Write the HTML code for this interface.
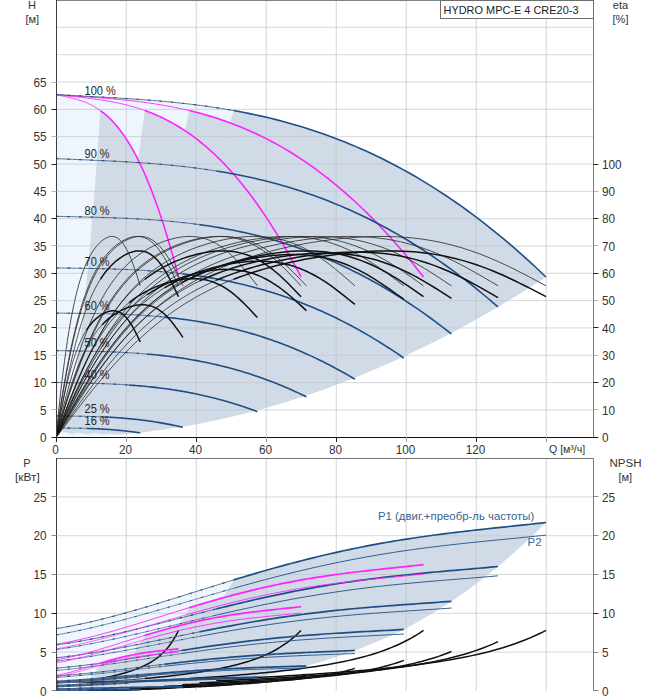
<!DOCTYPE html><html><head><meta charset="utf-8"><style>html,body{margin:0;padding:0;background:#fff;}svg{display:block;}text{font-family:"Liberation Sans",Arial,sans-serif;}</style></head><body>
<svg width="658" height="700" viewBox="0 0 658 700">
<defs><clipPath id="ct"><rect x="57" y="0" width="536" height="437"/></clipPath><clipPath id="cb"><rect x="57" y="458" width="536" height="233"/></clipPath></defs>
<g clip-path="url(#ct)">
<path d="M56,437.3 L56,94.59 L64.31,95.06 L72.61,95.51 L80.92,95.96 L89.22,96.4 L97.53,96.85 L105.83,97.31 L114.14,97.79 L122.44,98.29 L130.75,98.82 L139.05,99.4 L147.36,100.02 L155.66,100.69 L163.97,101.41 L172.27,102.2 L180.58,103.06 L188.88,104 L197.19,105.01 L205.49,106.11 L213.8,107.31 L222.1,108.59 L230.41,109.98 L238.71,111.48 L247.02,113.09 L255.32,114.82 L263.63,116.66 L271.93,118.63 L280.24,120.74 L288.54,122.97 L296.85,125.35 L305.15,127.87 L313.46,130.53 L321.76,133.35 L330.07,136.32 L338.37,139.45 L346.68,142.74 L354.98,146.19 L363.29,149.82 L371.59,153.61 L379.9,157.58 L388.2,161.72 L396.51,166.04 L404.81,170.55 L413.12,175.24 L421.42,180.12 L429.73,185.19 L438.03,190.45 L446.34,195.9 L454.64,201.55 L462.95,207.4 L471.25,213.44 L479.56,219.69 L487.86,226.14 L496.17,232.79 L504.47,239.64 L512.78,246.7 L521.08,253.97 L529.39,261.45 L537.69,269.13 L546,277.03 L546,277.03 L533.44,285.14 L520.87,293.04 L508.31,300.73 L495.74,308.22 L483.18,315.49 L470.62,322.55 L458.05,329.4 L445.49,336.04 L432.92,342.46 L420.36,348.68 L407.79,354.69 L395.23,360.48 L382.67,366.07 L370.1,371.44 L357.54,376.6 L344.97,381.56 L332.41,386.3 L319.85,390.83 L307.28,395.15 L294.72,399.26 L282.15,403.16 L269.59,406.85 L257.03,410.32 L244.46,413.59 L231.9,416.65 L219.33,419.49 L206.77,422.13 L194.21,424.55 L181.64,426.76 L169.08,428.76 L156.51,430.56 L143.95,432.14 L131.38,433.51 L118.82,434.67 L106.26,435.61 L93.69,436.35 L81.13,436.88 L68.56,437.19 L56,437.3 Z" fill="#eef5fd"/>
<path d="M100.42,110.56 L101.74,111.53 L103.06,112.54 L104.39,113.6 L105.71,114.71 L107.03,115.87 L108.36,117.08 L109.68,118.34 L111,119.65 L112.33,121.02 L113.65,122.44 L114.97,123.92 L116.3,125.45 L117.62,127.05 L118.95,128.7 L120.27,130.41 L121.59,132.18 L122.92,134.02 L124.24,135.91 L125.56,137.88 L126.89,139.9 L128.21,142 L129.53,144.15 L130.86,146.38 L132.18,148.68 L133.5,151.04 L134.83,153.47 L136.15,155.98 L137.47,158.56 L138.8,161.2 L140.12,163.92 L141.44,166.72 L142.77,169.59 L144.09,172.53 L145.41,175.55 L146.74,178.65 L148.06,181.82 L149.38,185.07 L150.71,188.4 L152.03,191.8 L153.35,195.29 L154.68,198.85 L156,202.49 L157.32,206.22 L158.65,210.02 L159.97,213.91 L161.3,217.88 L162.62,221.93 L163.94,226.06 L165.27,230.27 L166.59,234.57 L167.91,238.95 L169.24,243.42 L170.56,247.97 L171.88,252.6 L173.21,257.31 L174.53,262.11 L175.85,267 L177.18,271.97 L178.5,277.03 L178.5,277.03 L175.77,284.1 L173.03,291.01 L170.3,297.76 L167.57,304.35 L164.84,310.78 L162.1,317.06 L159.37,323.17 L156.64,329.13 L153.91,334.92 L151.17,340.56 L148.44,346.03 L145.71,351.35 L142.97,356.51 L140.24,361.5 L137.51,366.34 L134.78,371.02 L132.04,375.54 L129.31,379.9 L126.58,384.1 L123.85,388.14 L121.11,392.02 L118.38,395.74 L115.65,399.3 L112.92,402.7 L110.18,405.94 L107.45,409.03 L104.72,411.95 L101.98,414.72 L99.25,417.32 L96.52,419.76 L93.79,422.05 L91.05,424.18 L88.32,426.14 L85.59,427.95 L82.86,429.6 L80.12,431.08 L77.39,432.41 L74.66,433.58 L71.92,434.59 L71.92,434.59 L71.75,434.51 L71.58,434.42 L71.41,434.34 L71.24,434.26 L71.06,434.18 L70.89,434.1 L70.72,434.02 L70.55,433.95 L70.38,433.87 L70.2,433.8 L70.03,433.73 L69.86,433.66 L69.69,433.59 L69.52,433.52 L69.34,433.46 L69.17,433.39 L69,433.33 L68.83,433.27 L68.66,433.21 L68.48,433.15 L68.31,433.09 L68.14,433.04 L67.97,432.98 L67.8,432.93 L67.62,432.88 L67.45,432.83 L67.28,432.78 L67.11,432.73 L66.94,432.68 L66.76,432.63 L66.59,432.59 L66.42,432.55 L66.25,432.5 L66.08,432.46 L65.9,432.42 L65.73,432.38 L65.56,432.35 L65.39,432.31 L65.22,432.27 L65.04,432.24 L64.87,432.21 L64.7,432.17 L64.53,432.14 L64.35,432.11 L64.18,432.08 L64.01,432.06 L63.84,432.03 L63.67,432 L63.49,431.98 L63.32,431.95 L63.15,431.93 L62.98,431.91 L62.81,431.89 L62.63,431.87 L62.46,431.85 L62.29,431.83 L62.12,431.81 L61.95,431.79 L61.77,431.78 L61.77,431.78 L62.77,429.72 L63.76,427.34 L64.75,424.63 L65.74,421.6 L66.73,418.24 L67.72,414.55 L68.71,410.55 L69.7,406.21 L70.69,401.55 L71.68,396.57 L72.67,391.26 L73.66,385.62 L74.66,379.66 L75.65,373.38 L76.64,366.77 L77.63,359.83 L78.62,352.57 L79.61,344.98 L80.6,337.07 L81.59,328.84 L82.58,320.28 L83.57,311.39 L84.56,302.18 L85.55,292.64 L86.55,282.78 L87.54,272.59 L88.53,262.08 L89.52,251.24 L90.51,240.08 L91.5,228.59 L92.49,216.77 L93.48,204.64 L94.47,192.17 L95.46,179.38 L96.45,166.27 L97.44,152.83 L98.44,139.06 L99.43,124.97 L100.42,110.56 Z" fill="#d0dbe7"/>
<path d="M144.83,110.56 L147.48,111.53 L150.13,112.54 L152.77,113.6 L155.42,114.71 L158.07,115.87 L160.72,117.08 L163.36,118.34 L166.01,119.65 L168.66,121.02 L171.3,122.44 L173.95,123.92 L176.6,125.45 L179.24,127.05 L181.89,128.7 L184.54,130.41 L187.18,132.18 L189.83,134.02 L192.48,135.91 L195.12,137.88 L197.77,139.9 L200.42,142 L203.07,144.15 L205.71,146.38 L208.36,148.68 L211.01,151.04 L213.65,153.47 L216.3,155.98 L218.95,158.56 L221.59,161.2 L224.24,163.92 L226.89,166.72 L229.53,169.59 L232.18,172.53 L234.83,175.55 L237.47,178.65 L240.12,181.82 L242.77,185.07 L245.42,188.4 L248.06,191.8 L250.71,195.29 L253.36,198.85 L256,202.49 L258.65,206.22 L261.3,210.02 L263.94,213.91 L266.59,217.88 L269.24,221.93 L271.88,226.06 L274.53,230.27 L277.18,234.57 L279.82,238.95 L282.47,243.42 L285.12,247.97 L287.77,252.6 L290.41,257.31 L293.06,262.11 L295.71,267 L298.35,271.97 L301,277.03 L301,277.03 L295.53,284.1 L290.07,291.01 L284.6,297.76 L279.14,304.35 L273.67,310.78 L268.21,317.06 L262.74,323.17 L257.28,329.13 L251.81,334.92 L246.35,340.56 L240.88,346.03 L235.42,351.35 L229.95,356.51 L224.48,361.5 L219.02,366.34 L213.55,371.02 L208.09,375.54 L202.62,379.9 L197.16,384.1 L191.69,388.14 L186.23,392.02 L180.76,395.74 L175.3,399.3 L169.83,402.7 L164.37,405.94 L158.9,409.03 L153.43,411.95 L147.97,414.72 L142.5,417.32 L137.04,419.76 L131.57,422.05 L126.11,424.18 L120.64,426.14 L115.18,427.95 L109.71,429.6 L104.25,431.08 L98.78,432.41 L93.32,433.58 L87.85,434.59 L87.85,434.59 L87.51,434.51 L87.16,434.42 L86.82,434.34 L86.47,434.26 L86.13,434.18 L85.79,434.1 L85.44,434.02 L85.1,433.95 L84.75,433.87 L84.41,433.8 L84.06,433.73 L83.72,433.66 L83.38,433.59 L83.03,433.52 L82.69,433.46 L82.34,433.39 L82,433.33 L81.66,433.27 L81.31,433.21 L80.97,433.15 L80.62,433.09 L80.28,433.04 L79.94,432.98 L79.59,432.93 L79.25,432.88 L78.9,432.83 L78.56,432.78 L78.22,432.73 L77.87,432.68 L77.53,432.63 L77.18,432.59 L76.84,432.55 L76.49,432.5 L76.15,432.46 L75.81,432.42 L75.46,432.38 L75.12,432.35 L74.77,432.31 L74.43,432.27 L74.09,432.24 L73.74,432.21 L73.4,432.17 L73.05,432.14 L72.71,432.11 L72.37,432.08 L72.02,432.06 L71.68,432.03 L71.33,432 L70.99,431.98 L70.65,431.95 L70.3,431.93 L69.96,431.91 L69.61,431.89 L69.27,431.87 L68.92,431.85 L68.58,431.83 L68.24,431.81 L67.89,431.79 L67.55,431.78 L67.55,431.78 L69.53,429.72 L71.51,427.34 L73.49,424.63 L75.48,421.6 L77.46,418.24 L79.44,414.55 L81.42,410.55 L83.4,406.21 L85.38,401.55 L87.37,396.57 L89.35,391.26 L91.33,385.62 L93.31,379.66 L95.29,373.38 L97.27,366.77 L99.26,359.83 L101.24,352.57 L103.22,344.98 L105.2,337.07 L107.18,328.84 L109.16,320.28 L111.15,311.39 L113.13,302.18 L115.11,292.64 L117.09,282.78 L119.07,272.59 L121.05,262.08 L123.04,251.24 L125.02,240.08 L127,228.59 L128.98,216.77 L130.96,204.64 L132.94,192.17 L134.93,179.38 L136.91,166.27 L138.89,152.83 L140.87,139.06 L142.85,124.97 L144.83,110.56 Z" fill="#d0dbe7"/>
<path d="M189.25,110.56 L193.22,111.53 L197.19,112.54 L201.16,113.6 L205.13,114.71 L209.1,115.87 L213.07,117.08 L217.04,118.34 L221.01,119.65 L224.98,121.02 L228.95,122.44 L232.92,123.92 L236.89,125.45 L240.87,127.05 L244.84,128.7 L248.81,130.41 L252.78,132.18 L256.75,134.02 L260.72,135.91 L264.69,137.88 L268.66,139.9 L272.63,142 L276.6,144.15 L280.57,146.38 L284.54,148.68 L288.51,151.04 L292.48,153.47 L296.45,155.98 L300.42,158.56 L304.39,161.2 L308.36,163.92 L312.33,166.72 L316.3,169.59 L320.27,172.53 L324.24,175.55 L328.21,178.65 L332.18,181.82 L336.15,185.07 L340.12,188.4 L344.09,191.8 L348.06,195.29 L352.03,198.85 L356,202.49 L359.97,206.22 L363.95,210.02 L367.92,213.91 L371.89,217.88 L375.86,221.93 L379.83,226.06 L383.8,230.27 L387.77,234.57 L391.74,238.95 L395.71,243.42 L399.68,247.97 L403.65,252.6 L407.62,257.31 L411.59,262.11 L415.56,267 L419.53,271.97 L423.5,277.03 L423.5,277.03 L415.3,284.1 L407.1,291.01 L398.91,297.76 L390.71,304.35 L382.51,310.78 L374.31,317.06 L366.11,323.17 L357.92,329.13 L349.72,334.92 L341.52,340.56 L333.32,346.03 L325.12,351.35 L316.93,356.51 L308.73,361.5 L300.53,366.34 L292.33,371.02 L284.13,375.54 L275.93,379.9 L267.74,384.1 L259.54,388.14 L251.34,392.02 L243.14,395.74 L234.94,399.3 L226.75,402.7 L218.55,405.94 L210.35,409.03 L202.15,411.95 L193.95,414.72 L185.76,417.32 L177.56,419.76 L169.36,422.05 L161.16,424.18 L152.96,426.14 L144.77,427.95 L136.57,429.6 L128.37,431.08 L120.17,432.41 L111.97,433.58 L103.78,434.59 L103.77,434.59 L103.26,434.51 L102.74,434.42 L102.23,434.34 L101.71,434.26 L101.19,434.18 L100.68,434.1 L100.16,434.02 L99.65,433.95 L99.13,433.87 L98.61,433.8 L98.1,433.73 L97.58,433.66 L97.07,433.59 L96.55,433.52 L96.03,433.46 L95.52,433.39 L95,433.33 L94.48,433.27 L93.97,433.21 L93.45,433.15 L92.94,433.09 L92.42,433.04 L91.9,432.98 L91.39,432.93 L90.87,432.88 L90.36,432.83 L89.84,432.78 L89.32,432.73 L88.81,432.68 L88.29,432.63 L87.77,432.59 L87.26,432.55 L86.74,432.5 L86.23,432.46 L85.71,432.42 L85.19,432.38 L84.68,432.35 L84.16,432.31 L83.65,432.27 L83.13,432.24 L82.61,432.21 L82.1,432.17 L81.58,432.14 L81.06,432.11 L80.55,432.08 L80.03,432.06 L79.52,432.03 L79,432 L78.48,431.98 L77.97,431.95 L77.45,431.93 L76.94,431.91 L76.42,431.89 L75.9,431.87 L75.39,431.85 L74.87,431.83 L74.35,431.81 L73.84,431.79 L73.32,431.78 L73.32,431.78 L76.3,429.72 L79.27,427.34 L82.24,424.63 L85.21,421.6 L88.19,418.24 L91.16,414.55 L94.13,410.55 L97.1,406.21 L100.08,401.55 L103.05,396.57 L106.02,391.26 L108.99,385.62 L111.97,379.66 L114.94,373.38 L117.91,366.77 L120.88,359.83 L123.86,352.57 L126.83,344.98 L129.8,337.07 L132.77,328.84 L135.75,320.28 L138.72,311.39 L141.69,302.18 L144.66,292.64 L147.64,282.78 L150.61,272.59 L153.58,262.08 L156.55,251.24 L159.53,240.08 L162.5,228.59 L165.47,216.77 L168.44,204.64 L171.42,192.17 L174.39,179.38 L177.36,166.27 L180.33,152.83 L183.31,139.06 L186.28,124.97 L189.25,110.56 Z" fill="#d0dbe7"/>
<path d="M233.67,110.56 L238.96,111.53 L244.26,112.54 L249.55,113.6 L254.84,114.71 L260.14,115.87 L265.43,117.08 L270.72,118.34 L276.02,119.65 L281.31,121.02 L286.61,122.44 L291.9,123.92 L297.19,125.45 L302.49,127.05 L307.78,128.7 L313.07,130.41 L318.37,132.18 L323.66,134.02 L328.96,135.91 L334.25,137.88 L339.54,139.9 L344.84,142 L350.13,144.15 L355.42,146.38 L360.72,148.68 L366.01,151.04 L371.31,153.47 L376.6,155.98 L381.89,158.56 L387.19,161.2 L392.48,163.92 L397.77,166.72 L403.07,169.59 L408.36,172.53 L413.66,175.55 L418.95,178.65 L424.24,181.82 L429.54,185.07 L434.83,188.4 L440.12,191.8 L445.42,195.29 L450.71,198.85 L456.01,202.49 L461.3,206.22 L466.59,210.02 L471.89,213.91 L477.18,217.88 L482.47,221.93 L487.77,226.06 L493.06,230.27 L498.36,234.57 L503.65,238.95 L508.94,243.42 L514.24,247.97 L519.53,252.6 L524.82,257.31 L530.12,262.11 L535.41,267 L540.71,271.97 L546,277.03 L546,277.03 L535.07,284.1 L524.14,291.01 L513.21,297.76 L502.28,304.35 L491.35,310.78 L480.42,317.06 L469.48,323.17 L458.55,329.13 L447.62,334.92 L436.69,340.56 L425.76,346.03 L414.83,351.35 L403.9,356.51 L392.97,361.5 L382.04,366.34 L371.11,371.02 L360.18,375.54 L349.25,379.9 L338.32,384.1 L327.38,388.14 L316.45,392.02 L305.52,395.74 L294.59,399.3 L283.66,402.7 L272.73,405.94 L261.8,409.03 L250.87,411.95 L239.94,414.72 L229.01,417.32 L218.08,419.76 L207.15,422.05 L196.22,424.18 L185.28,426.14 L174.35,427.95 L163.42,429.6 L152.49,431.08 L141.56,432.41 L130.63,433.58 L119.7,434.59 L119.7,434.59 L119.01,434.51 L118.32,434.42 L117.64,434.34 L116.95,434.26 L116.26,434.18 L115.57,434.1 L114.88,434.02 L114.19,433.95 L113.51,433.87 L112.82,433.8 L112.13,433.73 L111.44,433.66 L110.75,433.59 L110.07,433.52 L109.38,433.46 L108.69,433.39 L108,433.33 L107.31,433.27 L106.62,433.21 L105.94,433.15 L105.25,433.09 L104.56,433.04 L103.87,432.98 L103.18,432.93 L102.5,432.88 L101.81,432.83 L101.12,432.78 L100.43,432.73 L99.74,432.68 L99.05,432.63 L98.37,432.59 L97.68,432.55 L96.99,432.5 L96.3,432.46 L95.61,432.42 L94.93,432.38 L94.24,432.35 L93.55,432.31 L92.86,432.27 L92.17,432.24 L91.48,432.21 L90.8,432.17 L90.11,432.14 L89.42,432.11 L88.73,432.08 L88.04,432.06 L87.36,432.03 L86.67,432 L85.98,431.98 L85.29,431.95 L84.6,431.93 L83.91,431.91 L83.23,431.89 L82.54,431.87 L81.85,431.85 L81.16,431.83 L80.47,431.81 L79.79,431.79 L79.1,431.78 L79.1,431.78 L83.06,429.72 L87.02,427.34 L90.99,424.63 L94.95,421.6 L98.91,418.24 L102.88,414.55 L106.84,410.55 L110.8,406.21 L114.77,401.55 L118.73,396.57 L122.69,391.26 L126.66,385.62 L130.62,379.66 L134.58,373.38 L138.55,366.77 L142.51,359.83 L146.47,352.57 L150.44,344.98 L154.4,337.07 L158.36,328.84 L162.33,320.28 L166.29,311.39 L170.25,302.18 L174.22,292.64 L178.18,282.78 L182.14,272.59 L186.11,262.08 L190.07,251.24 L194.03,240.08 L198,228.59 L201.96,216.77 L205.92,204.64 L209.89,192.17 L213.85,179.38 L217.81,166.27 L221.78,152.83 L225.74,139.06 L229.7,124.97 L233.67,110.56 Z" fill="#d0dbe7"/>
<line x1="57" y1="409.97" x2="593" y2="409.97" stroke="#bec3c8" stroke-opacity="0.65" stroke-width="1"/>
<line x1="57" y1="382.64" x2="593" y2="382.64" stroke="#bec3c8" stroke-opacity="0.65" stroke-width="1"/>
<line x1="57" y1="355.31" x2="593" y2="355.31" stroke="#bec3c8" stroke-opacity="0.65" stroke-width="1"/>
<line x1="57" y1="327.98" x2="593" y2="327.98" stroke="#bec3c8" stroke-opacity="0.65" stroke-width="1"/>
<line x1="57" y1="300.65" x2="593" y2="300.65" stroke="#bec3c8" stroke-opacity="0.65" stroke-width="1"/>
<line x1="57" y1="273.32" x2="593" y2="273.32" stroke="#bec3c8" stroke-opacity="0.65" stroke-width="1"/>
<line x1="57" y1="245.99" x2="593" y2="245.99" stroke="#bec3c8" stroke-opacity="0.65" stroke-width="1"/>
<line x1="57" y1="218.66" x2="593" y2="218.66" stroke="#bec3c8" stroke-opacity="0.65" stroke-width="1"/>
<line x1="57" y1="191.33" x2="593" y2="191.33" stroke="#bec3c8" stroke-opacity="0.65" stroke-width="1"/>
<line x1="57" y1="164" x2="593" y2="164" stroke="#bec3c8" stroke-opacity="0.65" stroke-width="1"/>
<line x1="57" y1="136.67" x2="593" y2="136.67" stroke="#bec3c8" stroke-opacity="0.65" stroke-width="1"/>
<line x1="57" y1="109.34" x2="593" y2="109.34" stroke="#bec3c8" stroke-opacity="0.65" stroke-width="1"/>
<line x1="57" y1="82.01" x2="593" y2="82.01" stroke="#bec3c8" stroke-opacity="0.65" stroke-width="1"/>
<line x1="57" y1="54.68" x2="593" y2="54.68" stroke="#bec3c8" stroke-opacity="0.65" stroke-width="1"/>
<line x1="57" y1="27.35" x2="593" y2="27.35" stroke="#bec3c8" stroke-opacity="0.65" stroke-width="1"/>
<line x1="126.25" y1="1" x2="126.25" y2="437" stroke="#bec3c8" stroke-opacity="0.65" stroke-width="1.1"/>
<line x1="196.25" y1="1" x2="196.25" y2="437" stroke="#bec3c8" stroke-opacity="0.65" stroke-width="1.1"/>
<line x1="266.25" y1="1" x2="266.25" y2="437" stroke="#bec3c8" stroke-opacity="0.65" stroke-width="1.1"/>
<line x1="336.25" y1="1" x2="336.25" y2="437" stroke="#bec3c8" stroke-opacity="0.65" stroke-width="1.1"/>
<line x1="406.25" y1="1" x2="406.25" y2="437" stroke="#bec3c8" stroke-opacity="0.65" stroke-width="1.1"/>
<line x1="476.25" y1="1" x2="476.25" y2="437" stroke="#bec3c8" stroke-opacity="0.65" stroke-width="1.1"/>
<line x1="546.25" y1="1" x2="546.25" y2="437" stroke="#bec3c8" stroke-opacity="0.65" stroke-width="1.1"/>
<path d="M56,94.59 L56.75,94.76 L57.51,94.93 L58.26,95.1 L59.01,95.27 L59.76,95.43 L60.52,95.59 L61.27,95.75 L62.02,95.91 L62.78,96.08 L63.53,96.24 L64.28,96.4 L65.03,96.56 L65.79,96.72 L66.54,96.88 L67.29,97.05 L68.05,97.22 L68.8,97.38 L69.55,97.56 L70.3,97.73 L71.06,97.91 L71.81,98.09 L72.56,98.28 L73.32,98.47 L74.07,98.66 L74.82,98.86 L75.57,99.06 L76.33,99.27 L77.08,99.49 L77.83,99.71 L78.58,99.94 L79.34,100.17 L80.09,100.41 L80.84,100.66 L81.6,100.92 L82.35,101.18 L83.1,101.45 L83.85,101.73 L84.61,102.02 L85.36,102.32 L86.11,102.63 L86.87,102.94 L87.62,103.27 L88.37,103.61 L89.12,103.95 L89.88,104.31 L90.63,104.68 L91.38,105.06 L92.14,105.45 L92.89,105.85 L93.64,106.26 L94.39,106.69 L95.15,107.13 L95.9,107.58 L96.65,108.04 L97.41,108.52 L98.16,109.01 L98.91,109.51 L99.66,110.03 L100.42,110.56" fill="none" stroke="#ff22ff" stroke-width="0.9"/>
<path d="M100.42,110.56 L101.74,111.53 L103.06,112.54 L104.39,113.6 L105.71,114.71 L107.03,115.87 L108.36,117.08 L109.68,118.34 L111,119.65 L112.33,121.02 L113.65,122.44 L114.97,123.92 L116.3,125.45 L117.62,127.05 L118.95,128.7 L120.27,130.41 L121.59,132.18 L122.92,134.02 L124.24,135.91 L125.56,137.88 L126.89,139.9 L128.21,142 L129.53,144.15 L130.86,146.38 L132.18,148.68 L133.5,151.04 L134.83,153.47 L136.15,155.98 L137.47,158.56 L138.8,161.2 L140.12,163.92 L141.44,166.72 L142.77,169.59 L144.09,172.53 L145.41,175.55 L146.74,178.65 L148.06,181.82 L149.38,185.07 L150.71,188.4 L152.03,191.8 L153.35,195.29 L154.68,198.85 L156,202.49 L157.32,206.22 L158.65,210.02 L159.97,213.91 L161.3,217.88 L162.62,221.93 L163.94,226.06 L165.27,230.27 L166.59,234.57 L167.91,238.95 L169.24,243.42 L170.56,247.97 L171.88,252.6 L173.21,257.31 L174.53,262.11 L175.85,267 L177.18,271.97 L178.5,277.03" fill="none" stroke="#ff22ff" stroke-width="1.6"/>
<path d="M56,94.59 L57.51,94.76 L59.01,94.93 L60.52,95.1 L62.02,95.27 L63.53,95.43 L65.03,95.59 L66.54,95.75 L68.05,95.91 L69.55,96.08 L71.06,96.24 L72.56,96.4 L74.07,96.56 L75.57,96.72 L77.08,96.88 L78.58,97.05 L80.09,97.22 L81.6,97.38 L83.1,97.56 L84.61,97.73 L86.11,97.91 L87.62,98.09 L89.12,98.28 L90.63,98.47 L92.14,98.66 L93.64,98.86 L95.15,99.06 L96.65,99.27 L98.16,99.49 L99.66,99.71 L101.17,99.94 L102.68,100.17 L104.18,100.41 L105.69,100.66 L107.19,100.92 L108.7,101.18 L110.2,101.45 L111.71,101.73 L113.22,102.02 L114.72,102.32 L116.23,102.63 L117.73,102.94 L119.24,103.27 L120.74,103.61 L122.25,103.95 L123.75,104.31 L125.26,104.68 L126.77,105.06 L128.27,105.45 L129.78,105.85 L131.28,106.26 L132.79,106.69 L134.29,107.13 L135.8,107.58 L137.31,108.04 L138.81,108.52 L140.32,109.01 L141.82,109.51 L143.33,110.03 L144.83,110.56" fill="none" stroke="#ff22ff" stroke-width="0.9"/>
<path d="M144.83,110.56 L147.48,111.53 L150.13,112.54 L152.77,113.6 L155.42,114.71 L158.07,115.87 L160.72,117.08 L163.36,118.34 L166.01,119.65 L168.66,121.02 L171.3,122.44 L173.95,123.92 L176.6,125.45 L179.24,127.05 L181.89,128.7 L184.54,130.41 L187.18,132.18 L189.83,134.02 L192.48,135.91 L195.12,137.88 L197.77,139.9 L200.42,142 L203.07,144.15 L205.71,146.38 L208.36,148.68 L211.01,151.04 L213.65,153.47 L216.3,155.98 L218.95,158.56 L221.59,161.2 L224.24,163.92 L226.89,166.72 L229.53,169.59 L232.18,172.53 L234.83,175.55 L237.47,178.65 L240.12,181.82 L242.77,185.07 L245.42,188.4 L248.06,191.8 L250.71,195.29 L253.36,198.85 L256,202.49 L258.65,206.22 L261.3,210.02 L263.94,213.91 L266.59,217.88 L269.24,221.93 L271.88,226.06 L274.53,230.27 L277.18,234.57 L279.82,238.95 L282.47,243.42 L285.12,247.97 L287.77,252.6 L290.41,257.31 L293.06,262.11 L295.71,267 L298.35,271.97 L301,277.03" fill="none" stroke="#ff22ff" stroke-width="1.6"/>
<path d="M56,94.59 L58.26,94.76 L60.52,94.93 L62.78,95.1 L65.03,95.27 L67.29,95.43 L69.55,95.59 L71.81,95.75 L74.07,95.91 L76.33,96.08 L78.58,96.24 L80.84,96.4 L83.1,96.56 L85.36,96.72 L87.62,96.88 L89.88,97.05 L92.14,97.22 L94.39,97.38 L96.65,97.56 L98.91,97.73 L101.17,97.91 L103.43,98.09 L105.69,98.28 L107.95,98.47 L110.2,98.66 L112.46,98.86 L114.72,99.06 L116.98,99.27 L119.24,99.49 L121.5,99.71 L123.75,99.94 L126.01,100.17 L128.27,100.41 L130.53,100.66 L132.79,100.92 L135.05,101.18 L137.31,101.45 L139.56,101.73 L141.82,102.02 L144.08,102.32 L146.34,102.63 L148.6,102.94 L150.86,103.27 L153.12,103.61 L155.37,103.95 L157.63,104.31 L159.89,104.68 L162.15,105.06 L164.41,105.45 L166.67,105.85 L168.92,106.26 L171.18,106.69 L173.44,107.13 L175.7,107.58 L177.96,108.04 L180.22,108.52 L182.48,109.01 L184.73,109.51 L186.99,110.03 L189.25,110.56" fill="none" stroke="#ff22ff" stroke-width="0.9"/>
<path d="M189.25,110.56 L193.22,111.53 L197.19,112.54 L201.16,113.6 L205.13,114.71 L209.1,115.87 L213.07,117.08 L217.04,118.34 L221.01,119.65 L224.98,121.02 L228.95,122.44 L232.92,123.92 L236.89,125.45 L240.87,127.05 L244.84,128.7 L248.81,130.41 L252.78,132.18 L256.75,134.02 L260.72,135.91 L264.69,137.88 L268.66,139.9 L272.63,142 L276.6,144.15 L280.57,146.38 L284.54,148.68 L288.51,151.04 L292.48,153.47 L296.45,155.98 L300.42,158.56 L304.39,161.2 L308.36,163.92 L312.33,166.72 L316.3,169.59 L320.27,172.53 L324.24,175.55 L328.21,178.65 L332.18,181.82 L336.15,185.07 L340.12,188.4 L344.09,191.8 L348.06,195.29 L352.03,198.85 L356,202.49 L359.97,206.22 L363.95,210.02 L367.92,213.91 L371.89,217.88 L375.86,221.93 L379.83,226.06 L383.8,230.27 L387.77,234.57 L391.74,238.95 L395.71,243.42 L399.68,247.97 L403.65,252.6 L407.62,257.31 L411.59,262.11 L415.56,267 L419.53,271.97 L423.5,277.03" fill="none" stroke="#ff22ff" stroke-width="1.6"/>
<path d="M56,94.59 L59.01,94.76 L62.02,94.93 L65.03,95.1 L68.05,95.27 L71.06,95.43 L74.07,95.59 L77.08,95.75 L80.09,95.91 L83.1,96.08 L86.11,96.24 L89.12,96.4 L92.14,96.56 L95.15,96.72 L98.16,96.88 L101.17,97.05 L104.18,97.22 L107.19,97.38 L110.2,97.56 L113.22,97.73 L116.23,97.91 L119.24,98.09 L122.25,98.28 L125.26,98.47 L128.27,98.66 L131.28,98.86 L134.29,99.06 L137.31,99.27 L140.32,99.49 L143.33,99.71 L146.34,99.94 L149.35,100.17 L152.36,100.41 L155.37,100.66 L158.39,100.92 L161.4,101.18 L164.41,101.45 L167.42,101.73 L170.43,102.02 L173.44,102.32 L176.45,102.63 L179.46,102.94 L182.48,103.27 L185.49,103.61 L188.5,103.95 L191.51,104.31 L194.52,104.68 L197.53,105.06 L200.54,105.45 L203.55,105.85 L206.57,106.26 L209.58,106.69 L212.59,107.13 L215.6,107.58 L218.61,108.04 L221.62,108.52 L224.63,109.01 L227.65,109.51 L230.66,110.03 L233.67,110.56" fill="none" stroke="#4a6488" stroke-width="0.9"/><path d="M56,94.59 L59.01,94.76 L62.02,94.93 L65.03,95.1 L68.05,95.27 L71.06,95.43 L74.07,95.59 L77.08,95.75 L80.09,95.91 L83.1,96.08 L86.11,96.24 L89.12,96.4 L92.14,96.56 L95.15,96.72 L98.16,96.88 L101.17,97.05 L104.18,97.22 L107.19,97.38 L110.2,97.56 L113.22,97.73 L116.23,97.91 L119.24,98.09 L122.25,98.28 L125.26,98.47 L128.27,98.66 L131.28,98.86 L134.29,99.06 L137.31,99.27 L140.32,99.49 L143.33,99.71 L146.34,99.94 L149.35,100.17 L152.36,100.41 L155.37,100.66 L158.39,100.92 L161.4,101.18 L164.41,101.45 L167.42,101.73 L170.43,102.02 L173.44,102.32 L176.45,102.63 L179.46,102.94 L182.48,103.27 L185.49,103.61 L188.5,103.95 L191.51,104.31 L194.52,104.68 L197.53,105.06 L200.54,105.45 L203.55,105.85 L206.57,106.26 L209.58,106.69 L212.59,107.13 L215.6,107.58 L218.61,108.04 L221.62,108.52 L224.63,109.01 L227.65,109.51 L230.66,110.03 L233.67,110.56" fill="none" stroke="#1f4e85" stroke-width="1.1" stroke-dasharray="2.5 9"/>
<path d="M233.67,110.56 L238.96,111.53 L244.26,112.54 L249.55,113.6 L254.84,114.71 L260.14,115.87 L265.43,117.08 L270.72,118.34 L276.02,119.65 L281.31,121.02 L286.61,122.44 L291.9,123.92 L297.19,125.45 L302.49,127.05 L307.78,128.7 L313.07,130.41 L318.37,132.18 L323.66,134.02 L328.96,135.91 L334.25,137.88 L339.54,139.9 L344.84,142 L350.13,144.15 L355.42,146.38 L360.72,148.68 L366.01,151.04 L371.31,153.47 L376.6,155.98 L381.89,158.56 L387.19,161.2 L392.48,163.92 L397.77,166.72 L403.07,169.59 L408.36,172.53 L413.66,175.55 L418.95,178.65 L424.24,181.82 L429.54,185.07 L434.83,188.4 L440.12,191.8 L445.42,195.29 L450.71,198.85 L456.01,202.49 L461.3,206.22 L466.59,210.02 L471.89,213.91 L477.18,217.88 L482.47,221.93 L487.77,226.06 L493.06,230.27 L498.36,234.57 L503.65,238.95 L508.94,243.42 L514.24,247.97 L519.53,252.6 L524.82,257.31 L530.12,262.11 L535.41,267 L540.71,271.97 L546,277.03" fill="none" stroke="#1f4e85" stroke-width="1.6"/>
<path d="M56,158.59 L58.72,158.72 L61.43,158.84 L64.15,158.96 L66.86,159.08 L69.58,159.2 L72.3,159.32 L75.01,159.43 L77.73,159.55 L80.45,159.66 L83.16,159.78 L85.88,159.9 L88.59,160.01 L91.31,160.13 L94.03,160.25 L96.74,160.37 L99.46,160.5 L102.18,160.62 L104.89,160.75 L107.61,160.88 L110.32,161.01 L113.04,161.15 L115.76,161.29 L118.47,161.43 L121.19,161.57 L123.91,161.73 L126.62,161.88 L129.34,162.04 L132.05,162.2 L134.77,162.37 L137.49,162.55 L140.2,162.73 L142.92,162.92 L145.64,163.11 L148.35,163.31 L151.07,163.51 L153.78,163.72 L156.5,163.94 L159.22,164.17 L161.93,164.4 L164.65,164.64 L167.36,164.89 L170.08,165.15 L172.8,165.42 L175.51,165.69 L178.23,165.97 L180.95,166.27 L183.66,166.57 L186.38,166.88 L189.09,167.2 L191.81,167.53 L194.53,167.87 L197.24,168.22 L199.96,168.58 L202.68,168.95 L205.39,169.33 L208.11,169.73 L210.82,170.13 L213.54,170.55 L216.26,170.97" fill="none" stroke="#4a6488" stroke-width="0.9"/><path d="M56,158.59 L58.72,158.72 L61.43,158.84 L64.15,158.96 L66.86,159.08 L69.58,159.2 L72.3,159.32 L75.01,159.43 L77.73,159.55 L80.45,159.66 L83.16,159.78 L85.88,159.9 L88.59,160.01 L91.31,160.13 L94.03,160.25 L96.74,160.37 L99.46,160.5 L102.18,160.62 L104.89,160.75 L107.61,160.88 L110.32,161.01 L113.04,161.15 L115.76,161.29 L118.47,161.43 L121.19,161.57 L123.91,161.73 L126.62,161.88 L129.34,162.04 L132.05,162.2 L134.77,162.37 L137.49,162.55 L140.2,162.73 L142.92,162.92 L145.64,163.11 L148.35,163.31 L151.07,163.51 L153.78,163.72 L156.5,163.94 L159.22,164.17 L161.93,164.4 L164.65,164.64 L167.36,164.89 L170.08,165.15 L172.8,165.42 L175.51,165.69 L178.23,165.97 L180.95,166.27 L183.66,166.57 L186.38,166.88 L189.09,167.2 L191.81,167.53 L194.53,167.87 L197.24,168.22 L199.96,168.58 L202.68,168.95 L205.39,169.33 L208.11,169.73 L210.82,170.13 L213.54,170.55 L216.26,170.97" fill="none" stroke="#1f4e85" stroke-width="1.1" stroke-dasharray="2.5 9"/>
<path d="M216.26,170.97 L221.03,171.75 L225.81,172.57 L230.58,173.43 L235.36,174.33 L240.13,175.26 L244.91,176.24 L249.68,177.26 L254.46,178.33 L259.23,179.44 L264.01,180.59 L268.78,181.79 L273.56,183.04 L278.33,184.33 L283.11,185.68 L287.88,187.07 L292.66,188.51 L297.43,190.01 L302.21,191.55 L306.98,193.15 L311.76,194.8 L316.53,196.51 L321.31,198.27 L326.08,200.09 L330.86,201.96 L335.63,203.89 L340.41,205.88 L345.18,207.92 L349.96,210.03 L354.73,212.19 L359.51,214.41 L364.28,216.7 L369.06,219.04 L373.83,221.45 L378.61,223.92 L383.38,226.45 L388.16,229.04 L392.93,231.7 L397.71,234.42 L402.48,237.21 L407.26,240.06 L412.03,242.97 L416.81,245.95 L421.58,249 L426.36,252.11 L431.13,255.29 L435.91,258.54 L440.68,261.85 L445.46,265.24 L450.23,268.68 L455.01,272.2 L459.78,275.79 L464.56,279.44 L469.33,283.17 L474.11,286.96 L478.88,290.82 L483.66,294.75 L488.43,298.75 L493.21,302.82 L497.98,306.96" fill="none" stroke="#1f4e85" stroke-width="1.6"/>
<path d="M56,216.32 L58.43,216.38 L60.86,216.43 L63.29,216.49 L65.72,216.54 L68.15,216.6 L70.58,216.65 L73.01,216.71 L75.44,216.76 L77.87,216.82 L80.3,216.87 L82.73,216.93 L85.16,216.99 L87.59,217.05 L90.02,217.11 L92.45,217.17 L94.88,217.23 L97.31,217.3 L99.74,217.37 L102.17,217.44 L104.6,217.52 L107.03,217.59 L109.46,217.67 L111.89,217.76 L114.32,217.84 L116.75,217.93 L119.18,218.03 L121.61,218.13 L124.04,218.23 L126.47,218.34 L128.9,218.45 L131.33,218.57 L133.76,218.69 L136.19,218.82 L138.62,218.95 L141.05,219.09 L143.48,219.24 L145.92,219.39 L148.35,219.55 L150.78,219.71 L153.21,219.88 L155.64,220.06 L158.07,220.24 L160.5,220.43 L162.93,220.63 L165.36,220.84 L167.79,221.05 L170.22,221.27 L172.65,221.5 L175.08,221.74 L177.51,221.98 L179.94,222.24 L182.37,222.5 L184.8,222.77 L187.23,223.05 L189.66,223.34 L192.09,223.64 L194.52,223.95 L196.95,224.27 L199.38,224.59" fill="none" stroke="#4a6488" stroke-width="0.9"/><path d="M56,216.32 L58.43,216.38 L60.86,216.43 L63.29,216.49 L65.72,216.54 L68.15,216.6 L70.58,216.65 L73.01,216.71 L75.44,216.76 L77.87,216.82 L80.3,216.87 L82.73,216.93 L85.16,216.99 L87.59,217.05 L90.02,217.11 L92.45,217.17 L94.88,217.23 L97.31,217.3 L99.74,217.37 L102.17,217.44 L104.6,217.52 L107.03,217.59 L109.46,217.67 L111.89,217.76 L114.32,217.84 L116.75,217.93 L119.18,218.03 L121.61,218.13 L124.04,218.23 L126.47,218.34 L128.9,218.45 L131.33,218.57 L133.76,218.69 L136.19,218.82 L138.62,218.95 L141.05,219.09 L143.48,219.24 L145.92,219.39 L148.35,219.55 L150.78,219.71 L153.21,219.88 L155.64,220.06 L158.07,220.24 L160.5,220.43 L162.93,220.63 L165.36,220.84 L167.79,221.05 L170.22,221.27 L172.65,221.5 L175.08,221.74 L177.51,221.98 L179.94,222.24 L182.37,222.5 L184.8,222.77 L187.23,223.05 L189.66,223.34 L192.09,223.64 L194.52,223.95 L196.95,224.27 L199.38,224.59" fill="none" stroke="#1f4e85" stroke-width="1.1" stroke-dasharray="2.5 9"/>
<path d="M199.38,224.59 L203.65,225.19 L207.92,225.82 L212.19,226.49 L216.47,227.18 L220.74,227.91 L225.01,228.68 L229.28,229.48 L233.55,230.31 L237.83,231.19 L242.1,232.1 L246.37,233.05 L250.64,234.03 L254.92,235.06 L259.19,236.13 L263.46,237.23 L267.73,238.38 L272,239.57 L276.28,240.81 L280.55,242.08 L284.82,243.4 L289.09,244.77 L293.36,246.18 L297.64,247.63 L301.91,249.14 L306.18,250.68 L310.45,252.28 L314.72,253.92 L319,255.61 L323.27,257.35 L327.54,259.14 L331.81,260.98 L336.08,262.87 L340.36,264.81 L344.63,266.8 L348.9,268.84 L353.17,270.93 L357.44,273.07 L361.72,275.27 L365.99,277.52 L370.26,279.82 L374.53,282.18 L378.8,284.58 L383.08,287.05 L387.35,289.56 L391.62,292.13 L395.89,294.76 L400.17,297.44 L404.44,300.17 L408.71,302.97 L412.98,305.81 L417.25,308.71 L421.53,311.67 L425.8,314.69 L430.07,317.76 L434.34,320.88 L438.61,324.06 L442.89,327.3 L447.16,330.6 L451.43,333.95" fill="none" stroke="#1f4e85" stroke-width="1.6"/>
<path d="M56,267.93 L58.14,267.96 L60.28,267.99 L62.41,268.02 L64.55,268.05 L66.69,268.08 L68.83,268.11 L70.97,268.14 L73.1,268.18 L75.24,268.21 L77.38,268.24 L79.52,268.27 L81.66,268.3 L83.79,268.34 L85.93,268.38 L88.07,268.41 L90.21,268.45 L92.35,268.49 L94.48,268.54 L96.62,268.58 L98.76,268.63 L100.9,268.68 L103.04,268.73 L105.17,268.78 L107.31,268.84 L109.45,268.9 L111.59,268.97 L113.73,269.03 L115.87,269.11 L118,269.18 L120.14,269.26 L122.28,269.34 L124.42,269.43 L126.56,269.52 L128.69,269.61 L130.83,269.71 L132.97,269.82 L135.11,269.92 L137.25,270.04 L139.38,270.16 L141.52,270.28 L143.66,270.41 L145.8,270.54 L147.94,270.69 L150.07,270.83 L152.21,270.98 L154.35,271.14 L156.49,271.31 L158.63,271.48 L160.76,271.65 L162.9,271.84 L165.04,272.03 L167.18,272.22 L169.32,272.43 L171.45,272.64 L173.59,272.86 L175.73,273.08 L177.87,273.31 L180.01,273.55 L182.14,273.8" fill="none" stroke="#4a6488" stroke-width="0.9"/><path d="M56,267.93 L58.14,267.96 L60.28,267.99 L62.41,268.02 L64.55,268.05 L66.69,268.08 L68.83,268.11 L70.97,268.14 L73.1,268.18 L75.24,268.21 L77.38,268.24 L79.52,268.27 L81.66,268.3 L83.79,268.34 L85.93,268.38 L88.07,268.41 L90.21,268.45 L92.35,268.49 L94.48,268.54 L96.62,268.58 L98.76,268.63 L100.9,268.68 L103.04,268.73 L105.17,268.78 L107.31,268.84 L109.45,268.9 L111.59,268.97 L113.73,269.03 L115.87,269.11 L118,269.18 L120.14,269.26 L122.28,269.34 L124.42,269.43 L126.56,269.52 L128.69,269.61 L130.83,269.71 L132.97,269.82 L135.11,269.92 L137.25,270.04 L139.38,270.16 L141.52,270.28 L143.66,270.41 L145.8,270.54 L147.94,270.69 L150.07,270.83 L152.21,270.98 L154.35,271.14 L156.49,271.31 L158.63,271.48 L160.76,271.65 L162.9,271.84 L165.04,272.03 L167.18,272.22 L169.32,272.43 L171.45,272.64 L173.59,272.86 L175.73,273.08 L177.87,273.31 L180.01,273.55 L182.14,273.8" fill="none" stroke="#1f4e85" stroke-width="1.1" stroke-dasharray="2.5 9"/>
<path d="M182.14,273.8 L185.9,274.25 L189.66,274.73 L193.42,275.24 L197.18,275.77 L200.94,276.32 L204.7,276.9 L208.45,277.51 L212.21,278.15 L215.97,278.82 L219.73,279.51 L223.49,280.24 L227.25,281 L231.01,281.78 L234.76,282.6 L238.52,283.45 L242.28,284.33 L246.04,285.25 L249.8,286.19 L253.56,287.18 L257.32,288.19 L261.07,289.24 L264.83,290.33 L268.59,291.45 L272.35,292.6 L276.11,293.8 L279.87,295.02 L283.63,296.29 L287.38,297.59 L291.14,298.93 L294.9,300.31 L298.66,301.73 L302.42,303.19 L306.18,304.68 L309.94,306.22 L313.69,307.79 L317.45,309.41 L321.21,311.06 L324.97,312.76 L328.73,314.49 L332.49,316.27 L336.25,318.09 L340,319.95 L343.76,321.85 L347.52,323.79 L351.28,325.78 L355.04,327.8 L358.8,329.87 L362.56,331.99 L366.31,334.14 L370.07,336.34 L373.83,338.58 L377.59,340.87 L381.35,343.2 L385.11,345.57 L388.87,347.99 L392.62,350.45 L396.38,352.95 L400.14,355.5 L403.9,358.09" fill="none" stroke="#1f4e85" stroke-width="1.6"/>
<path d="M56,313.1 L57.84,313.12 L59.67,313.13 L61.51,313.15 L63.35,313.16 L65.18,313.18 L67.02,313.19 L68.86,313.21 L70.7,313.22 L72.53,313.24 L74.37,313.26 L76.21,313.27 L78.04,313.29 L79.88,313.31 L81.72,313.33 L83.55,313.35 L85.39,313.37 L87.23,313.4 L89.06,313.42 L90.9,313.45 L92.74,313.48 L94.58,313.51 L96.41,313.54 L98.25,313.58 L100.09,313.61 L101.92,313.65 L103.76,313.69 L105.6,313.74 L107.43,313.79 L109.27,313.84 L111.11,313.89 L112.94,313.94 L114.78,314 L116.62,314.06 L118.45,314.13 L120.29,314.2 L122.13,314.27 L123.97,314.35 L125.8,314.42 L127.64,314.51 L129.48,314.59 L131.31,314.69 L133.15,314.78 L134.99,314.88 L136.82,314.98 L138.66,315.09 L140.5,315.2 L142.33,315.32 L144.17,315.44 L146.01,315.57 L147.85,315.7 L149.68,315.84 L151.52,315.98 L153.36,316.13 L155.19,316.28 L157.03,316.44 L158.87,316.6 L160.7,316.77 L162.54,316.94 L164.38,317.12" fill="none" stroke="#4a6488" stroke-width="0.9"/><path d="M56,313.1 L57.84,313.12 L59.67,313.13 L61.51,313.15 L63.35,313.16 L65.18,313.18 L67.02,313.19 L68.86,313.21 L70.7,313.22 L72.53,313.24 L74.37,313.26 L76.21,313.27 L78.04,313.29 L79.88,313.31 L81.72,313.33 L83.55,313.35 L85.39,313.37 L87.23,313.4 L89.06,313.42 L90.9,313.45 L92.74,313.48 L94.58,313.51 L96.41,313.54 L98.25,313.58 L100.09,313.61 L101.92,313.65 L103.76,313.69 L105.6,313.74 L107.43,313.79 L109.27,313.84 L111.11,313.89 L112.94,313.94 L114.78,314 L116.62,314.06 L118.45,314.13 L120.29,314.2 L122.13,314.27 L123.97,314.35 L125.8,314.42 L127.64,314.51 L129.48,314.59 L131.31,314.69 L133.15,314.78 L134.99,314.88 L136.82,314.98 L138.66,315.09 L140.5,315.2 L142.33,315.32 L144.17,315.44 L146.01,315.57 L147.85,315.7 L149.68,315.84 L151.52,315.98 L153.36,316.13 L155.19,316.28 L157.03,316.44 L158.87,316.6 L160.7,316.77 L162.54,316.94 L164.38,317.12" fill="none" stroke="#1f4e85" stroke-width="1.1" stroke-dasharray="2.5 9"/>
<path d="M164.38,317.12 L167.61,317.45 L170.84,317.8 L174.07,318.16 L177.29,318.55 L180.52,318.95 L183.75,319.38 L186.98,319.82 L190.21,320.29 L193.44,320.78 L196.67,321.29 L199.9,321.82 L203.13,322.37 L206.36,322.95 L209.59,323.55 L212.82,324.17 L216.04,324.82 L219.27,325.49 L222.5,326.19 L225.73,326.91 L228.96,327.66 L232.19,328.43 L235.42,329.23 L238.65,330.05 L241.88,330.9 L245.11,331.78 L248.34,332.68 L251.57,333.62 L254.79,334.58 L258.02,335.57 L261.25,336.58 L264.48,337.63 L267.71,338.7 L270.94,339.8 L274.17,340.93 L277.4,342.09 L280.63,343.28 L283.86,344.5 L287.09,345.75 L290.32,347.03 L293.55,348.34 L296.77,349.69 L300,351.06 L303.23,352.46 L306.46,353.9 L309.69,355.36 L312.92,356.86 L316.15,358.38 L319.38,359.94 L322.61,361.54 L325.84,363.16 L329.07,364.81 L332.3,366.5 L335.52,368.22 L338.75,369.97 L341.98,371.76 L345.21,373.57 L348.44,375.42 L351.67,377.3 L354.9,379.22" fill="none" stroke="#1f4e85" stroke-width="1.6"/>
<path d="M56,350.59 L57.54,350.62 L59.08,350.65 L60.62,350.67 L62.16,350.7 L63.69,350.73 L65.23,350.75 L66.77,350.78 L68.31,350.8 L69.85,350.83 L71.39,350.86 L72.93,350.88 L74.47,350.91 L76,350.94 L77.54,350.97 L79.08,350.99 L80.62,351.02 L82.16,351.05 L83.7,351.08 L85.24,351.12 L86.78,351.15 L88.31,351.18 L89.85,351.22 L91.39,351.25 L92.93,351.29 L94.47,351.33 L96.01,351.37 L97.55,351.41 L99.09,351.46 L100.62,351.5 L102.16,351.55 L103.7,351.6 L105.24,351.65 L106.78,351.7 L108.32,351.76 L109.86,351.82 L111.4,351.88 L112.94,351.94 L114.47,352 L116.01,352.07 L117.55,352.14 L119.09,352.21 L120.63,352.29 L122.17,352.36 L123.71,352.44 L125.25,352.53 L126.78,352.61 L128.32,352.7 L129.86,352.79 L131.4,352.89 L132.94,352.99 L134.48,353.09 L136.02,353.19 L137.56,353.3 L139.09,353.41 L140.63,353.53 L142.17,353.65 L143.71,353.77 L145.25,353.9 L146.79,354.03" fill="none" stroke="#4a6488" stroke-width="0.9"/><path d="M56,350.59 L57.54,350.62 L59.08,350.65 L60.62,350.67 L62.16,350.7 L63.69,350.73 L65.23,350.75 L66.77,350.78 L68.31,350.8 L69.85,350.83 L71.39,350.86 L72.93,350.88 L74.47,350.91 L76,350.94 L77.54,350.97 L79.08,350.99 L80.62,351.02 L82.16,351.05 L83.7,351.08 L85.24,351.12 L86.78,351.15 L88.31,351.18 L89.85,351.22 L91.39,351.25 L92.93,351.29 L94.47,351.33 L96.01,351.37 L97.55,351.41 L99.09,351.46 L100.62,351.5 L102.16,351.55 L103.7,351.6 L105.24,351.65 L106.78,351.7 L108.32,351.76 L109.86,351.82 L111.4,351.88 L112.94,351.94 L114.47,352 L116.01,352.07 L117.55,352.14 L119.09,352.21 L120.63,352.29 L122.17,352.36 L123.71,352.44 L125.25,352.53 L126.78,352.61 L128.32,352.7 L129.86,352.79 L131.4,352.89 L132.94,352.99 L134.48,353.09 L136.02,353.19 L137.56,353.3 L139.09,353.41 L140.63,353.53 L142.17,353.65 L143.71,353.77 L145.25,353.9 L146.79,354.03" fill="none" stroke="#1f4e85" stroke-width="1.1" stroke-dasharray="2.5 9"/>
<path d="M146.79,354.03 L149.49,354.26 L152.2,354.51 L154.9,354.77 L157.61,355.05 L160.31,355.34 L163.02,355.64 L165.72,355.95 L168.43,356.28 L171.13,356.63 L173.84,356.98 L176.54,357.36 L179.25,357.74 L181.95,358.15 L184.66,358.57 L187.37,359 L190.07,359.45 L192.78,359.92 L195.48,360.4 L198.19,360.9 L200.89,361.42 L203.6,361.95 L206.3,362.5 L209.01,363.07 L211.71,363.66 L214.42,364.26 L217.12,364.89 L219.83,365.53 L222.53,366.19 L225.24,366.87 L227.94,367.57 L230.65,368.29 L233.35,369.02 L236.06,369.78 L238.76,370.56 L241.47,371.35 L244.17,372.17 L246.88,373.01 L249.58,373.86 L252.29,374.74 L254.99,375.64 L257.7,376.56 L260.4,377.5 L263.11,378.46 L265.81,379.44 L268.52,380.44 L271.22,381.47 L273.93,382.51 L276.63,383.58 L279.34,384.67 L282.04,385.78 L284.75,386.91 L287.45,388.06 L290.16,389.24 L292.86,390.43 L295.57,391.65 L298.27,392.89 L300.98,394.16 L303.68,395.44 L306.39,396.75" fill="none" stroke="#1f4e85" stroke-width="1.6"/>
<path d="M56,382.47 L57.24,382.49 L58.48,382.52 L59.71,382.55 L60.95,382.57 L62.19,382.6 L63.43,382.63 L64.66,382.65 L65.9,382.68 L67.14,382.7 L68.38,382.73 L69.61,382.76 L70.85,382.78 L72.09,382.81 L73.33,382.83 L74.56,382.86 L75.8,382.89 L77.04,382.91 L78.28,382.94 L79.52,382.97 L80.75,383 L81.99,383.03 L83.23,383.06 L84.47,383.09 L85.7,383.12 L86.94,383.15 L88.18,383.18 L89.42,383.22 L90.65,383.25 L91.89,383.29 L93.13,383.32 L94.37,383.36 L95.6,383.4 L96.84,383.44 L98.08,383.48 L99.32,383.52 L100.56,383.56 L101.79,383.61 L103.03,383.66 L104.27,383.7 L105.51,383.75 L106.74,383.8 L107.98,383.86 L109.22,383.91 L110.46,383.96 L111.69,384.02 L112.93,384.08 L114.17,384.14 L115.41,384.2 L116.65,384.27 L117.88,384.33 L119.12,384.4 L120.36,384.47 L121.6,384.54 L122.83,384.62 L124.07,384.69 L125.31,384.77 L126.55,384.85 L127.78,384.94 L129.02,385.02" fill="none" stroke="#4a6488" stroke-width="0.9"/><path d="M56,382.47 L57.24,382.49 L58.48,382.52 L59.71,382.55 L60.95,382.57 L62.19,382.6 L63.43,382.63 L64.66,382.65 L65.9,382.68 L67.14,382.7 L68.38,382.73 L69.61,382.76 L70.85,382.78 L72.09,382.81 L73.33,382.83 L74.56,382.86 L75.8,382.89 L77.04,382.91 L78.28,382.94 L79.52,382.97 L80.75,383 L81.99,383.03 L83.23,383.06 L84.47,383.09 L85.7,383.12 L86.94,383.15 L88.18,383.18 L89.42,383.22 L90.65,383.25 L91.89,383.29 L93.13,383.32 L94.37,383.36 L95.6,383.4 L96.84,383.44 L98.08,383.48 L99.32,383.52 L100.56,383.56 L101.79,383.61 L103.03,383.66 L104.27,383.7 L105.51,383.75 L106.74,383.8 L107.98,383.86 L109.22,383.91 L110.46,383.96 L111.69,384.02 L112.93,384.08 L114.17,384.14 L115.41,384.2 L116.65,384.27 L117.88,384.33 L119.12,384.4 L120.36,384.47 L121.6,384.54 L122.83,384.62 L124.07,384.69 L125.31,384.77 L126.55,384.85 L127.78,384.94 L129.02,385.02" fill="none" stroke="#1f4e85" stroke-width="1.1" stroke-dasharray="2.5 9"/>
<path d="M129.02,385.02 L131.2,385.18 L133.37,385.34 L135.55,385.51 L137.72,385.69 L139.9,385.87 L142.08,386.06 L144.25,386.27 L146.43,386.48 L148.6,386.7 L150.78,386.92 L152.95,387.16 L155.13,387.4 L157.31,387.66 L159.48,387.92 L161.66,388.2 L163.83,388.48 L166.01,388.77 L168.18,389.08 L170.36,389.39 L172.54,389.72 L174.71,390.05 L176.89,390.4 L179.06,390.75 L181.24,391.12 L183.41,391.5 L185.59,391.89 L187.77,392.29 L189.94,392.7 L192.12,393.12 L194.29,393.56 L196.47,394.01 L198.65,394.47 L200.82,394.94 L203,395.42 L205.17,395.92 L207.35,396.42 L209.52,396.94 L211.7,397.48 L213.88,398.02 L216.05,398.58 L218.23,399.15 L220.4,399.73 L222.58,400.33 L224.75,400.94 L226.93,401.56 L229.11,402.19 L231.28,402.84 L233.46,403.5 L235.63,404.18 L237.81,404.86 L239.98,405.56 L242.16,406.28 L244.34,407.01 L246.51,407.75 L248.69,408.5 L250.86,409.27 L253.04,410.05 L255.21,410.85 L257.39,411.66" fill="none" stroke="#1f4e85" stroke-width="1.6"/>
<path d="M56,415.88 L56.78,415.89 L57.56,415.9 L58.34,415.91 L59.12,415.92 L59.9,415.93 L60.68,415.94 L61.46,415.95 L62.24,415.96 L63.02,415.97 L63.8,415.98 L64.58,415.99 L65.36,416 L66.14,416.01 L66.92,416.02 L67.7,416.03 L68.48,416.04 L69.26,416.06 L70.04,416.07 L70.82,416.08 L71.6,416.09 L72.38,416.1 L73.16,416.11 L73.94,416.12 L74.72,416.14 L75.5,416.15 L76.28,416.16 L77.06,416.17 L77.84,416.19 L78.62,416.2 L79.4,416.21 L80.18,416.23 L80.96,416.24 L81.74,416.26 L82.52,416.28 L83.3,416.29 L84.08,416.31 L84.86,416.33 L85.64,416.35 L86.42,416.36 L87.2,416.38 L87.98,416.4 L88.76,416.42 L89.54,416.44 L90.32,416.47 L91.1,416.49 L91.88,416.51 L92.66,416.53 L93.44,416.56 L94.22,416.58 L95,416.61 L95.78,416.64 L96.56,416.66 L97.34,416.69 L98.12,416.72 L98.9,416.75 L99.68,416.78 L100.46,416.81 L101.24,416.85 L102.02,416.88" fill="none" stroke="#4a6488" stroke-width="0.9"/><path d="M56,415.88 L56.78,415.89 L57.56,415.9 L58.34,415.91 L59.12,415.92 L59.9,415.93 L60.68,415.94 L61.46,415.95 L62.24,415.96 L63.02,415.97 L63.8,415.98 L64.58,415.99 L65.36,416 L66.14,416.01 L66.92,416.02 L67.7,416.03 L68.48,416.04 L69.26,416.06 L70.04,416.07 L70.82,416.08 L71.6,416.09 L72.38,416.1 L73.16,416.11 L73.94,416.12 L74.72,416.14 L75.5,416.15 L76.28,416.16 L77.06,416.17 L77.84,416.19 L78.62,416.2 L79.4,416.21 L80.18,416.23 L80.96,416.24 L81.74,416.26 L82.52,416.28 L83.3,416.29 L84.08,416.31 L84.86,416.33 L85.64,416.35 L86.42,416.36 L87.2,416.38 L87.98,416.4 L88.76,416.42 L89.54,416.44 L90.32,416.47 L91.1,416.49 L91.88,416.51 L92.66,416.53 L93.44,416.56 L94.22,416.58 L95,416.61 L95.78,416.64 L96.56,416.66 L97.34,416.69 L98.12,416.72 L98.9,416.75 L99.68,416.78 L100.46,416.81 L101.24,416.85 L102.02,416.88" fill="none" stroke="#1f4e85" stroke-width="1.1" stroke-dasharray="2.5 9"/>
<path d="M102.02,416.88 L103.39,416.94 L104.76,417 L106.13,417.07 L107.5,417.14 L108.87,417.21 L110.24,417.29 L111.61,417.36 L112.98,417.45 L114.36,417.53 L115.73,417.62 L117.1,417.71 L118.47,417.81 L119.84,417.91 L121.21,418.01 L122.58,418.12 L123.95,418.23 L125.32,418.34 L126.7,418.46 L128.07,418.59 L129.44,418.71 L130.81,418.84 L132.18,418.98 L133.55,419.12 L134.92,419.26 L136.29,419.41 L137.66,419.56 L139.04,419.72 L140.41,419.88 L141.78,420.04 L143.15,420.21 L144.52,420.39 L145.89,420.57 L147.26,420.75 L148.63,420.94 L150,421.13 L151.38,421.33 L152.75,421.54 L154.12,421.74 L155.49,421.96 L156.86,422.17 L158.23,422.4 L159.6,422.62 L160.97,422.86 L162.34,423.1 L163.71,423.34 L165.09,423.59 L166.46,423.84 L167.83,424.1 L169.2,424.36 L170.57,424.63 L171.94,424.9 L173.31,425.18 L174.68,425.47 L176.05,425.76 L177.43,426.05 L178.8,426.35 L180.17,426.66 L181.54,426.97 L182.91,427.28" fill="none" stroke="#1f4e85" stroke-width="1.6"/>
<path d="M56,427.97 L56.52,427.97 L57.04,427.98 L57.55,427.98 L58.07,427.99 L58.59,427.99 L59.11,428 L59.63,428 L60.14,428.01 L60.66,428.01 L61.18,428.01 L61.7,428.02 L62.22,428.02 L62.73,428.03 L63.25,428.03 L63.77,428.04 L64.29,428.04 L64.81,428.05 L65.32,428.05 L65.84,428.06 L66.36,428.06 L66.88,428.07 L67.39,428.07 L67.91,428.08 L68.43,428.08 L68.95,428.09 L69.47,428.09 L69.98,428.1 L70.5,428.1 L71.02,428.11 L71.54,428.12 L72.06,428.12 L72.57,428.13 L73.09,428.14 L73.61,428.14 L74.13,428.15 L74.65,428.16 L75.16,428.16 L75.68,428.17 L76.2,428.18 L76.72,428.19 L77.24,428.2 L77.75,428.21 L78.27,428.22 L78.79,428.22 L79.31,428.23 L79.83,428.24 L80.34,428.25 L80.86,428.27 L81.38,428.28 L81.9,428.29 L82.42,428.3 L82.93,428.31 L83.45,428.32 L83.97,428.34 L84.49,428.35 L85.01,428.36 L85.52,428.38 L86.04,428.39 L86.56,428.4" fill="none" stroke="#4a6488" stroke-width="0.9"/><path d="M56,427.97 L56.52,427.97 L57.04,427.98 L57.55,427.98 L58.07,427.99 L58.59,427.99 L59.11,428 L59.63,428 L60.14,428.01 L60.66,428.01 L61.18,428.01 L61.7,428.02 L62.22,428.02 L62.73,428.03 L63.25,428.03 L63.77,428.04 L64.29,428.04 L64.81,428.05 L65.32,428.05 L65.84,428.06 L66.36,428.06 L66.88,428.07 L67.39,428.07 L67.91,428.08 L68.43,428.08 L68.95,428.09 L69.47,428.09 L69.98,428.1 L70.5,428.1 L71.02,428.11 L71.54,428.12 L72.06,428.12 L72.57,428.13 L73.09,428.14 L73.61,428.14 L74.13,428.15 L74.65,428.16 L75.16,428.16 L75.68,428.17 L76.2,428.18 L76.72,428.19 L77.24,428.2 L77.75,428.21 L78.27,428.22 L78.79,428.22 L79.31,428.23 L79.83,428.24 L80.34,428.25 L80.86,428.27 L81.38,428.28 L81.9,428.29 L82.42,428.3 L82.93,428.31 L83.45,428.32 L83.97,428.34 L84.49,428.35 L85.01,428.36 L85.52,428.38 L86.04,428.39 L86.56,428.4" fill="none" stroke="#1f4e85" stroke-width="1.1" stroke-dasharray="2.5 9"/>
<path d="M86.56,428.4 L87.47,428.43 L88.38,428.46 L89.29,428.49 L90.2,428.52 L91.11,428.55 L92.02,428.58 L92.93,428.62 L93.84,428.65 L94.75,428.69 L95.66,428.73 L96.57,428.77 L97.49,428.81 L98.4,428.85 L99.31,428.9 L100.22,428.94 L101.13,428.99 L102.04,429.04 L102.95,429.09 L103.86,429.15 L104.77,429.2 L105.68,429.26 L106.59,429.32 L107.5,429.38 L108.41,429.44 L109.32,429.51 L110.23,429.57 L111.14,429.64 L112.05,429.71 L112.96,429.78 L113.87,429.86 L114.79,429.93 L115.7,430.01 L116.61,430.09 L117.52,430.17 L118.43,430.26 L119.34,430.34 L120.25,430.43 L121.16,430.52 L122.07,430.62 L122.98,430.71 L123.89,430.81 L124.8,430.91 L125.71,431.01 L126.62,431.11 L127.53,431.22 L128.44,431.33 L129.35,431.44 L130.26,431.55 L131.17,431.66 L132.09,431.78 L133,431.9 L133.91,432.02 L134.82,432.15 L135.73,432.27 L136.64,432.4 L137.55,432.53 L138.46,432.66 L139.37,432.8 L140.28,432.94" fill="none" stroke="#1f4e85" stroke-width="1.6"/>
<path d="M56,437.3 L64.31,422.82 L72.61,409 L80.92,395.88 L89.22,383.45 L97.53,371.72 L105.83,360.68 L114.14,350.33 L122.44,340.64 L130.75,331.61 L139.05,323.2 L147.36,315.4 L155.66,308.17 L163.97,301.5 L172.27,295.33 L180.58,289.66 L188.88,284.44 L197.19,279.64 L205.49,275.24 L213.8,271.19 L222.1,267.49 L230.41,264.09 L238.71,260.96 L247.02,258.1 L255.32,255.47 L263.63,253.05 L271.93,250.83 L280.24,248.79 L288.54,246.92 L296.85,245.21 L305.15,243.65 L313.46,242.24 L321.76,240.97 L330.07,239.85 L338.37,238.87 L346.68,238.05 L354.98,237.38 L363.29,236.89 L371.59,236.56 L379.9,236.43 L388.2,236.5 L396.51,236.78 L404.81,237.29 L413.12,238.03 L421.42,239.03 L429.73,240.3 L438.03,241.84 L446.34,243.67 L454.64,245.78 L462.95,248.19 L471.25,250.9 L479.56,253.89 L487.86,257.17 L496.17,260.71 L504.47,264.49 L512.78,268.49 L521.08,272.67 L529.39,276.99 L537.69,281.38 L546,285.8" fill="none" stroke="#2e2e2e" stroke-width="0.85"/>
<path d="M56,437.3 L63.49,422.82 L70.98,409 L78.47,395.88 L85.96,383.45 L93.46,371.72 L100.95,360.68 L108.44,350.33 L115.93,340.64 L123.42,331.61 L130.91,323.2 L138.4,315.4 L145.89,308.17 L153.39,301.5 L160.88,295.33 L168.37,289.66 L175.86,284.44 L183.35,279.64 L190.84,275.24 L198.33,271.19 L205.82,267.49 L213.31,264.09 L220.81,260.96 L228.3,258.1 L235.79,255.47 L243.28,253.05 L250.77,250.83 L258.26,248.79 L265.75,246.92 L273.24,245.21 L280.74,243.65 L288.23,242.24 L295.72,240.97 L303.21,239.85 L310.7,238.87 L318.19,238.05 L325.68,237.38 L333.17,236.89 L340.67,236.56 L348.16,236.43 L355.65,236.5 L363.14,236.78 L370.63,237.29 L378.12,238.03 L385.61,239.03 L393.1,240.3 L400.59,241.84 L408.09,243.67 L415.58,245.78 L423.07,248.19 L430.56,250.9 L438.05,253.89 L445.54,257.17 L453.03,260.71 L460.52,264.49 L468.02,268.49 L475.51,272.67 L483,276.99 L490.49,281.38 L497.98,285.8" fill="none" stroke="#2e2e2e" stroke-width="0.85"/>
<path d="M56,437.3 L62.7,422.82 L69.4,409 L76.11,395.88 L82.81,383.45 L89.51,371.72 L96.21,360.68 L102.92,350.33 L109.62,340.64 L116.32,331.61 L123.02,323.2 L129.72,315.4 L136.43,308.17 L143.13,301.5 L149.83,295.33 L156.53,289.66 L163.24,284.44 L169.94,279.64 L176.64,275.24 L183.34,271.19 L190.04,267.49 L196.75,264.09 L203.45,260.96 L210.15,258.1 L216.85,255.47 L223.56,253.05 L230.26,250.83 L236.96,248.79 L243.66,246.92 L250.36,245.21 L257.07,243.65 L263.77,242.24 L270.47,240.97 L277.17,239.85 L283.87,238.87 L290.58,238.05 L297.28,237.38 L303.98,236.89 L310.68,236.56 L317.39,236.43 L324.09,236.5 L330.79,236.78 L337.49,237.29 L344.19,238.03 L350.9,239.03 L357.6,240.3 L364.3,241.84 L371,243.67 L377.71,245.78 L384.41,248.19 L391.11,250.9 L397.81,253.89 L404.51,257.17 L411.22,260.71 L417.92,264.49 L424.62,268.49 L431.32,272.67 L438.03,276.99 L444.73,281.38 L451.43,285.8" fill="none" stroke="#2e2e2e" stroke-width="0.85"/>
<path d="M56,437.3 L61.9,422.82 L67.79,409 L73.69,395.88 L79.59,383.45 L85.48,371.72 L91.38,360.68 L97.28,350.33 L103.17,340.64 L109.07,331.61 L114.97,323.2 L120.86,315.4 L126.76,308.17 L132.66,301.5 L138.55,295.33 L144.45,289.66 L150.35,284.44 L156.24,279.64 L162.14,275.24 L168.04,271.19 L173.93,267.49 L179.83,264.09 L185.73,260.96 L191.62,258.1 L197.52,255.47 L203.42,253.05 L209.31,250.83 L215.21,248.79 L221.11,246.92 L227,245.21 L232.9,243.65 L238.79,242.24 L244.69,240.97 L250.59,239.85 L256.48,238.87 L262.38,238.05 L268.28,237.38 L274.17,236.89 L280.07,236.56 L285.97,236.43 L291.86,236.5 L297.76,236.78 L303.66,237.29 L309.55,238.03 L315.45,239.03 L321.35,240.3 L327.24,241.84 L333.14,243.67 L339.04,245.78 L344.93,248.19 L350.83,250.9 L356.73,253.89 L362.62,257.17 L368.52,260.71 L374.42,264.49 L380.31,268.49 L386.21,272.67 L392.11,276.99 L398,281.38 L403.9,285.8" fill="none" stroke="#2e2e2e" stroke-width="0.85"/>
<path d="M56,437.3 L61.07,422.82 L66.13,409 L71.2,395.88 L76.26,383.45 L81.33,371.72 L86.4,360.68 L91.46,350.33 L96.53,340.64 L101.59,331.61 L106.66,323.2 L111.73,315.4 L116.79,308.17 L121.86,301.5 L126.93,295.33 L131.99,289.66 L137.06,284.44 L142.12,279.64 L147.19,275.24 L152.26,271.19 L157.32,267.49 L162.39,264.09 L167.45,260.96 L172.52,258.1 L177.59,255.47 L182.65,253.05 L187.72,250.83 L192.78,248.79 L197.85,246.92 L202.92,245.21 L207.98,243.65 L213.05,242.24 L218.12,240.97 L223.18,239.85 L228.25,238.87 L233.31,238.05 L238.38,237.38 L243.45,236.89 L248.51,236.56 L253.58,236.43 L258.64,236.5 L263.71,236.78 L268.78,237.29 L273.84,238.03 L278.91,239.03 L283.97,240.3 L289.04,241.84 L294.11,243.67 L299.17,245.78 L304.24,248.19 L309.31,250.9 L314.37,253.89 L319.44,257.17 L324.5,260.71 L329.57,264.49 L334.64,268.49 L339.7,272.67 L344.77,276.99 L349.83,281.38 L354.9,285.8" fill="none" stroke="#2e2e2e" stroke-width="0.85"/>
<path d="M56,437.3 L60.24,422.82 L64.49,409 L68.73,395.88 L72.98,383.45 L77.22,371.72 L81.46,360.68 L85.71,350.33 L89.95,340.64 L94.2,331.61 L98.44,323.2 L102.68,315.4 L106.93,308.17 L111.17,301.5 L115.41,295.33 L119.66,289.66 L123.9,284.44 L128.15,279.64 L132.39,275.24 L136.63,271.19 L140.88,267.49 L145.12,264.09 L149.37,260.96 L153.61,258.1 L157.85,255.47 L162.1,253.05 L166.34,250.83 L170.59,248.79 L174.83,246.92 L179.07,245.21 L183.32,243.65 L187.56,242.24 L191.8,240.97 L196.05,239.85 L200.29,238.87 L204.54,238.05 L208.78,237.38 L213.02,236.89 L217.27,236.56 L221.51,236.43 L225.76,236.5 L230,236.78 L234.24,237.29 L238.49,238.03 L242.73,239.03 L246.98,240.3 L251.22,241.84 L255.46,243.67 L259.71,245.78 L263.95,248.19 L268.19,250.9 L272.44,253.89 L276.68,257.17 L280.93,260.71 L285.17,264.49 L289.41,268.49 L293.66,272.67 L297.9,276.99 L302.15,281.38 L306.39,285.8" fill="none" stroke="#2e2e2e" stroke-width="0.85"/>
<path d="M56,437.3 L59.41,422.82 L62.83,409 L66.24,395.88 L69.65,383.45 L73.07,371.72 L76.48,360.68 L79.89,350.33 L83.31,340.64 L86.72,331.61 L90.13,323.2 L93.55,315.4 L96.96,308.17 L100.37,301.5 L103.79,295.33 L107.2,289.66 L110.61,284.44 L114.03,279.64 L117.44,275.24 L120.85,271.19 L124.27,267.49 L127.68,264.09 L131.09,260.96 L134.51,258.1 L137.92,255.47 L141.33,253.05 L144.75,250.83 L148.16,248.79 L151.57,246.92 L154.99,245.21 L158.4,243.65 L161.82,242.24 L165.23,240.97 L168.64,239.85 L172.06,238.87 L175.47,238.05 L178.88,237.38 L182.3,236.89 L185.71,236.56 L189.12,236.43 L192.54,236.5 L195.95,236.78 L199.36,237.29 L202.78,238.03 L206.19,239.03 L209.6,240.3 L213.02,241.84 L216.43,243.67 L219.84,245.78 L223.26,248.19 L226.67,250.9 L230.08,253.89 L233.5,257.17 L236.91,260.71 L240.32,264.49 L243.74,268.49 L247.15,272.67 L250.56,276.99 L253.98,281.38 L257.39,285.8" fill="none" stroke="#2e2e2e" stroke-width="0.85"/>
<path d="M56,437.3 L58.15,422.82 L60.3,409 L62.45,395.88 L64.6,383.45 L66.76,371.72 L68.91,360.68 L71.06,350.33 L73.21,340.64 L75.36,331.61 L77.51,323.2 L79.66,315.4 L81.81,308.17 L83.96,301.5 L86.11,295.33 L88.27,289.66 L90.42,284.44 L92.57,279.64 L94.72,275.24 L96.87,271.19 L99.02,267.49 L101.17,264.09 L103.32,260.96 L105.47,258.1 L107.62,255.47 L109.78,253.05 L111.93,250.83 L114.08,248.79 L116.23,246.92 L118.38,245.21 L120.53,243.65 L122.68,242.24 L124.83,240.97 L126.98,239.85 L129.13,238.87 L131.29,238.05 L133.44,237.38 L135.59,236.89 L137.74,236.56 L139.89,236.43 L142.04,236.5 L144.19,236.78 L146.34,237.29 L148.49,238.03 L150.64,239.03 L152.8,240.3 L154.95,241.84 L157.1,243.67 L159.25,245.78 L161.4,248.19 L163.55,250.9 L165.7,253.89 L167.85,257.17 L170,260.71 L172.15,264.49 L174.31,268.49 L176.46,272.67 L178.61,276.99 L180.76,281.38 L182.91,285.8" fill="none" stroke="#2e2e2e" stroke-width="0.85"/>
<path d="M56,437.3 L57.43,422.82 L58.86,409 L60.29,395.88 L61.71,383.45 L63.14,371.72 L64.57,360.68 L66,350.33 L67.43,340.64 L68.86,331.61 L70.28,323.2 L71.71,315.4 L73.14,308.17 L74.57,301.5 L76,295.33 L77.43,289.66 L78.86,284.44 L80.28,279.64 L81.71,275.24 L83.14,271.19 L84.57,267.49 L86,264.09 L87.43,260.96 L88.85,258.1 L90.28,255.47 L91.71,253.05 L93.14,250.83 L94.57,248.79 L96,246.92 L97.43,245.21 L98.85,243.65 L100.28,242.24 L101.71,240.97 L103.14,239.85 L104.57,238.87 L106,238.05 L107.43,237.38 L108.85,236.89 L110.28,236.56 L111.71,236.43 L113.14,236.5 L114.57,236.78 L116,237.29 L117.42,238.03 L118.85,239.03 L120.28,240.3 L121.71,241.84 L123.14,243.67 L124.57,245.78 L126,248.19 L127.42,250.9 L128.85,253.89 L130.28,257.17 L131.71,260.71 L133.14,264.49 L134.57,268.49 L135.99,272.67 L137.42,276.99 L138.85,281.38 L140.28,285.8" fill="none" stroke="#2e2e2e" stroke-width="0.85"/>
<path d="M56,437.3 L58.08,422.82 L60.15,409 L62.23,395.88 L64.31,383.45 L66.38,371.72 L68.46,360.68 L70.53,350.33 L72.61,340.64 L74.69,331.61 L76.76,323.2 L78.84,315.4 L80.92,308.17 L82.99,301.5 L85.07,295.33 L87.14,289.66 L89.22,284.44 L91.3,279.64 L93.37,275.24 L95.45,271.19 L97.53,267.49 L99.6,264.09 L101.68,260.96 L103.75,258.1 L105.83,255.47 L107.91,253.05 L109.98,250.83 L112.06,248.79 L114.14,246.92 L116.21,245.21 L118.29,243.65 L120.36,242.24 L122.44,240.97 L124.52,239.85 L126.59,238.87 L128.67,238.05 L130.75,237.38 L132.82,236.89 L134.9,236.56 L136.97,236.43 L139.05,236.5 L141.13,236.78 L143.2,237.29 L145.28,238.03 L147.36,239.03 L149.43,240.3 L151.51,241.84 L153.58,243.67 L155.66,245.78 L157.74,248.19 L159.81,250.9 L161.89,253.89 L163.97,257.17 L166.04,260.71 L168.12,264.49 L170.19,268.49 L172.27,272.67 L174.35,276.99 L176.42,281.38 L178.5,285.8" fill="none" stroke="#2e2e2e" stroke-width="0.85"/>
<path d="M56,437.3 L60.15,422.82 L64.31,409 L68.46,395.88 L72.61,383.45 L76.76,371.72 L80.92,360.68 L85.07,350.33 L89.22,340.64 L93.37,331.61 L97.53,323.2 L101.68,315.4 L105.83,308.17 L109.98,301.5 L114.14,295.33 L118.29,289.66 L122.44,284.44 L126.59,279.64 L130.75,275.24 L134.9,271.19 L139.05,267.49 L143.2,264.09 L147.36,260.96 L151.51,258.1 L155.66,255.47 L159.81,253.05 L163.97,250.83 L168.12,248.79 L172.27,246.92 L176.42,245.21 L180.58,243.65 L184.73,242.24 L188.88,240.97 L193.03,239.85 L197.19,238.87 L201.34,238.05 L205.49,237.38 L209.64,236.89 L213.8,236.56 L217.95,236.43 L222.1,236.5 L226.25,236.78 L230.41,237.29 L234.56,238.03 L238.71,239.03 L242.86,240.3 L247.02,241.84 L251.17,243.67 L255.32,245.78 L259.47,248.19 L263.63,250.9 L267.78,253.89 L271.93,257.17 L276.08,260.71 L280.24,264.49 L284.39,268.49 L288.54,272.67 L292.69,276.99 L296.85,281.38 L301,285.8" fill="none" stroke="#2e2e2e" stroke-width="0.85"/>
<path d="M56,437.3 L62.23,422.82 L68.46,409 L74.69,395.88 L80.92,383.45 L87.14,371.72 L93.37,360.68 L99.6,350.33 L105.83,340.64 L112.06,331.61 L118.29,323.2 L124.52,315.4 L130.75,308.17 L136.97,301.5 L143.2,295.33 L149.43,289.66 L155.66,284.44 L161.89,279.64 L168.12,275.24 L174.35,271.19 L180.58,267.49 L186.81,264.09 L193.03,260.96 L199.26,258.1 L205.49,255.47 L211.72,253.05 L217.95,250.83 L224.18,248.79 L230.41,246.92 L236.64,245.21 L242.86,243.65 L249.09,242.24 L255.32,240.97 L261.55,239.85 L267.78,238.87 L274.01,238.05 L280.24,237.38 L286.47,236.89 L292.69,236.56 L298.92,236.43 L305.15,236.5 L311.38,236.78 L317.61,237.29 L323.84,238.03 L330.07,239.03 L336.3,240.3 L342.53,241.84 L348.75,243.67 L354.98,245.78 L361.21,248.19 L367.44,250.9 L373.67,253.89 L379.9,257.17 L386.13,260.71 L392.36,264.49 L398.58,268.49 L404.81,272.67 L411.04,276.99 L417.27,281.38 L423.5,285.8" fill="none" stroke="#2e2e2e" stroke-width="0.85"/>
<path d="M56,437.3 L59.01,433.65 L62.02,429.74 L65.03,425.76 L68.05,421.75 L71.06,417.74 L74.07,413.75 L77.08,409.78 L80.09,405.83 L83.1,401.93 L86.11,398.07 L89.12,394.25 L92.14,390.48 L95.15,386.76 L98.16,383.1 L101.17,379.49 L104.18,375.94 L107.19,372.45 L110.2,369.01 L113.22,365.64 L116.23,362.33 L119.24,359.08 L122.25,355.9 L125.26,352.78 L128.27,349.72 L131.28,346.73 L134.29,343.8 L137.31,340.93 L140.32,338.13 L143.33,335.39 L146.34,332.72 L149.35,330.11 L152.36,327.55 L155.37,325.07 L158.39,322.64 L161.4,320.27 L164.41,317.97 L167.42,315.72 L170.43,313.53 L173.44,311.4 L176.45,309.32 L179.46,307.3 L182.48,305.34 L185.49,303.42 L188.5,301.57 L191.51,299.76 L194.52,298 L197.53,296.3 L200.54,294.64 L203.55,293.03 L206.57,291.46 L209.58,289.94 L212.59,288.47 L215.6,287.04 L218.61,285.65 L221.62,284.3 L224.63,282.99 L227.65,281.72 L230.66,280.49 L233.67,279.29" fill="none" stroke="#111" stroke-width="0.7"/>
<path d="M233.67,279.29 L238.96,277.27 L244.26,275.36 L249.55,273.54 L254.84,271.82 L260.14,270.19 L265.43,268.65 L270.72,267.18 L276.02,265.79 L281.31,264.47 L286.61,263.21 L291.9,262.03 L297.19,260.91 L302.49,259.85 L307.78,258.85 L313.07,257.9 L318.37,257.01 L323.66,256.18 L328.96,255.41 L334.25,254.69 L339.54,254.03 L344.84,253.42 L350.13,252.88 L355.42,252.39 L360.72,251.97 L366.01,251.61 L371.31,251.33 L376.6,251.11 L381.89,250.96 L387.19,250.9 L392.48,250.91 L397.77,251.01 L403.07,251.19 L408.36,251.47 L413.66,251.84 L418.95,252.32 L424.24,252.89 L429.54,253.58 L434.83,254.37 L440.12,255.28 L445.42,256.31 L450.71,257.45 L456.01,258.72 L461.3,260.1 L466.59,261.61 L471.89,263.25 L477.18,265 L482.47,266.88 L487.77,268.88 L493.06,270.99 L498.36,273.21 L503.65,275.53 L508.94,277.96 L514.24,280.47 L519.53,283.06 L524.82,285.72 L530.12,288.43 L535.41,291.17 L540.71,293.94 L546,296.71" fill="none" stroke="#111" stroke-width="1.5"/>
<path d="M56,437.3 L58.72,433.67 L61.43,429.79 L64.15,425.83 L66.86,421.85 L69.58,417.87 L72.3,413.9 L75.01,409.95 L77.73,406.04 L80.45,402.16 L83.16,398.32 L85.88,394.53 L88.59,390.78 L91.31,387.09 L94.03,383.45 L96.74,379.86 L99.46,376.33 L102.18,372.86 L104.89,369.45 L107.61,366.1 L110.32,362.82 L113.04,359.59 L115.76,356.43 L118.47,353.33 L121.19,350.29 L123.91,347.31 L126.62,344.4 L129.34,341.56 L132.05,338.77 L134.77,336.05 L137.49,333.39 L140.2,330.8 L142.92,328.26 L145.64,325.79 L148.35,323.38 L151.07,321.03 L153.78,318.74 L156.5,316.5 L159.22,314.33 L161.93,312.21 L164.65,310.15 L167.36,308.14 L170.08,306.19 L172.8,304.29 L175.51,302.44 L178.23,300.65 L180.95,298.9 L183.66,297.21 L186.38,295.56 L189.09,293.96 L191.81,292.41 L194.53,290.9 L197.24,289.43 L199.96,288.01 L202.68,286.63 L205.39,285.29 L208.11,283.99 L210.82,282.72 L213.54,281.5 L216.26,280.31" fill="none" stroke="#111" stroke-width="0.7"/>
<path d="M216.26,280.31 L221.03,278.31 L225.81,276.41 L230.58,274.6 L235.36,272.89 L240.13,271.27 L244.91,269.74 L249.68,268.28 L254.46,266.89 L259.23,265.58 L264.01,264.34 L268.78,263.16 L273.56,262.05 L278.33,260.99 L283.11,260 L287.88,259.06 L292.66,258.18 L297.43,257.35 L302.21,256.58 L306.98,255.87 L311.76,255.21 L316.53,254.61 L321.31,254.07 L326.08,253.59 L330.86,253.17 L335.63,252.82 L340.41,252.53 L345.18,252.31 L349.96,252.17 L354.73,252.1 L359.51,252.11 L364.28,252.21 L369.06,252.4 L373.83,252.67 L378.61,253.04 L383.38,253.51 L388.16,254.09 L392.93,254.77 L397.71,255.56 L402.48,256.46 L407.26,257.48 L412.03,258.61 L416.81,259.87 L421.58,261.25 L426.36,262.75 L431.13,264.37 L435.91,266.12 L440.68,267.98 L445.46,269.96 L450.23,272.06 L455.01,274.27 L459.78,276.58 L464.56,278.99 L469.33,281.48 L474.11,284.06 L478.88,286.7 L483.66,289.39 L488.43,292.12 L493.21,294.87 L497.98,297.62" fill="none" stroke="#111" stroke-width="1.5"/>
<path d="M56,437.3 L58.43,433.69 L60.86,429.83 L63.29,425.89 L65.72,421.93 L68.15,417.97 L70.58,414.03 L73.01,410.1 L75.44,406.21 L77.87,402.35 L80.3,398.53 L82.73,394.76 L85.16,391.04 L87.59,387.36 L90.02,383.74 L92.45,380.17 L94.88,376.67 L97.31,373.21 L99.74,369.82 L102.17,366.49 L104.6,363.22 L107.03,360.01 L109.46,356.86 L111.89,353.78 L114.32,350.76 L116.75,347.8 L119.18,344.91 L121.61,342.08 L124.04,339.31 L126.47,336.6 L128.9,333.96 L131.33,331.38 L133.76,328.86 L136.19,326.4 L138.62,324 L141.05,321.66 L143.48,319.38 L145.92,317.16 L148.35,315 L150.78,312.89 L153.21,310.84 L155.64,308.84 L158.07,306.9 L160.5,305.01 L162.93,303.17 L165.36,301.39 L167.79,299.65 L170.22,297.97 L172.65,296.33 L175.08,294.74 L177.51,293.19 L179.94,291.69 L182.37,290.23 L184.8,288.82 L187.23,287.44 L189.66,286.11 L192.09,284.82 L194.52,283.56 L196.95,282.34 L199.38,281.16" fill="none" stroke="#111" stroke-width="0.7"/>
<path d="M199.38,281.16 L203.65,279.17 L207.92,277.28 L212.19,275.49 L216.47,273.79 L220.74,272.17 L225.01,270.64 L229.28,269.19 L233.55,267.82 L237.83,266.51 L242.1,265.28 L246.37,264.11 L250.64,263 L254.92,261.95 L259.19,260.96 L263.46,260.03 L267.73,259.15 L272,258.33 L276.28,257.56 L280.55,256.85 L284.82,256.2 L289.09,255.6 L293.36,255.06 L297.64,254.59 L301.91,254.17 L306.18,253.82 L310.45,253.53 L314.72,253.31 L319,253.17 L323.27,253.1 L327.54,253.12 L331.81,253.21 L336.08,253.4 L340.36,253.67 L344.63,254.04 L348.9,254.51 L353.17,255.08 L357.44,255.76 L361.72,256.54 L365.99,257.44 L370.26,258.45 L374.53,259.58 L378.8,260.83 L383.08,262.2 L387.35,263.7 L391.62,265.31 L395.89,267.04 L400.17,268.9 L404.44,270.87 L408.71,272.96 L412.98,275.15 L417.25,277.45 L421.53,279.85 L425.8,282.33 L430.07,284.89 L434.34,287.51 L438.61,290.19 L442.89,292.91 L447.16,295.64 L451.43,298.37" fill="none" stroke="#111" stroke-width="1.5"/>
<path d="M56,437.3 L58.14,433.72 L60.28,429.88 L62.41,425.98 L64.55,422.05 L66.69,418.12 L68.83,414.2 L70.97,410.31 L73.1,406.44 L75.24,402.62 L77.38,398.83 L79.52,395.08 L81.66,391.39 L83.79,387.74 L85.93,384.15 L88.07,380.61 L90.21,377.13 L92.35,373.7 L94.48,370.34 L96.62,367.03 L98.76,363.79 L100.9,360.6 L103.04,357.48 L105.17,354.42 L107.31,351.42 L109.45,348.49 L111.59,345.61 L113.73,342.8 L115.87,340.06 L118,337.37 L120.14,334.75 L122.28,332.18 L124.42,329.68 L126.56,327.24 L128.69,324.86 L130.83,322.54 L132.97,320.28 L135.11,318.08 L137.25,315.93 L139.38,313.84 L141.52,311.8 L143.66,309.82 L145.8,307.9 L147.94,306.02 L150.07,304.2 L152.21,302.43 L154.35,300.7 L156.49,299.03 L158.63,297.4 L160.76,295.83 L162.9,294.29 L165.04,292.8 L167.18,291.36 L169.32,289.95 L171.45,288.59 L173.59,287.27 L175.73,285.98 L177.87,284.74 L180.01,283.53 L182.14,282.35" fill="none" stroke="#111" stroke-width="0.7"/>
<path d="M182.14,282.35 L185.9,280.38 L189.66,278.5 L193.42,276.72 L197.18,275.03 L200.94,273.43 L204.7,271.92 L208.45,270.48 L212.21,269.11 L215.97,267.82 L219.73,266.59 L223.49,265.43 L227.25,264.33 L231.01,263.29 L234.76,262.31 L238.52,261.38 L242.28,260.51 L246.04,259.7 L249.8,258.94 L253.56,258.23 L257.32,257.58 L261.07,256.99 L264.83,256.46 L268.59,255.98 L272.35,255.57 L276.11,255.22 L279.87,254.93 L283.63,254.72 L287.38,254.58 L291.14,254.51 L294.9,254.52 L298.66,254.62 L302.42,254.8 L306.18,255.07 L309.94,255.44 L313.69,255.91 L317.45,256.47 L321.21,257.14 L324.97,257.92 L328.73,258.81 L332.49,259.82 L336.25,260.94 L340,262.18 L343.76,263.54 L347.52,265.02 L351.28,266.62 L355.04,268.34 L358.8,270.19 L362.56,272.14 L366.31,274.21 L370.07,276.39 L373.83,278.67 L377.59,281.05 L381.35,283.51 L385.11,286.05 L388.87,288.66 L392.62,291.32 L396.38,294.01 L400.14,296.72 L403.9,299.43" fill="none" stroke="#111" stroke-width="1.5"/>
<path d="M56,437.3 L57.84,433.85 L59.67,430.15 L61.51,426.39 L63.35,422.6 L65.18,418.82 L67.02,415.04 L68.86,411.29 L70.7,407.56 L72.53,403.87 L74.37,400.22 L76.21,396.62 L78.04,393.05 L79.88,389.54 L81.72,386.08 L83.55,382.67 L85.39,379.31 L87.23,376.01 L89.06,372.77 L90.9,369.58 L92.74,366.45 L94.58,363.38 L96.41,360.37 L98.25,357.42 L100.09,354.53 L101.92,351.71 L103.76,348.94 L105.6,346.23 L107.43,343.58 L109.27,340.99 L111.11,338.47 L112.94,336 L114.78,333.59 L116.62,331.23 L118.45,328.94 L120.29,326.7 L122.13,324.52 L123.97,322.4 L125.8,320.33 L127.64,318.32 L129.48,316.35 L131.31,314.45 L133.15,312.59 L134.99,310.78 L136.82,309.02 L138.66,307.32 L140.5,305.66 L142.33,304.04 L144.17,302.48 L146.01,300.96 L147.85,299.48 L149.68,298.04 L151.52,296.65 L153.36,295.29 L155.19,293.98 L157.03,292.71 L158.87,291.47 L160.7,290.27 L162.54,289.1 L164.38,287.97" fill="none" stroke="#111" stroke-width="0.7"/>
<path d="M164.38,287.97 L167.61,286.07 L170.84,284.26 L174.07,282.54 L177.29,280.92 L180.52,279.38 L183.75,277.91 L186.98,276.53 L190.21,275.21 L193.44,273.96 L196.67,272.78 L199.9,271.66 L203.13,270.6 L206.36,269.6 L209.59,268.65 L212.82,267.76 L216.04,266.92 L219.27,266.14 L222.5,265.41 L225.73,264.73 L228.96,264.1 L232.19,263.53 L235.42,263.01 L238.65,262.56 L241.88,262.16 L245.11,261.82 L248.34,261.55 L251.57,261.34 L254.79,261.2 L258.02,261.14 L261.25,261.15 L264.48,261.24 L267.71,261.42 L270.94,261.68 L274.17,262.04 L277.4,262.48 L280.63,263.03 L283.86,263.68 L287.09,264.43 L290.32,265.29 L293.55,266.25 L296.77,267.34 L300,268.53 L303.23,269.84 L306.46,271.27 L309.69,272.81 L312.92,274.47 L316.15,276.25 L319.38,278.13 L322.61,280.13 L325.84,282.23 L329.07,284.42 L332.3,286.71 L335.52,289.09 L338.75,291.54 L341.98,294.05 L345.21,296.61 L348.44,299.21 L351.67,301.82 L354.9,304.43" fill="none" stroke="#111" stroke-width="1.5"/>
<path d="M56,437.3 L57.54,434.01 L59.08,430.49 L60.62,426.9 L62.16,423.29 L63.69,419.68 L65.23,416.08 L66.77,412.5 L68.31,408.95 L69.85,405.44 L71.39,401.96 L72.93,398.52 L74.47,395.12 L76,391.77 L77.54,388.47 L79.08,385.22 L80.62,382.02 L82.16,378.88 L83.7,375.78 L85.24,372.75 L86.78,369.76 L88.31,366.84 L89.85,363.97 L91.39,361.16 L92.93,358.4 L94.47,355.71 L96.01,353.07 L97.55,350.49 L99.09,347.96 L100.62,345.5 L102.16,343.09 L103.7,340.73 L105.24,338.43 L106.78,336.19 L108.32,334.01 L109.86,331.87 L111.4,329.8 L112.94,327.77 L114.47,325.8 L116.01,323.88 L117.55,322.01 L119.09,320.19 L120.63,318.42 L122.17,316.7 L123.71,315.02 L125.25,313.39 L126.78,311.81 L128.32,310.27 L129.86,308.78 L131.4,307.33 L132.94,305.92 L134.48,304.55 L136.02,303.22 L137.56,301.93 L139.09,300.68 L140.63,299.47 L142.17,298.29 L143.71,297.14 L145.25,296.03 L146.79,294.95" fill="none" stroke="#111" stroke-width="0.7"/>
<path d="M146.79,294.95 L149.49,293.14 L152.2,291.41 L154.9,289.78 L157.61,288.23 L160.31,286.76 L163.02,285.37 L165.72,284.04 L168.43,282.79 L171.13,281.6 L173.84,280.47 L176.54,279.41 L179.25,278.4 L181.95,277.44 L184.66,276.54 L187.37,275.69 L190.07,274.89 L192.78,274.14 L195.48,273.44 L198.19,272.79 L200.89,272.2 L203.6,271.65 L206.3,271.16 L209.01,270.72 L211.71,270.34 L214.42,270.02 L217.12,269.76 L219.83,269.57 L222.53,269.44 L225.24,269.37 L227.94,269.39 L230.65,269.47 L233.35,269.64 L236.06,269.89 L238.76,270.23 L241.47,270.66 L244.17,271.18 L246.88,271.79 L249.58,272.51 L252.29,273.33 L254.99,274.25 L257.7,275.28 L260.4,276.42 L263.11,277.67 L265.81,279.03 L268.52,280.5 L271.22,282.08 L273.93,283.77 L276.63,285.57 L279.34,287.47 L282.04,289.48 L284.75,291.57 L287.45,293.75 L290.16,296.02 L292.86,298.35 L295.57,300.74 L298.27,303.19 L300.98,305.66 L303.68,308.15 L306.39,310.65" fill="none" stroke="#111" stroke-width="1.5"/>
<path d="M56,437.3 L57.24,434.19 L58.48,430.86 L59.71,427.47 L60.95,424.06 L62.19,420.65 L63.43,417.25 L64.66,413.87 L65.9,410.51 L67.14,407.19 L68.38,403.9 L69.61,400.65 L70.85,397.44 L72.09,394.28 L73.33,391.16 L74.56,388.09 L75.8,385.06 L77.04,382.09 L78.28,379.17 L79.52,376.3 L80.75,373.48 L81.99,370.72 L83.23,368 L84.47,365.35 L85.7,362.75 L86.94,360.2 L88.18,357.7 L89.42,355.26 L90.65,352.88 L91.89,350.55 L93.13,348.27 L94.37,346.05 L95.6,343.87 L96.84,341.76 L98.08,339.69 L99.32,337.68 L100.56,335.71 L101.79,333.8 L103.03,331.93 L104.27,330.12 L105.51,328.35 L106.74,326.63 L107.98,324.96 L109.22,323.33 L110.46,321.75 L111.69,320.21 L112.93,318.72 L114.17,317.26 L115.41,315.85 L116.65,314.48 L117.88,313.15 L119.12,311.86 L120.36,310.6 L121.6,309.38 L122.83,308.2 L124.07,307.05 L125.31,305.94 L126.55,304.85 L127.78,303.81 L129.02,302.79" fill="none" stroke="#111" stroke-width="0.7"/>
<path d="M129.02,302.79 L131.2,301.07 L133.37,299.44 L135.55,297.9 L137.72,296.43 L139.9,295.04 L142.08,293.73 L144.25,292.48 L146.43,291.29 L148.6,290.17 L150.78,289.1 L152.95,288.09 L155.13,287.14 L157.31,286.24 L159.48,285.38 L161.66,284.58 L163.83,283.82 L166.01,283.12 L168.18,282.46 L170.36,281.85 L172.54,281.28 L174.71,280.77 L176.89,280.3 L179.06,279.89 L181.24,279.53 L183.41,279.23 L185.59,278.98 L187.77,278.8 L189.94,278.67 L192.12,278.61 L194.29,278.63 L196.47,278.71 L198.65,278.87 L200.82,279.1 L203,279.42 L205.17,279.83 L207.35,280.32 L209.52,280.9 L211.7,281.58 L213.88,282.35 L216.05,283.22 L218.23,284.2 L220.4,285.27 L222.58,286.45 L224.75,287.74 L226.93,289.13 L229.11,290.62 L231.28,292.22 L233.46,293.92 L235.63,295.72 L237.81,297.61 L239.98,299.59 L242.16,301.65 L244.34,303.79 L246.51,306 L248.69,308.26 L250.86,310.57 L253.04,312.9 L255.21,315.26 L257.39,317.61" fill="none" stroke="#111" stroke-width="1.5"/>
<path d="M56,437.3 L56.78,434.7 L57.56,431.92 L58.34,429.09 L59.12,426.24 L59.9,423.39 L60.68,420.55 L61.46,417.72 L62.24,414.92 L63.02,412.14 L63.8,409.4 L64.58,406.68 L65.36,404 L66.14,401.36 L66.92,398.75 L67.7,396.18 L68.48,393.66 L69.26,391.18 L70.04,388.73 L70.82,386.34 L71.6,383.98 L72.38,381.67 L73.16,379.41 L73.94,377.19 L74.72,375.01 L75.5,372.88 L76.28,370.8 L77.06,368.76 L77.84,366.77 L78.62,364.82 L79.4,362.92 L80.18,361.06 L80.96,359.25 L81.74,357.48 L82.52,355.75 L83.3,354.07 L84.08,352.43 L84.86,350.83 L85.64,349.27 L86.42,347.76 L87.2,346.28 L87.98,344.84 L88.76,343.45 L89.54,342.09 L90.32,340.76 L91.1,339.48 L91.88,338.23 L92.66,337.02 L93.44,335.84 L94.22,334.69 L95,333.58 L95.78,332.5 L96.56,331.45 L97.34,330.43 L98.12,329.44 L98.9,328.48 L99.68,327.55 L100.46,326.65 L101.24,325.77 L102.02,324.92" fill="none" stroke="#111" stroke-width="0.7"/>
<path d="M102.02,324.92 L103.39,323.49 L104.76,322.13 L106.13,320.84 L107.5,319.61 L108.87,318.45 L110.24,317.35 L111.61,316.31 L112.98,315.32 L114.36,314.38 L115.73,313.49 L117.1,312.65 L118.47,311.85 L119.84,311.09 L121.21,310.38 L122.58,309.71 L123.95,309.08 L125.32,308.49 L126.7,307.94 L128.07,307.43 L129.44,306.96 L130.81,306.53 L132.18,306.14 L133.55,305.79 L134.92,305.49 L136.29,305.24 L137.66,305.03 L139.04,304.88 L140.41,304.78 L141.78,304.73 L143.15,304.74 L144.52,304.81 L145.89,304.94 L147.26,305.14 L148.63,305.4 L150,305.74 L151.38,306.15 L152.75,306.64 L154.12,307.2 L155.49,307.85 L156.86,308.58 L158.23,309.39 L159.6,310.29 L160.97,311.28 L162.34,312.35 L163.71,313.51 L165.09,314.76 L166.46,316.1 L167.83,317.52 L169.2,319.02 L170.57,320.6 L171.94,322.25 L173.31,323.97 L174.68,325.76 L176.05,327.6 L177.43,329.49 L178.8,331.42 L180.17,333.37 L181.54,335.34 L182.91,337.31" fill="none" stroke="#111" stroke-width="1.5"/>
<path d="M56,437.3 L56.52,434.82 L57.04,432.17 L57.55,429.46 L58.07,426.74 L58.59,424.02 L59.11,421.31 L59.63,418.61 L60.14,415.94 L60.66,413.29 L61.18,410.67 L61.7,408.07 L62.22,405.51 L62.73,402.99 L63.25,400.5 L63.77,398.05 L64.29,395.64 L64.81,393.27 L65.32,390.94 L65.84,388.65 L66.36,386.41 L66.88,384.2 L67.39,382.04 L67.91,379.92 L68.43,377.84 L68.95,375.81 L69.47,373.82 L69.98,371.88 L70.5,369.98 L71.02,368.12 L71.54,366.3 L72.06,364.53 L72.57,362.8 L73.09,361.11 L73.61,359.46 L74.13,357.85 L74.65,356.29 L75.16,354.76 L75.68,353.27 L76.2,351.83 L76.72,350.42 L77.24,349.05 L77.75,347.71 L78.27,346.41 L78.79,345.15 L79.31,343.93 L79.83,342.73 L80.34,341.57 L80.86,340.45 L81.38,339.36 L81.9,338.29 L82.42,337.26 L82.93,336.26 L83.45,335.29 L83.97,334.35 L84.49,333.43 L85.01,332.54 L85.52,331.68 L86.04,330.84 L86.56,330.03" fill="none" stroke="#111" stroke-width="0.7"/>
<path d="M86.56,330.03 L87.47,328.66 L88.38,327.36 L89.29,326.13 L90.2,324.96 L91.11,323.85 L92.02,322.8 L92.93,321.81 L93.84,320.86 L94.75,319.97 L95.66,319.12 L96.57,318.31 L97.49,317.55 L98.4,316.83 L99.31,316.15 L100.22,315.51 L101.13,314.91 L102.04,314.34 L102.95,313.82 L103.86,313.33 L104.77,312.88 L105.68,312.47 L106.59,312.1 L107.5,311.77 L108.41,311.48 L109.32,311.24 L110.23,311.05 L111.14,310.9 L112.05,310.8 L112.96,310.75 L113.87,310.76 L114.79,310.83 L115.7,310.96 L116.61,311.14 L117.52,311.4 L118.43,311.72 L119.34,312.11 L120.25,312.58 L121.16,313.12 L122.07,313.73 L122.98,314.43 L123.89,315.2 L124.8,316.06 L125.71,317 L126.62,318.03 L127.53,319.14 L128.44,320.33 L129.35,321.61 L130.26,322.96 L131.17,324.39 L132.09,325.9 L133,327.48 L133.91,329.13 L134.82,330.83 L135.73,332.59 L136.64,334.39 L137.55,336.23 L138.46,338.1 L139.37,339.98 L140.28,341.85" fill="none" stroke="#111" stroke-width="1.5"/>
<path d="M56,437.3 L56.75,433.65 L57.51,429.74 L58.26,425.76 L59.01,421.75 L59.76,417.74 L60.52,413.75 L61.27,409.78 L62.02,405.83 L62.78,401.93 L63.53,398.07 L64.28,394.25 L65.03,390.48 L65.79,386.76 L66.54,383.1 L67.29,379.49 L68.05,375.94 L68.8,372.45 L69.55,369.01 L70.3,365.64 L71.06,362.33 L71.81,359.08 L72.56,355.9 L73.32,352.78 L74.07,349.72 L74.82,346.73 L75.57,343.8 L76.33,340.93 L77.08,338.13 L77.83,335.39 L78.58,332.72 L79.34,330.11 L80.09,327.55 L80.84,325.07 L81.6,322.64 L82.35,320.27 L83.1,317.97 L83.85,315.72 L84.61,313.53 L85.36,311.4 L86.11,309.32 L86.87,307.3 L87.62,305.34 L88.37,303.42 L89.12,301.57 L89.88,299.76 L90.63,298 L91.38,296.3 L92.14,294.64 L92.89,293.03 L93.64,291.46 L94.39,289.94 L95.15,288.47 L95.9,287.04 L96.65,285.65 L97.41,284.3 L98.16,282.99 L98.91,281.72 L99.66,280.49 L100.42,279.29" fill="none" stroke="#111" stroke-width="0.7"/>
<path d="M100.42,279.29 L101.74,277.27 L103.06,275.36 L104.39,273.54 L105.71,271.82 L107.03,270.19 L108.36,268.65 L109.68,267.18 L111,265.79 L112.33,264.47 L113.65,263.21 L114.97,262.03 L116.3,260.91 L117.62,259.85 L118.95,258.85 L120.27,257.9 L121.59,257.01 L122.92,256.18 L124.24,255.41 L125.56,254.69 L126.89,254.03 L128.21,253.42 L129.53,252.88 L130.86,252.39 L132.18,251.97 L133.5,251.61 L134.83,251.33 L136.15,251.11 L137.47,250.96 L138.8,250.9 L140.12,250.91 L141.44,251.01 L142.77,251.19 L144.09,251.47 L145.41,251.84 L146.74,252.32 L148.06,252.89 L149.38,253.58 L150.71,254.37 L152.03,255.28 L153.35,256.31 L154.68,257.45 L156,258.72 L157.32,260.1 L158.65,261.61 L159.97,263.25 L161.3,265 L162.62,266.88 L163.94,268.88 L165.27,270.99 L166.59,273.21 L167.91,275.53 L169.24,277.96 L170.56,280.47 L171.88,283.06 L173.21,285.72 L174.53,288.43 L175.85,291.17 L177.18,293.94 L178.5,296.71" fill="none" stroke="#111" stroke-width="1.5"/>
<path d="M56,437.3 L57.51,433.65 L59.01,429.74 L60.52,425.76 L62.02,421.75 L63.53,417.74 L65.03,413.75 L66.54,409.78 L68.05,405.83 L69.55,401.93 L71.06,398.07 L72.56,394.25 L74.07,390.48 L75.57,386.76 L77.08,383.1 L78.58,379.49 L80.09,375.94 L81.6,372.45 L83.1,369.01 L84.61,365.64 L86.11,362.33 L87.62,359.08 L89.12,355.9 L90.63,352.78 L92.14,349.72 L93.64,346.73 L95.15,343.8 L96.65,340.93 L98.16,338.13 L99.66,335.39 L101.17,332.72 L102.68,330.11 L104.18,327.55 L105.69,325.07 L107.19,322.64 L108.7,320.27 L110.2,317.97 L111.71,315.72 L113.22,313.53 L114.72,311.4 L116.23,309.32 L117.73,307.3 L119.24,305.34 L120.74,303.42 L122.25,301.57 L123.75,299.76 L125.26,298 L126.77,296.3 L128.27,294.64 L129.78,293.03 L131.28,291.46 L132.79,289.94 L134.29,288.47 L135.8,287.04 L137.31,285.65 L138.81,284.3 L140.32,282.99 L141.82,281.72 L143.33,280.49 L144.83,279.29" fill="none" stroke="#111" stroke-width="0.7"/>
<path d="M144.83,279.29 L147.48,277.27 L150.13,275.36 L152.77,273.54 L155.42,271.82 L158.07,270.19 L160.72,268.65 L163.36,267.18 L166.01,265.79 L168.66,264.47 L171.3,263.21 L173.95,262.03 L176.6,260.91 L179.24,259.85 L181.89,258.85 L184.54,257.9 L187.18,257.01 L189.83,256.18 L192.48,255.41 L195.12,254.69 L197.77,254.03 L200.42,253.42 L203.07,252.88 L205.71,252.39 L208.36,251.97 L211.01,251.61 L213.65,251.33 L216.3,251.11 L218.95,250.96 L221.59,250.9 L224.24,250.91 L226.89,251.01 L229.53,251.19 L232.18,251.47 L234.83,251.84 L237.47,252.32 L240.12,252.89 L242.77,253.58 L245.42,254.37 L248.06,255.28 L250.71,256.31 L253.36,257.45 L256,258.72 L258.65,260.1 L261.3,261.61 L263.94,263.25 L266.59,265 L269.24,266.88 L271.88,268.88 L274.53,270.99 L277.18,273.21 L279.82,275.53 L282.47,277.96 L285.12,280.47 L287.77,283.06 L290.41,285.72 L293.06,288.43 L295.71,291.17 L298.35,293.94 L301,296.71" fill="none" stroke="#111" stroke-width="1.5"/>
<path d="M56,437.3 L58.26,433.65 L60.52,429.74 L62.78,425.76 L65.03,421.75 L67.29,417.74 L69.55,413.75 L71.81,409.78 L74.07,405.83 L76.33,401.93 L78.58,398.07 L80.84,394.25 L83.1,390.48 L85.36,386.76 L87.62,383.1 L89.88,379.49 L92.14,375.94 L94.39,372.45 L96.65,369.01 L98.91,365.64 L101.17,362.33 L103.43,359.08 L105.69,355.9 L107.95,352.78 L110.2,349.72 L112.46,346.73 L114.72,343.8 L116.98,340.93 L119.24,338.13 L121.5,335.39 L123.75,332.72 L126.01,330.11 L128.27,327.55 L130.53,325.07 L132.79,322.64 L135.05,320.27 L137.31,317.97 L139.56,315.72 L141.82,313.53 L144.08,311.4 L146.34,309.32 L148.6,307.3 L150.86,305.34 L153.12,303.42 L155.37,301.57 L157.63,299.76 L159.89,298 L162.15,296.3 L164.41,294.64 L166.67,293.03 L168.92,291.46 L171.18,289.94 L173.44,288.47 L175.7,287.04 L177.96,285.65 L180.22,284.3 L182.48,282.99 L184.73,281.72 L186.99,280.49 L189.25,279.29" fill="none" stroke="#111" stroke-width="0.7"/>
<path d="M189.25,279.29 L193.22,277.27 L197.19,275.36 L201.16,273.54 L205.13,271.82 L209.1,270.19 L213.07,268.65 L217.04,267.18 L221.01,265.79 L224.98,264.47 L228.95,263.21 L232.92,262.03 L236.89,260.91 L240.87,259.85 L244.84,258.85 L248.81,257.9 L252.78,257.01 L256.75,256.18 L260.72,255.41 L264.69,254.69 L268.66,254.03 L272.63,253.42 L276.6,252.88 L280.57,252.39 L284.54,251.97 L288.51,251.61 L292.48,251.33 L296.45,251.11 L300.42,250.96 L304.39,250.9 L308.36,250.91 L312.33,251.01 L316.3,251.19 L320.27,251.47 L324.24,251.84 L328.21,252.32 L332.18,252.89 L336.15,253.58 L340.12,254.37 L344.09,255.28 L348.06,256.31 L352.03,257.45 L356,258.72 L359.97,260.1 L363.95,261.61 L367.92,263.25 L371.89,265 L375.86,266.88 L379.83,268.88 L383.8,270.99 L387.77,273.21 L391.74,275.53 L395.71,277.96 L399.68,280.47 L403.65,283.06 L407.62,285.72 L411.59,288.43 L415.56,291.17 L419.53,293.94 L423.5,296.71" fill="none" stroke="#111" stroke-width="1.5"/>
</g>
<path d="M56.5,0.5 H593.5" fill="none" stroke="#7d8388" stroke-width="1"/>
<path d="M593.5,0 V437" fill="none" stroke="#7a7a7a" stroke-width="1"/>
<path d="M56.5,0 V437.5" fill="none" stroke="#3c3c3c" stroke-width="1"/>
<line x1="56" y1="437.5" x2="594" y2="437.5" stroke="#111" stroke-width="1.2"/>
<line x1="51.5" y1="437.5" x2="56.5" y2="437.5" stroke="#222" stroke-width="1"/>
<line x1="51.5" y1="409.5" x2="56.5" y2="409.5" stroke="#b4b4b4" stroke-width="1"/>
<line x1="51.5" y1="382.5" x2="56.5" y2="382.5" stroke="#222" stroke-width="1"/>
<line x1="51.5" y1="355.5" x2="56.5" y2="355.5" stroke="#b4b4b4" stroke-width="1"/>
<line x1="51.5" y1="327.5" x2="56.5" y2="327.5" stroke="#222" stroke-width="1"/>
<line x1="51.5" y1="300.5" x2="56.5" y2="300.5" stroke="#b4b4b4" stroke-width="1"/>
<line x1="51.5" y1="273.5" x2="56.5" y2="273.5" stroke="#222" stroke-width="1"/>
<line x1="51.5" y1="245.5" x2="56.5" y2="245.5" stroke="#b4b4b4" stroke-width="1"/>
<line x1="51.5" y1="218.5" x2="56.5" y2="218.5" stroke="#222" stroke-width="1"/>
<line x1="51.5" y1="191.5" x2="56.5" y2="191.5" stroke="#b4b4b4" stroke-width="1"/>
<line x1="51.5" y1="164.5" x2="56.5" y2="164.5" stroke="#222" stroke-width="1"/>
<line x1="51.5" y1="136.5" x2="56.5" y2="136.5" stroke="#b4b4b4" stroke-width="1"/>
<line x1="51.5" y1="109.5" x2="56.5" y2="109.5" stroke="#222" stroke-width="1"/>
<line x1="51.5" y1="82.5" x2="56.5" y2="82.5" stroke="#b4b4b4" stroke-width="1"/>
<line x1="593.5" y1="437.5" x2="598.5" y2="437.5" stroke="#222" stroke-width="1"/>
<line x1="593.5" y1="409.5" x2="598.5" y2="409.5" stroke="#b4b4b4" stroke-width="1"/>
<line x1="593.5" y1="382.5" x2="598.5" y2="382.5" stroke="#222" stroke-width="1"/>
<line x1="593.5" y1="355.5" x2="598.5" y2="355.5" stroke="#b4b4b4" stroke-width="1"/>
<line x1="593.5" y1="327.5" x2="598.5" y2="327.5" stroke="#222" stroke-width="1"/>
<line x1="593.5" y1="300.5" x2="598.5" y2="300.5" stroke="#b4b4b4" stroke-width="1"/>
<line x1="593.5" y1="273.5" x2="598.5" y2="273.5" stroke="#222" stroke-width="1"/>
<line x1="593.5" y1="245.5" x2="598.5" y2="245.5" stroke="#b4b4b4" stroke-width="1"/>
<line x1="593.5" y1="218.5" x2="598.5" y2="218.5" stroke="#222" stroke-width="1"/>
<line x1="593.5" y1="191.5" x2="598.5" y2="191.5" stroke="#b4b4b4" stroke-width="1"/>
<line x1="593.5" y1="164.5" x2="598.5" y2="164.5" stroke="#222" stroke-width="1"/>
<line x1="56.5" y1="437" x2="56.5" y2="442" stroke="#222" stroke-width="1"/>
<line x1="126.5" y1="437" x2="126.5" y2="442" stroke="#999" stroke-width="1"/>
<line x1="196.5" y1="437" x2="196.5" y2="442" stroke="#222" stroke-width="1"/>
<line x1="266.5" y1="437" x2="266.5" y2="442" stroke="#999" stroke-width="1"/>
<line x1="336.5" y1="437" x2="336.5" y2="442" stroke="#222" stroke-width="1"/>
<line x1="406.5" y1="437" x2="406.5" y2="442" stroke="#999" stroke-width="1"/>
<line x1="476.5" y1="437" x2="476.5" y2="442" stroke="#222" stroke-width="1"/>
<line x1="546.5" y1="437" x2="546.5" y2="442" stroke="#999" stroke-width="1"/>
<rect x="440.5" y="0.5" width="153" height="18" fill="#fff" stroke="#6e6e6e" stroke-width="1"/>
<g clip-path="url(#cb)">
<path d="M56,690.9 L56,628.63 L64.31,627.24 L72.61,625.7 L80.92,624.01 L89.22,622.18 L97.53,620.23 L105.83,618.17 L114.14,616.01 L122.44,613.76 L130.75,611.43 L139.05,609.04 L147.36,606.59 L155.66,604.09 L163.97,601.56 L172.27,599 L180.58,596.41 L188.88,593.81 L197.19,591.21 L205.49,588.62 L213.8,586.03 L222.1,583.45 L230.41,580.9 L238.71,578.38 L247.02,575.89 L255.32,573.44 L263.63,571.04 L271.93,568.68 L280.24,566.37 L288.54,564.12 L296.85,561.92 L305.15,559.79 L313.46,557.72 L321.76,555.71 L330.07,553.77 L338.37,551.9 L346.68,550.1 L354.98,548.36 L363.29,546.7 L371.59,545.1 L379.9,543.57 L388.2,542.1 L396.51,540.7 L404.81,539.37 L413.12,538.09 L421.42,536.87 L429.73,535.71 L438.03,534.6 L446.34,533.53 L454.64,532.51 L462.95,531.53 L471.25,530.57 L479.56,529.65 L487.86,528.75 L496.17,527.86 L504.47,526.99 L512.78,526.12 L521.08,525.24 L529.39,524.34 L537.69,523.43 L546,522.49 L546,522.49 L533.44,534.85 L520.87,546.6 L508.31,557.76 L495.74,568.35 L483.18,578.39 L470.62,587.88 L458.05,596.83 L445.49,605.22 L432.92,613.09 L420.36,620.48 L407.79,627.38 L395.23,633.54 L382.67,639.2 L370.1,644.5 L357.54,649.45 L344.97,654 L332.41,658.2 L319.85,662.11 L307.28,665.71 L294.72,669 L282.15,672.01 L269.59,674.75 L257.03,677.23 L244.46,679.31 L231.9,681.2 L219.33,682.9 L206.77,684.41 L194.21,685.74 L181.64,686.9 L169.08,687.95 L156.51,688.8 L143.95,689.47 L131.38,690 L118.82,690.38 L106.26,690.63 L93.69,690.79 L81.13,690.87 L68.56,690.9 L56,690.9 Z" fill="#eef5fd"/>
<path d="M100.42,663.15 L101.74,662.75 L103.06,662.35 L104.39,661.96 L105.71,661.57 L107.03,661.19 L108.36,660.81 L109.68,660.43 L111,660.06 L112.33,659.69 L113.65,659.33 L114.97,658.98 L116.3,658.63 L117.62,658.29 L118.95,657.96 L120.27,657.63 L121.59,657.31 L122.92,656.99 L124.24,656.68 L125.56,656.38 L126.89,656.09 L128.21,655.8 L129.53,655.52 L130.86,655.24 L132.18,654.98 L133.5,654.72 L134.83,654.46 L136.15,654.22 L137.47,653.98 L138.8,653.75 L140.12,653.52 L141.44,653.3 L142.77,653.09 L144.09,652.88 L145.41,652.68 L146.74,652.48 L148.06,652.29 L149.38,652.11 L150.71,651.93 L152.03,651.76 L153.35,651.59 L154.68,651.42 L156,651.26 L157.32,651.1 L158.65,650.95 L159.97,650.8 L161.3,650.65 L162.62,650.51 L163.94,650.37 L165.27,650.22 L166.59,650.08 L167.91,649.94 L169.24,649.8 L170.56,649.67 L171.88,649.53 L173.21,649.38 L174.53,649.24 L175.85,649.1 L177.18,648.95 L178.5,648.8 L178.5,648.8 L175.77,651.49 L173.03,654.08 L170.3,656.55 L167.57,658.9 L164.84,661.16 L162.1,663.31 L159.37,665.35 L156.64,667.29 L153.91,669.13 L151.17,670.87 L148.44,672.52 L145.71,674.07 L142.97,675.53 L140.24,676.82 L137.51,678.04 L134.78,679.2 L132.04,680.29 L129.31,681.3 L126.58,682.24 L123.85,683.13 L121.11,683.95 L118.38,684.72 L115.65,685.43 L112.92,686.09 L110.18,686.7 L107.45,687.25 L104.72,687.74 L101.98,688.18 L99.25,688.58 L96.52,688.94 L93.79,689.27 L91.05,689.56 L88.32,689.82 L85.59,690.06 L82.86,690.26 L80.12,690.43 L77.39,690.57 L74.66,690.68 L71.92,690.76 L71.92,690.76 L71.75,690.76 L71.58,690.76 L71.41,690.77 L71.24,690.77 L71.06,690.77 L70.89,690.77 L70.72,690.77 L70.55,690.77 L70.38,690.77 L70.2,690.77 L70.03,690.77 L69.86,690.77 L69.69,690.77 L69.52,690.77 L69.34,690.77 L69.17,690.77 L69,690.77 L68.83,690.77 L68.66,690.77 L68.48,690.77 L68.31,690.77 L68.14,690.77 L67.97,690.78 L67.8,690.78 L67.62,690.78 L67.45,690.78 L67.28,690.78 L67.11,690.78 L66.94,690.78 L66.76,690.78 L66.59,690.78 L66.42,690.78 L66.25,690.78 L66.08,690.78 L65.9,690.78 L65.73,690.78 L65.56,690.79 L65.39,690.79 L65.22,690.79 L65.04,690.79 L64.87,690.79 L64.7,690.79 L64.53,690.79 L64.35,690.79 L64.18,690.79 L64.01,690.79 L63.84,690.8 L63.67,690.8 L63.49,690.8 L63.32,690.8 L63.15,690.8 L62.98,690.8 L62.81,690.8 L62.63,690.8 L62.46,690.81 L62.29,690.81 L62.12,690.81 L61.95,690.81 L61.77,690.81 L61.77,690.81 L62.77,690.76 L63.76,690.68 L64.75,690.59 L65.74,690.48 L66.73,690.35 L67.72,690.19 L68.71,690.02 L69.7,689.82 L70.69,689.61 L71.68,689.37 L72.67,689.11 L73.66,688.82 L74.66,688.5 L75.65,688.13 L76.64,687.73 L77.63,687.3 L78.62,686.83 L79.61,686.32 L80.6,685.78 L81.59,685.19 L82.58,684.57 L83.57,683.9 L84.56,683.19 L85.55,682.43 L86.55,681.62 L87.54,680.77 L88.53,679.81 L89.52,678.78 L90.51,677.7 L91.5,676.56 L92.49,675.34 L93.48,674.06 L94.47,672.71 L95.46,671.3 L96.45,669.81 L97.44,668.26 L98.44,666.63 L99.43,664.93 L100.42,663.15 Z" fill="#d0dbe7"/>
<path d="M144.83,635.4 L147.48,634.6 L150.13,633.81 L152.77,633.02 L155.42,632.24 L158.07,631.47 L160.72,630.71 L163.36,629.96 L166.01,629.22 L168.66,628.49 L171.3,627.77 L173.95,627.06 L176.6,626.37 L179.24,625.68 L181.89,625.01 L184.54,624.36 L187.18,623.71 L189.83,623.08 L192.48,622.47 L195.12,621.86 L197.77,621.27 L200.42,620.7 L203.07,620.13 L205.71,619.59 L208.36,619.05 L211.01,618.53 L213.65,618.03 L216.3,617.53 L218.95,617.06 L221.59,616.59 L224.24,616.14 L226.89,615.7 L229.53,615.27 L232.18,614.86 L234.83,614.46 L237.47,614.07 L240.12,613.69 L242.77,613.32 L245.42,612.96 L248.06,612.61 L250.71,612.27 L253.36,611.94 L256,611.62 L258.65,611.31 L261.3,611 L263.94,610.7 L266.59,610.41 L269.24,610.12 L271.88,609.83 L274.53,609.55 L277.18,609.27 L279.82,608.99 L282.47,608.71 L285.12,608.43 L287.77,608.15 L290.41,607.87 L293.06,607.58 L295.71,607.29 L298.35,607 L301,606.69 L301,606.69 L295.53,612.09 L290.07,617.25 L284.6,622.19 L279.14,626.91 L273.67,631.41 L268.21,635.71 L262.74,639.8 L257.28,643.69 L251.81,647.37 L246.35,650.84 L240.88,654.13 L235.42,657.24 L229.95,660.17 L224.48,662.74 L219.02,665.19 L213.55,667.5 L208.09,669.67 L202.62,671.7 L197.16,673.58 L191.69,675.35 L186.23,677 L180.76,678.54 L175.3,679.96 L169.83,681.28 L164.37,682.49 L158.9,683.61 L153.43,684.59 L147.97,685.46 L142.5,686.25 L137.04,686.98 L131.57,687.63 L126.11,688.22 L120.64,688.74 L115.18,689.22 L109.71,689.63 L104.25,689.97 L98.78,690.24 L93.32,690.46 L87.85,690.63 L87.85,690.63 L87.51,690.63 L87.16,690.63 L86.82,690.63 L86.47,690.63 L86.13,690.63 L85.79,690.63 L85.44,690.63 L85.1,690.63 L84.75,690.64 L84.41,690.64 L84.06,690.64 L83.72,690.64 L83.38,690.64 L83.03,690.64 L82.69,690.64 L82.34,690.64 L82,690.64 L81.66,690.64 L81.31,690.65 L80.97,690.65 L80.62,690.65 L80.28,690.65 L79.94,690.65 L79.59,690.65 L79.25,690.65 L78.9,690.65 L78.56,690.66 L78.22,690.66 L77.87,690.66 L77.53,690.66 L77.18,690.66 L76.84,690.66 L76.49,690.66 L76.15,690.67 L75.81,690.67 L75.46,690.67 L75.12,690.67 L74.77,690.67 L74.43,690.67 L74.09,690.68 L73.74,690.68 L73.4,690.68 L73.05,690.68 L72.71,690.68 L72.37,690.69 L72.02,690.69 L71.68,690.69 L71.33,690.69 L70.99,690.7 L70.65,690.7 L70.3,690.7 L69.96,690.7 L69.61,690.71 L69.27,690.71 L68.92,690.71 L68.58,690.71 L68.24,690.72 L67.89,690.72 L67.55,690.72 L67.55,690.72 L69.53,690.61 L71.51,690.47 L73.49,690.28 L75.48,690.06 L77.46,689.79 L79.44,689.48 L81.42,689.13 L83.4,688.75 L85.38,688.32 L87.37,687.84 L89.35,687.31 L91.33,686.74 L93.31,686.1 L95.29,685.36 L97.27,684.56 L99.26,683.69 L101.24,682.76 L103.22,681.74 L105.2,680.65 L107.18,679.49 L109.16,678.24 L111.15,676.91 L113.13,675.48 L115.11,673.95 L117.09,672.34 L119.07,670.64 L121.05,668.71 L123.04,666.67 L125.02,664.5 L127,662.21 L128.98,659.79 L130.96,657.23 L132.94,654.53 L134.93,651.7 L136.91,648.73 L138.89,645.62 L140.87,642.36 L142.85,638.96 L144.83,635.4 Z" fill="#d0dbe7"/>
<path d="M189.25,607.66 L193.22,606.45 L197.19,605.26 L201.16,604.08 L205.13,602.91 L209.1,601.76 L213.07,600.62 L217.04,599.49 L221.01,598.38 L224.98,597.28 L228.95,596.2 L232.92,595.14 L236.89,594.1 L240.87,593.08 L244.84,592.07 L248.81,591.09 L252.78,590.12 L256.75,589.17 L260.72,588.25 L264.69,587.34 L268.66,586.46 L272.63,585.59 L276.6,584.75 L280.57,583.93 L284.54,583.13 L288.51,582.35 L292.48,581.59 L296.45,580.85 L300.42,580.13 L304.39,579.44 L308.36,578.76 L312.33,578.1 L316.3,577.46 L320.27,576.84 L324.24,576.23 L328.21,575.65 L332.18,575.08 L336.15,574.53 L340.12,573.99 L344.09,573.47 L348.06,572.96 L352.03,572.47 L356,571.98 L359.97,571.51 L363.95,571.05 L367.92,570.6 L371.89,570.16 L375.86,569.72 L379.83,569.3 L383.8,568.87 L387.77,568.45 L391.74,568.03 L395.71,567.61 L399.68,567.2 L403.65,566.78 L407.62,566.35 L411.59,565.92 L415.56,565.49 L419.53,565.04 L423.5,564.59 L423.5,564.59 L415.3,572.68 L407.1,580.43 L398.91,587.84 L390.71,594.91 L382.51,601.67 L374.31,608.12 L366.11,614.25 L357.92,620.08 L349.72,625.6 L341.52,630.81 L333.32,635.75 L325.12,640.4 L316.93,644.8 L308.73,648.67 L300.53,652.33 L292.33,655.79 L284.13,659.06 L275.93,662.1 L267.74,664.92 L259.54,667.58 L251.34,670.06 L243.14,672.37 L234.94,674.5 L226.75,676.47 L218.55,678.29 L210.35,679.96 L202.15,681.43 L193.95,682.74 L185.76,683.93 L177.56,685.02 L169.36,686 L161.16,686.88 L152.96,687.66 L144.77,688.37 L136.57,688.99 L128.37,689.5 L120.17,689.91 L111.97,690.24 L103.78,690.49 L103.78,690.49 L103.26,690.49 L102.74,690.49 L102.23,690.5 L101.71,690.5 L101.19,690.5 L100.68,690.5 L100.16,690.5 L99.65,690.5 L99.13,690.5 L98.61,690.51 L98.1,690.51 L97.58,690.51 L97.07,690.51 L96.55,690.51 L96.03,690.51 L95.52,690.51 L95,690.52 L94.48,690.52 L93.97,690.52 L93.45,690.52 L92.94,690.52 L92.42,690.52 L91.9,690.53 L91.39,690.53 L90.87,690.53 L90.36,690.53 L89.84,690.53 L89.32,690.53 L88.81,690.54 L88.29,690.54 L87.77,690.54 L87.26,690.54 L86.74,690.55 L86.23,690.55 L85.71,690.55 L85.19,690.55 L84.68,690.56 L84.16,690.56 L83.65,690.56 L83.13,690.56 L82.61,690.57 L82.1,690.57 L81.58,690.57 L81.06,690.58 L80.55,690.58 L80.03,690.58 L79.52,690.59 L79,690.59 L78.48,690.59 L77.97,690.6 L77.45,690.6 L76.94,690.6 L76.42,690.61 L75.9,690.61 L75.39,690.62 L74.87,690.62 L74.35,690.62 L73.84,690.63 L73.32,690.63 L73.32,690.63 L76.3,690.47 L79.27,690.25 L82.24,689.98 L85.21,689.64 L88.19,689.24 L91.16,688.76 L94.13,688.25 L97.1,687.67 L100.08,687.02 L103.05,686.31 L106.02,685.52 L108.99,684.66 L111.97,683.69 L114.94,682.59 L117.91,681.39 L120.88,680.09 L123.86,678.69 L126.83,677.16 L129.8,675.53 L132.77,673.78 L135.75,671.92 L138.72,669.91 L141.69,667.76 L144.66,665.48 L147.64,663.07 L150.61,660.52 L153.58,657.62 L156.55,654.55 L159.53,651.3 L162.5,647.87 L165.47,644.23 L168.44,640.39 L171.42,636.34 L174.39,632.09 L177.36,627.64 L180.33,622.98 L183.31,618.1 L186.28,612.99 L189.25,607.66 Z" fill="#d0dbe7"/>
<path d="M233.67,579.91 L238.96,578.31 L244.26,576.72 L249.55,575.14 L254.84,573.58 L260.14,572.04 L265.43,570.52 L270.72,569.02 L276.02,567.54 L281.31,566.08 L286.61,564.64 L291.9,563.22 L297.19,561.83 L302.49,560.47 L307.78,559.13 L313.07,557.81 L318.37,556.53 L323.66,555.26 L328.96,554.03 L334.25,552.82 L339.54,551.64 L344.84,550.49 L350.13,549.37 L355.42,548.27 L360.72,547.21 L366.01,546.17 L371.31,545.15 L376.6,544.17 L381.89,543.21 L387.19,542.28 L392.48,541.38 L397.77,540.5 L403.07,539.64 L408.36,538.82 L413.66,538.01 L418.95,537.23 L424.24,536.47 L429.54,535.74 L434.83,535.02 L440.12,534.32 L445.42,533.65 L450.71,532.99 L456.01,532.35 L461.3,531.72 L466.59,531.1 L471.89,530.5 L477.18,529.91 L482.47,529.33 L487.77,528.76 L493.06,528.19 L498.36,527.63 L503.65,527.08 L508.94,526.52 L514.24,525.96 L519.53,525.4 L524.82,524.84 L530.12,524.26 L535.41,523.68 L540.71,523.09 L546,522.49 L546,522.49 L535.07,533.28 L524.14,543.61 L513.21,553.48 L502.28,562.91 L491.35,571.93 L480.42,580.53 L469.48,588.71 L458.55,596.48 L447.62,603.84 L436.69,610.79 L425.76,617.36 L414.83,623.57 L403.9,629.43 L392.97,634.59 L382.04,639.47 L371.11,644.09 L360.18,648.44 L349.25,652.49 L338.32,656.26 L327.38,659.8 L316.45,663.11 L305.52,666.19 L294.59,669.03 L283.66,671.66 L272.73,674.09 L261.8,676.32 L250.87,678.27 L239.94,680.02 L229.01,681.61 L218.08,683.06 L207.15,684.37 L196.22,685.54 L185.28,686.58 L174.35,687.53 L163.42,688.35 L152.49,689.03 L141.56,689.58 L130.63,690.02 L119.7,690.35 L119.7,690.35 L119.01,690.36 L118.32,690.36 L117.64,690.36 L116.95,690.36 L116.26,690.36 L115.57,690.37 L114.88,690.37 L114.19,690.37 L113.51,690.37 L112.82,690.37 L112.13,690.38 L111.44,690.38 L110.75,690.38 L110.07,690.38 L109.38,690.38 L108.69,690.38 L108,690.39 L107.31,690.39 L106.62,690.39 L105.94,690.39 L105.25,690.4 L104.56,690.4 L103.87,690.4 L103.18,690.4 L102.5,690.41 L101.81,690.41 L101.12,690.41 L100.43,690.41 L99.74,690.42 L99.05,690.42 L98.37,690.42 L97.68,690.43 L96.99,690.43 L96.3,690.43 L95.61,690.43 L94.93,690.44 L94.24,690.44 L93.55,690.45 L92.86,690.45 L92.17,690.45 L91.48,690.46 L90.8,690.46 L90.11,690.47 L89.42,690.47 L88.73,690.47 L88.04,690.48 L87.36,690.48 L86.67,690.49 L85.98,690.49 L85.29,690.5 L84.6,690.5 L83.91,690.51 L83.23,690.51 L82.54,690.52 L81.85,690.52 L81.16,690.53 L80.47,690.53 L79.79,690.54 L79.1,690.54 L79.1,690.54 L83.06,690.32 L87.02,690.03 L90.99,689.67 L94.95,689.22 L98.91,688.68 L102.88,688.05 L106.84,687.37 L110.8,686.6 L114.77,685.73 L118.73,684.78 L122.69,683.73 L126.66,682.58 L130.62,681.29 L134.58,679.82 L138.55,678.22 L142.51,676.49 L146.47,674.61 L150.44,672.58 L154.4,670.4 L158.36,668.07 L162.33,665.59 L166.29,662.92 L170.25,660.05 L174.22,657.01 L178.18,653.79 L182.14,650.39 L186.11,646.53 L190.07,642.43 L194.03,638.1 L198,633.52 L201.96,628.67 L205.92,623.55 L209.89,618.16 L213.85,612.49 L217.81,606.55 L221.78,600.34 L225.74,593.83 L229.7,587.02 L233.67,579.91 Z" fill="#d0dbe7"/>
<line x1="57" y1="652.1" x2="593" y2="652.1" stroke="#bec3c8" stroke-opacity="0.65" stroke-width="1"/>
<line x1="57" y1="613.3" x2="593" y2="613.3" stroke="#bec3c8" stroke-opacity="0.65" stroke-width="1"/>
<line x1="57" y1="574.5" x2="593" y2="574.5" stroke="#bec3c8" stroke-opacity="0.65" stroke-width="1"/>
<line x1="57" y1="535.7" x2="593" y2="535.7" stroke="#bec3c8" stroke-opacity="0.65" stroke-width="1"/>
<line x1="57" y1="496.9" x2="593" y2="496.9" stroke="#bec3c8" stroke-opacity="0.65" stroke-width="1"/>
<line x1="126.25" y1="459" x2="126.25" y2="691" stroke="#bec3c8" stroke-opacity="0.65" stroke-width="1.1"/>
<line x1="196.25" y1="459" x2="196.25" y2="691" stroke="#bec3c8" stroke-opacity="0.65" stroke-width="1.1"/>
<line x1="266.25" y1="459" x2="266.25" y2="691" stroke="#bec3c8" stroke-opacity="0.65" stroke-width="1.1"/>
<line x1="336.25" y1="459" x2="336.25" y2="691" stroke="#bec3c8" stroke-opacity="0.65" stroke-width="1.1"/>
<line x1="406.25" y1="459" x2="406.25" y2="691" stroke="#bec3c8" stroke-opacity="0.65" stroke-width="1.1"/>
<line x1="476.25" y1="459" x2="476.25" y2="691" stroke="#bec3c8" stroke-opacity="0.65" stroke-width="1.1"/>
<line x1="546.25" y1="459" x2="546.25" y2="691" stroke="#bec3c8" stroke-opacity="0.65" stroke-width="1.1"/>
<path d="M90.3,682.31 L92.73,682.29 L95.16,682.26 L97.59,682.24 L100.02,682.21 L102.45,682.19 L104.88,682.16 L107.31,682.13 L109.74,682.1 L112.17,682.06 L114.6,682.03 L117.03,681.99 L119.46,681.96 L121.89,681.92 L124.32,681.88 L126.75,681.83 L129.18,681.79 L131.61,681.75 L134.04,681.7 L136.47,681.65 L138.9,681.6 L141.33,681.55 L143.76,681.5 L146.19,681.45 L148.62,681.39 L151.05,681.34 L153.48,681.28 L155.91,681.22 L158.34,681.16 L160.77,681.09 L163.2,681.03 L165.63,680.97 L168.06,680.9 L170.49,680.83 L172.92,680.76 L175.35,680.69 L177.78,680.62 L180.21,680.54 L182.64,680.47 L185.07,680.39 L187.5,680.31 L189.93,680.23 L192.36,680.15 L194.79,680.07 L197.22,679.98 L199.65,679.9 L202.08,679.81 L204.51,679.72 L206.94,679.63 L209.37,679.54 L211.8,679.45 L214.23,679.35 L216.66,679.26 L219.09,679.16 L221.52,679.06 L223.95,678.96 L226.38,678.86 L228.81,678.75 L231.24,678.65 L233.67,678.54" fill="none" stroke="#111" stroke-width="0.8"/>
<path d="M233.67,678.54 L238.96,678.3 L244.26,678.06 L249.55,677.81 L254.84,677.55 L260.14,677.28 L265.43,677.01 L270.72,676.73 L276.02,676.44 L281.31,676.14 L286.61,675.84 L291.9,675.52 L297.19,675.2 L302.49,674.87 L307.78,674.53 L313.07,674.19 L318.37,673.83 L323.66,673.46 L328.96,673.09 L334.25,672.7 L339.54,672.3 L344.84,671.89 L350.13,671.47 L355.42,671.04 L360.72,670.59 L366.01,670.13 L371.31,669.65 L376.6,669.16 L381.89,668.65 L387.19,668.12 L392.48,667.57 L397.77,667 L403.07,666.41 L408.36,665.79 L413.66,665.15 L418.95,664.48 L424.24,663.78 L429.54,663.04 L434.83,662.27 L440.12,661.46 L445.42,660.62 L450.71,659.72 L456.01,658.78 L461.3,657.79 L466.59,656.74 L471.89,655.63 L477.18,654.46 L482.47,653.22 L487.77,651.9 L493.06,650.5 L498.36,649.01 L503.65,647.43 L508.94,645.74 L514.24,643.95 L519.53,642.04 L524.82,640.01 L530.12,637.83 L535.41,635.52 L540.71,633.05 L546,630.41" fill="none" stroke="#111" stroke-width="1.5"/>
<path d="M216.26,680.85 L221.03,680.65 L225.81,680.45 L230.58,680.25 L235.36,680.04 L240.13,679.82 L244.91,679.6 L249.68,679.37 L254.46,679.13 L259.23,678.89 L264.01,678.64 L268.78,678.39 L273.56,678.13 L278.33,677.86 L283.11,677.58 L287.88,677.3 L292.66,677.01 L297.43,676.71 L302.21,676.41 L306.98,676.09 L311.76,675.77 L316.53,675.44 L321.31,675.09 L326.08,674.74 L330.86,674.38 L335.63,674 L340.41,673.61 L345.18,673.21 L349.96,672.79 L354.73,672.36 L359.51,671.92 L364.28,671.45 L369.06,670.97 L373.83,670.47 L378.61,669.95 L383.38,669.4 L388.16,668.83 L392.93,668.23 L397.71,667.61 L402.48,666.95 L407.26,666.26 L412.03,665.53 L416.81,664.77 L421.58,663.96 L426.36,663.11 L431.13,662.21 L435.91,661.25 L440.68,660.24 L445.46,659.17 L450.23,658.03 L455.01,656.82 L459.78,655.53 L464.56,654.16 L469.33,652.7 L474.11,651.15 L478.88,649.49 L483.66,647.73 L488.43,645.84 L493.21,643.83 L497.98,641.68" fill="none" stroke="#111" stroke-width="1.5"/>
<path d="M199.38,682.85 L203.65,682.7 L207.92,682.54 L212.19,682.37 L216.47,682.21 L220.74,682.03 L225.01,681.85 L229.28,681.67 L233.55,681.48 L237.83,681.29 L242.1,681.09 L246.37,680.89 L250.64,680.68 L254.92,680.46 L259.19,680.24 L263.46,680.02 L267.73,679.78 L272,679.54 L276.28,679.3 L280.55,679.05 L284.82,678.79 L289.09,678.52 L293.36,678.25 L297.64,677.96 L301.91,677.67 L306.18,677.37 L310.45,677.06 L314.72,676.74 L319,676.41 L323.27,676.06 L327.54,675.71 L331.81,675.34 L336.08,674.95 L340.36,674.55 L344.63,674.13 L348.9,673.69 L353.17,673.24 L357.44,672.76 L361.72,672.26 L365.99,671.73 L370.26,671.18 L374.53,670.6 L378.8,669.98 L383.08,669.34 L387.35,668.65 L391.62,667.93 L395.89,667.17 L400.17,666.36 L404.44,665.5 L408.71,664.59 L412.98,663.62 L417.25,662.59 L421.53,661.49 L425.8,660.32 L430.07,659.08 L434.34,657.75 L438.61,656.34 L442.89,654.83 L447.16,653.22 L451.43,651.5" fill="none" stroke="#111" stroke-width="1.5"/>
<path d="M182.14,684.67 L185.9,684.55 L189.66,684.43 L193.42,684.3 L197.18,684.17 L200.94,684.04 L204.7,683.9 L208.45,683.76 L212.21,683.61 L215.97,683.46 L219.73,683.31 L223.49,683.15 L227.25,682.99 L231.01,682.82 L234.76,682.65 L238.52,682.47 L242.28,682.29 L246.04,682.11 L249.8,681.92 L253.56,681.73 L257.32,681.52 L261.07,681.32 L264.83,681.11 L268.59,680.89 L272.35,680.66 L276.11,680.43 L279.87,680.19 L283.63,679.94 L287.38,679.68 L291.14,679.42 L294.9,679.14 L298.66,678.85 L302.42,678.55 L306.18,678.24 L309.94,677.92 L313.69,677.58 L317.45,677.23 L321.21,676.86 L324.97,676.47 L328.73,676.06 L332.49,675.63 L336.25,675.18 L340,674.71 L343.76,674.21 L347.52,673.68 L351.28,673.12 L355.04,672.53 L358.8,671.9 L362.56,671.24 L366.31,670.53 L370.07,669.78 L373.83,668.99 L377.59,668.14 L381.35,667.23 L385.11,666.27 L388.87,665.24 L392.62,664.15 L396.38,662.98 L400.14,661.74 L403.9,660.4" fill="none" stroke="#111" stroke-width="1.5"/>
<path d="M164.38,686.3 L167.61,686.21 L170.84,686.12 L174.07,686.03 L177.29,685.93 L180.52,685.83 L183.75,685.73 L186.98,685.63 L190.21,685.52 L193.44,685.41 L196.67,685.29 L199.9,685.18 L203.13,685.06 L206.36,684.94 L209.59,684.81 L212.82,684.68 L216.04,684.55 L219.27,684.41 L222.5,684.27 L225.73,684.13 L228.96,683.98 L232.19,683.83 L235.42,683.67 L238.65,683.51 L241.88,683.34 L245.11,683.17 L248.34,682.99 L251.57,682.81 L254.79,682.62 L258.02,682.42 L261.25,682.22 L264.48,682.01 L267.71,681.79 L270.94,681.56 L274.17,681.32 L277.4,681.07 L280.63,680.81 L283.86,680.53 L287.09,680.25 L290.32,679.95 L293.55,679.63 L296.77,679.3 L300,678.95 L303.23,678.58 L306.46,678.19 L309.69,677.78 L312.92,677.34 L316.15,676.88 L319.38,676.39 L322.61,675.87 L325.84,675.31 L329.07,674.72 L332.3,674.1 L335.52,673.43 L338.75,672.72 L341.98,671.96 L345.21,671.15 L348.44,670.29 L351.67,669.37 L354.9,668.39" fill="none" stroke="#111" stroke-width="1.5"/>
<path d="M146.79,687.67 L149.49,687.61 L152.2,687.55 L154.9,687.48 L157.61,687.41 L160.31,687.34 L163.02,687.27 L165.72,687.2 L168.43,687.12 L171.13,687.05 L173.84,686.97 L176.54,686.88 L179.25,686.8 L181.95,686.71 L184.66,686.63 L187.37,686.54 L190.07,686.44 L192.78,686.35 L195.48,686.25 L198.19,686.15 L200.89,686.04 L203.6,685.94 L206.3,685.83 L209.01,685.71 L211.71,685.6 L214.42,685.48 L217.12,685.35 L219.83,685.22 L222.53,685.09 L225.24,684.95 L227.94,684.81 L230.65,684.66 L233.35,684.5 L236.06,684.34 L238.76,684.18 L241.47,684 L244.17,683.82 L246.88,683.63 L249.58,683.42 L252.29,683.21 L254.99,682.99 L257.7,682.76 L260.4,682.51 L263.11,682.25 L265.81,681.98 L268.52,681.69 L271.22,681.38 L273.93,681.06 L276.63,680.72 L279.34,680.35 L282.04,679.96 L284.75,679.55 L287.45,679.11 L290.16,678.64 L292.86,678.14 L295.57,677.61 L298.27,677.04 L300.98,676.44 L303.68,675.79 L306.39,675.1" fill="none" stroke="#111" stroke-width="1.5"/>
<path d="M129.02,688.81 L131.2,688.77 L133.37,688.73 L135.55,688.69 L137.72,688.64 L139.9,688.6 L142.08,688.55 L144.25,688.51 L146.43,688.46 L148.6,688.41 L150.78,688.36 L152.95,688.3 L155.13,688.25 L157.31,688.19 L159.48,688.14 L161.66,688.08 L163.83,688.02 L166.01,687.95 L168.18,687.89 L170.36,687.83 L172.54,687.76 L174.71,687.69 L176.89,687.62 L179.06,687.54 L181.24,687.47 L183.41,687.39 L185.59,687.31 L187.77,687.23 L189.94,687.14 L192.12,687.05 L194.29,686.96 L196.47,686.86 L198.65,686.76 L200.82,686.66 L203,686.55 L205.17,686.44 L207.35,686.32 L209.52,686.19 L211.7,686.06 L213.88,685.93 L216.05,685.78 L218.23,685.63 L220.4,685.47 L222.58,685.31 L224.75,685.13 L226.93,684.94 L229.11,684.74 L231.28,684.53 L233.46,684.31 L235.63,684.07 L237.81,683.82 L239.98,683.56 L242.16,683.27 L244.34,682.97 L246.51,682.65 L248.69,682.3 L250.86,681.94 L253.04,681.54 L255.21,681.13 L257.39,680.68" fill="none" stroke="#111" stroke-width="1.5"/>
<path d="M102.02,690.07 L103.39,690.06 L104.76,690.04 L106.13,690.02 L107.5,690 L108.87,689.99 L110.24,689.97 L111.61,689.95 L112.98,689.93 L114.36,689.91 L115.73,689.89 L117.1,689.87 L118.47,689.85 L119.84,689.82 L121.21,689.8 L122.58,689.78 L123.95,689.75 L125.32,689.73 L126.7,689.71 L128.07,689.68 L129.44,689.65 L130.81,689.62 L132.18,689.6 L133.55,689.57 L134.92,689.54 L136.29,689.51 L137.66,689.47 L139.04,689.44 L140.41,689.41 L141.78,689.37 L143.15,689.33 L144.52,689.3 L145.89,689.26 L147.26,689.22 L148.63,689.17 L150,689.13 L151.38,689.08 L152.75,689.03 L154.12,688.98 L155.49,688.93 L156.86,688.87 L158.23,688.81 L159.6,688.75 L160.97,688.68 L162.34,688.61 L163.71,688.53 L165.09,688.46 L166.46,688.37 L167.83,688.28 L169.2,688.19 L170.57,688.09 L171.94,687.98 L173.31,687.87 L174.68,687.75 L176.05,687.62 L177.43,687.49 L178.8,687.34 L180.17,687.18 L181.54,687.02 L182.91,686.84" fill="none" stroke="#111" stroke-width="1.5"/>
<path d="M86.56,690.53 L87.47,690.53 L88.38,690.52 L89.29,690.51 L90.2,690.51 L91.11,690.5 L92.02,690.49 L92.93,690.48 L93.84,690.47 L94.75,690.46 L95.66,690.45 L96.57,690.45 L97.49,690.44 L98.4,690.43 L99.31,690.42 L100.22,690.41 L101.13,690.39 L102.04,690.38 L102.95,690.37 L103.86,690.36 L104.77,690.35 L105.68,690.34 L106.59,690.33 L107.5,690.31 L108.41,690.3 L109.32,690.29 L110.23,690.27 L111.14,690.26 L112.05,690.24 L112.96,690.23 L113.87,690.21 L114.79,690.19 L115.7,690.18 L116.61,690.16 L117.52,690.14 L118.43,690.12 L119.34,690.1 L120.25,690.08 L121.16,690.05 L122.07,690.03 L122.98,690 L123.89,689.98 L124.8,689.95 L125.71,689.92 L126.62,689.89 L127.53,689.86 L128.44,689.82 L129.35,689.79 L130.26,689.75 L131.17,689.7 L132.09,689.66 L133,689.61 L133.91,689.56 L134.82,689.51 L135.73,689.45 L136.64,689.39 L137.55,689.33 L138.46,689.26 L139.37,689.19 L140.28,689.11" fill="none" stroke="#111" stroke-width="1.5"/>
<path d="M64.58,682.31 L65.18,682.29 L65.79,682.26 L66.4,682.24 L67,682.21 L67.61,682.19 L68.22,682.16 L68.83,682.13 L69.43,682.1 L70.04,682.06 L70.65,682.03 L71.26,681.99 L71.86,681.96 L72.47,681.92 L73.08,681.88 L73.69,681.83 L74.29,681.79 L74.9,681.75 L75.51,681.7 L76.12,681.65 L76.72,681.6 L77.33,681.55 L77.94,681.5 L78.55,681.45 L79.15,681.39 L79.76,681.34 L80.37,681.28 L80.98,681.22 L81.58,681.16 L82.19,681.09 L82.8,681.03 L83.41,680.97 L84.01,680.9 L84.62,680.83 L85.23,680.76 L85.84,680.69 L86.44,680.62 L87.05,680.54 L87.66,680.47 L88.27,680.39 L88.87,680.31 L89.48,680.23 L90.09,680.15 L90.7,680.07 L91.3,679.98 L91.91,679.9 L92.52,679.81 L93.13,679.72 L93.73,679.63 L94.34,679.54 L94.95,679.45 L95.56,679.35 L96.16,679.26 L96.77,679.16 L97.38,679.06 L97.99,678.96 L98.59,678.86 L99.2,678.75 L99.81,678.65 L100.42,678.54" fill="none" stroke="#111" stroke-width="0.8"/>
<path d="M100.42,678.54 L101.74,678.3 L103.06,678.06 L104.39,677.81 L105.71,677.55 L107.03,677.28 L108.36,677.01 L109.68,676.73 L111,676.44 L112.33,676.14 L113.65,675.84 L114.97,675.52 L116.3,675.2 L117.62,674.87 L118.95,674.53 L120.27,674.19 L121.59,673.83 L122.92,673.46 L124.24,673.09 L125.56,672.7 L126.89,672.3 L128.21,671.89 L129.53,671.47 L130.86,671.04 L132.18,670.59 L133.5,670.13 L134.83,669.65 L136.15,669.16 L137.47,668.65 L138.8,668.12 L140.12,667.57 L141.44,667 L142.77,666.41 L144.09,665.79 L145.41,665.15 L146.74,664.48 L148.06,663.78 L149.38,663.04 L150.71,662.27 L152.03,661.46 L153.35,660.62 L154.68,659.72 L156,658.78 L157.32,657.79 L158.65,656.74 L159.97,655.63 L161.3,654.46 L162.62,653.22 L163.94,651.9 L165.27,650.5 L166.59,649.01 L167.91,647.43 L169.24,645.74 L170.56,643.95 L171.88,642.04 L173.21,640.01 L174.53,637.83 L175.85,635.52 L177.18,633.05 L178.5,630.41" fill="none" stroke="#111" stroke-width="1.5"/>
<path d="M73.15,682.31 L74.36,682.29 L75.58,682.26 L76.79,682.24 L78.01,682.21 L79.22,682.19 L80.44,682.16 L81.65,682.13 L82.87,682.1 L84.08,682.06 L85.3,682.03 L86.51,681.99 L87.73,681.96 L88.94,681.92 L90.16,681.88 L91.37,681.83 L92.59,681.79 L93.8,681.75 L95.02,681.7 L96.23,681.65 L97.45,681.6 L98.66,681.55 L99.88,681.5 L101.09,681.45 L102.31,681.39 L103.52,681.34 L104.74,681.28 L105.95,681.22 L107.17,681.16 L108.38,681.09 L109.6,681.03 L110.81,680.97 L112.03,680.9 L113.24,680.83 L114.46,680.76 L115.67,680.69 L116.89,680.62 L118.1,680.54 L119.32,680.47 L120.53,680.39 L121.75,680.31 L122.96,680.23 L124.18,680.15 L125.39,680.07 L126.61,679.98 L127.82,679.9 L129.04,679.81 L130.25,679.72 L131.47,679.63 L132.68,679.54 L133.9,679.45 L135.11,679.35 L136.33,679.26 L137.54,679.16 L138.76,679.06 L139.97,678.96 L141.19,678.86 L142.4,678.75 L143.62,678.65 L144.83,678.54" fill="none" stroke="#111" stroke-width="0.8"/>
<path d="M144.83,678.54 L147.48,678.3 L150.13,678.06 L152.77,677.81 L155.42,677.55 L158.07,677.28 L160.72,677.01 L163.36,676.73 L166.01,676.44 L168.66,676.14 L171.3,675.84 L173.95,675.52 L176.6,675.2 L179.24,674.87 L181.89,674.53 L184.54,674.19 L187.18,673.83 L189.83,673.46 L192.48,673.09 L195.12,672.7 L197.77,672.3 L200.42,671.89 L203.07,671.47 L205.71,671.04 L208.36,670.59 L211.01,670.13 L213.65,669.65 L216.3,669.16 L218.95,668.65 L221.59,668.12 L224.24,667.57 L226.89,667 L229.53,666.41 L232.18,665.79 L234.83,665.15 L237.47,664.48 L240.12,663.78 L242.77,663.04 L245.42,662.27 L248.06,661.46 L250.71,660.62 L253.36,659.72 L256,658.78 L258.65,657.79 L261.3,656.74 L263.94,655.63 L266.59,654.46 L269.24,653.22 L271.88,651.9 L274.53,650.5 L277.18,649.01 L279.82,647.43 L282.47,645.74 L285.12,643.95 L287.77,642.04 L290.41,640.01 L293.06,637.83 L295.71,635.52 L298.35,633.05 L301,630.41" fill="none" stroke="#111" stroke-width="1.5"/>
<path d="M81.72,682.31 L83.55,682.29 L85.37,682.26 L87.19,682.24 L89.01,682.21 L90.84,682.19 L92.66,682.16 L94.48,682.13 L96.3,682.1 L98.13,682.06 L99.95,682.03 L101.77,681.99 L103.59,681.96 L105.42,681.92 L107.24,681.88 L109.06,681.83 L110.88,681.79 L112.71,681.75 L114.53,681.7 L116.35,681.65 L118.17,681.6 L120,681.55 L121.82,681.5 L123.64,681.45 L125.46,681.39 L127.29,681.34 L129.11,681.28 L130.93,681.22 L132.75,681.16 L134.58,681.09 L136.4,681.03 L138.22,680.97 L140.04,680.9 L141.87,680.83 L143.69,680.76 L145.51,680.69 L147.33,680.62 L149.16,680.54 L150.98,680.47 L152.8,680.39 L154.62,680.31 L156.45,680.23 L158.27,680.15 L160.09,680.07 L161.91,679.98 L163.74,679.9 L165.56,679.81 L167.38,679.72 L169.2,679.63 L171.03,679.54 L172.85,679.45 L174.67,679.35 L176.49,679.26 L178.32,679.16 L180.14,679.06 L181.96,678.96 L183.78,678.86 L185.61,678.75 L187.43,678.65 L189.25,678.54" fill="none" stroke="#111" stroke-width="0.8"/>
<path d="M189.25,678.54 L193.22,678.3 L197.19,678.06 L201.16,677.81 L205.13,677.55 L209.1,677.28 L213.07,677.01 L217.04,676.73 L221.01,676.44 L224.98,676.14 L228.95,675.84 L232.92,675.52 L236.89,675.2 L240.87,674.87 L244.84,674.53 L248.81,674.19 L252.78,673.83 L256.75,673.46 L260.72,673.09 L264.69,672.7 L268.66,672.3 L272.63,671.89 L276.6,671.47 L280.57,671.04 L284.54,670.59 L288.51,670.13 L292.48,669.65 L296.45,669.16 L300.42,668.65 L304.39,668.12 L308.36,667.57 L312.33,667 L316.3,666.41 L320.27,665.79 L324.24,665.15 L328.21,664.48 L332.18,663.78 L336.15,663.04 L340.12,662.27 L344.09,661.46 L348.06,660.62 L352.03,659.72 L356,658.78 L359.97,657.79 L363.95,656.74 L367.92,655.63 L371.89,654.46 L375.86,653.22 L379.83,651.9 L383.8,650.5 L387.77,649.01 L391.74,647.43 L395.71,645.74 L399.68,643.95 L403.65,642.04 L407.62,640.01 L411.59,637.83 L415.56,635.52 L419.53,633.05 L423.5,630.41" fill="none" stroke="#111" stroke-width="1.5"/>
<path d="M56,628.63 L59.01,628.15 L62.02,627.64 L65.03,627.12 L68.05,626.57 L71.06,626 L74.07,625.41 L77.08,624.81 L80.09,624.18 L83.1,623.54 L86.11,622.88 L89.12,622.2 L92.14,621.51 L95.15,620.8 L98.16,620.08 L101.17,619.34 L104.18,618.59 L107.19,617.82 L110.2,617.04 L113.22,616.25 L116.23,615.45 L119.24,614.64 L122.25,613.81 L125.26,612.98 L128.27,612.13 L131.28,611.28 L134.29,610.42 L137.31,609.55 L140.32,608.67 L143.33,607.79 L146.34,606.89 L149.35,606 L152.36,605.09 L155.37,604.18 L158.39,603.27 L161.4,602.35 L164.41,601.42 L167.42,600.5 L170.43,599.57 L173.44,598.63 L176.45,597.7 L179.46,596.76 L182.48,595.82 L185.49,594.88 L188.5,593.93 L191.51,592.99 L194.52,592.05 L197.53,591.11 L200.54,590.16 L203.55,589.22 L206.57,588.28 L209.58,587.34 L212.59,586.4 L215.6,585.47 L218.61,584.53 L221.62,583.6 L224.63,582.67 L227.65,581.75 L230.66,580.83 L233.67,579.91" fill="none" stroke="#4a6488" stroke-width="0.9"/><path d="M56,628.63 L59.01,628.15 L62.02,627.64 L65.03,627.12 L68.05,626.57 L71.06,626 L74.07,625.41 L77.08,624.81 L80.09,624.18 L83.1,623.54 L86.11,622.88 L89.12,622.2 L92.14,621.51 L95.15,620.8 L98.16,620.08 L101.17,619.34 L104.18,618.59 L107.19,617.82 L110.2,617.04 L113.22,616.25 L116.23,615.45 L119.24,614.64 L122.25,613.81 L125.26,612.98 L128.27,612.13 L131.28,611.28 L134.29,610.42 L137.31,609.55 L140.32,608.67 L143.33,607.79 L146.34,606.89 L149.35,606 L152.36,605.09 L155.37,604.18 L158.39,603.27 L161.4,602.35 L164.41,601.42 L167.42,600.5 L170.43,599.57 L173.44,598.63 L176.45,597.7 L179.46,596.76 L182.48,595.82 L185.49,594.88 L188.5,593.93 L191.51,592.99 L194.52,592.05 L197.53,591.11 L200.54,590.16 L203.55,589.22 L206.57,588.28 L209.58,587.34 L212.59,586.4 L215.6,585.47 L218.61,584.53 L221.62,583.6 L224.63,582.67 L227.65,581.75 L230.66,580.83 L233.67,579.91" fill="none" stroke="#1f4e85" stroke-width="1.1" stroke-dasharray="2.5 9"/>
<path d="M233.67,579.91 L238.96,578.31 L244.26,576.72 L249.55,575.14 L254.84,573.58 L260.14,572.04 L265.43,570.52 L270.72,569.02 L276.02,567.54 L281.31,566.08 L286.61,564.64 L291.9,563.22 L297.19,561.83 L302.49,560.47 L307.78,559.13 L313.07,557.81 L318.37,556.53 L323.66,555.26 L328.96,554.03 L334.25,552.82 L339.54,551.64 L344.84,550.49 L350.13,549.37 L355.42,548.27 L360.72,547.21 L366.01,546.17 L371.31,545.15 L376.6,544.17 L381.89,543.21 L387.19,542.28 L392.48,541.38 L397.77,540.5 L403.07,539.64 L408.36,538.82 L413.66,538.01 L418.95,537.23 L424.24,536.47 L429.54,535.74 L434.83,535.02 L440.12,534.32 L445.42,533.65 L450.71,532.99 L456.01,532.35 L461.3,531.72 L466.59,531.1 L471.89,530.5 L477.18,529.91 L482.47,529.33 L487.77,528.76 L493.06,528.19 L498.36,527.63 L503.65,527.08 L508.94,526.52 L514.24,525.96 L519.53,525.4 L524.82,524.84 L530.12,524.26 L535.41,523.68 L540.71,523.09 L546,522.49" fill="none" stroke="#1f4e85" stroke-width="1.7"/>
<path d="M56,634.98 L59.01,634.45 L62.02,633.9 L65.03,633.33 L68.05,632.75 L71.06,632.16 L74.07,631.55 L77.08,630.93 L80.09,630.29 L83.1,629.64 L86.11,628.97 L89.12,628.3 L92.14,627.61 L95.15,626.91 L98.16,626.2 L101.17,625.47 L104.18,624.74 L107.19,624 L110.2,623.24 L113.22,622.48 L116.23,621.71 L119.24,620.92 L122.25,620.13 L125.26,619.33 L128.27,618.53 L131.28,617.71 L134.29,616.89 L137.31,616.07 L140.32,615.24 L143.33,614.4 L146.34,613.55 L149.35,612.7 L152.36,611.85 L155.37,610.99 L158.39,610.13 L161.4,609.27 L164.41,608.4 L167.42,607.53 L170.43,606.65 L173.44,605.78 L176.45,604.9 L179.46,604.02 L182.48,603.14 L185.49,602.26 L188.5,601.38 L191.51,600.5 L194.52,599.62 L197.53,598.74 L200.54,597.86 L203.55,596.98 L206.57,596.1 L209.58,595.23 L212.59,594.35 L215.6,593.48 L218.61,592.61 L221.62,591.75 L224.63,590.88 L227.65,590.02 L230.66,589.17 L233.67,588.31" fill="none" stroke="#4a6488" stroke-width="0.7"/><path d="M56,634.98 L59.01,634.45 L62.02,633.9 L65.03,633.33 L68.05,632.75 L71.06,632.16 L74.07,631.55 L77.08,630.93 L80.09,630.29 L83.1,629.64 L86.11,628.97 L89.12,628.3 L92.14,627.61 L95.15,626.91 L98.16,626.2 L101.17,625.47 L104.18,624.74 L107.19,624 L110.2,623.24 L113.22,622.48 L116.23,621.71 L119.24,620.92 L122.25,620.13 L125.26,619.33 L128.27,618.53 L131.28,617.71 L134.29,616.89 L137.31,616.07 L140.32,615.24 L143.33,614.4 L146.34,613.55 L149.35,612.7 L152.36,611.85 L155.37,610.99 L158.39,610.13 L161.4,609.27 L164.41,608.4 L167.42,607.53 L170.43,606.65 L173.44,605.78 L176.45,604.9 L179.46,604.02 L182.48,603.14 L185.49,602.26 L188.5,601.38 L191.51,600.5 L194.52,599.62 L197.53,598.74 L200.54,597.86 L203.55,596.98 L206.57,596.1 L209.58,595.23 L212.59,594.35 L215.6,593.48 L218.61,592.61 L221.62,591.75 L224.63,590.88 L227.65,590.02 L230.66,589.17 L233.67,588.31" fill="none" stroke="#1f4e85" stroke-width="0.8999999999999999" stroke-dasharray="2.5 9"/>
<path d="M233.67,588.31 L238.96,586.82 L244.26,585.35 L249.55,583.88 L254.84,582.44 L260.14,581.01 L265.43,579.59 L270.72,578.2 L276.02,576.83 L281.31,575.47 L286.61,574.14 L291.9,572.83 L297.19,571.54 L302.49,570.27 L307.78,569.03 L313.07,567.81 L318.37,566.62 L323.66,565.45 L328.96,564.31 L334.25,563.19 L339.54,562.1 L344.84,561.03 L350.13,559.99 L355.42,558.98 L360.72,557.99 L366.01,557.03 L371.31,556.09 L376.6,555.18 L381.89,554.29 L387.19,553.43 L392.48,552.59 L397.77,551.78 L403.07,550.99 L408.36,550.23 L413.66,549.48 L418.95,548.76 L424.24,548.06 L429.54,547.38 L434.83,546.71 L440.12,546.07 L445.42,545.44 L450.71,544.83 L456.01,544.24 L461.3,543.66 L466.59,543.09 L471.89,542.53 L477.18,541.99 L482.47,541.45 L487.77,540.92 L493.06,540.4 L498.36,539.88 L503.65,539.36 L508.94,538.85 L514.24,538.33 L519.53,537.81 L524.82,537.29 L530.12,536.76 L535.41,536.23 L540.71,535.68 L546,535.12" fill="none" stroke="#1f4e85" stroke-width="0.9"/>
<path d="M56,644.9 L58.72,644.55 L61.43,644.17 L64.15,643.79 L66.86,643.38 L69.58,642.96 L72.3,642.53 L75.01,642.08 L77.73,641.62 L80.45,641.14 L83.16,640.66 L85.88,640.16 L88.59,639.65 L91.31,639.12 L94.03,638.59 L96.74,638.04 L99.46,637.49 L102.18,636.92 L104.89,636.35 L107.61,635.76 L110.32,635.17 L113.04,634.57 L115.76,633.96 L118.47,633.34 L121.19,632.72 L123.91,632.09 L126.62,631.45 L129.34,630.81 L132.05,630.16 L134.77,629.51 L137.49,628.85 L140.2,628.19 L142.92,627.52 L145.64,626.85 L148.35,626.17 L151.07,625.49 L153.78,624.81 L156.5,624.12 L159.22,623.44 L161.93,622.75 L164.65,622.06 L167.36,621.36 L170.08,620.67 L172.8,619.97 L175.51,619.28 L178.23,618.58 L180.95,617.88 L183.66,617.19 L186.38,616.49 L189.09,615.79 L191.81,615.1 L194.53,614.41 L197.24,613.71 L199.96,613.02 L202.68,612.33 L205.39,611.64 L208.11,610.96 L210.82,610.28 L213.54,609.6 L216.26,608.92" fill="none" stroke="#4a6488" stroke-width="0.9"/><path d="M56,644.9 L58.72,644.55 L61.43,644.17 L64.15,643.79 L66.86,643.38 L69.58,642.96 L72.3,642.53 L75.01,642.08 L77.73,641.62 L80.45,641.14 L83.16,640.66 L85.88,640.16 L88.59,639.65 L91.31,639.12 L94.03,638.59 L96.74,638.04 L99.46,637.49 L102.18,636.92 L104.89,636.35 L107.61,635.76 L110.32,635.17 L113.04,634.57 L115.76,633.96 L118.47,633.34 L121.19,632.72 L123.91,632.09 L126.62,631.45 L129.34,630.81 L132.05,630.16 L134.77,629.51 L137.49,628.85 L140.2,628.19 L142.92,627.52 L145.64,626.85 L148.35,626.17 L151.07,625.49 L153.78,624.81 L156.5,624.12 L159.22,623.44 L161.93,622.75 L164.65,622.06 L167.36,621.36 L170.08,620.67 L172.8,619.97 L175.51,619.28 L178.23,618.58 L180.95,617.88 L183.66,617.19 L186.38,616.49 L189.09,615.79 L191.81,615.1 L194.53,614.41 L197.24,613.71 L199.96,613.02 L202.68,612.33 L205.39,611.64 L208.11,610.96 L210.82,610.28 L213.54,609.6 L216.26,608.92" fill="none" stroke="#1f4e85" stroke-width="1.1" stroke-dasharray="2.5 9"/>
<path d="M216.26,608.92 L221.03,607.73 L225.81,606.56 L230.58,605.4 L235.36,604.25 L240.13,603.11 L244.91,601.98 L249.68,600.87 L254.46,599.78 L259.23,598.7 L264.01,597.64 L268.78,596.59 L273.56,595.57 L278.33,594.56 L283.11,593.57 L287.88,592.6 L292.66,591.64 L297.43,590.71 L302.21,589.8 L306.98,588.91 L311.76,588.04 L316.53,587.19 L321.31,586.36 L326.08,585.55 L330.86,584.76 L335.63,583.99 L340.41,583.24 L345.18,582.52 L349.96,581.81 L354.73,581.12 L359.51,580.45 L364.28,579.81 L369.06,579.18 L373.83,578.56 L378.61,577.97 L383.38,577.39 L388.16,576.83 L392.93,576.29 L397.71,575.76 L402.48,575.25 L407.26,574.75 L412.03,574.26 L416.81,573.78 L421.58,573.32 L426.36,572.87 L431.13,572.42 L435.91,571.99 L440.68,571.56 L445.46,571.14 L450.23,570.72 L455.01,570.3 L459.78,569.89 L464.56,569.48 L469.33,569.07 L474.11,568.65 L478.88,568.24 L483.66,567.82 L488.43,567.39 L493.21,566.95 L497.98,566.5" fill="none" stroke="#1f4e85" stroke-width="1.7"/>
<path d="M56,649.59 L58.72,649.2 L61.43,648.79 L64.15,648.38 L66.86,647.95 L69.58,647.51 L72.3,647.06 L75.01,646.6 L77.73,646.13 L80.45,645.65 L83.16,645.16 L85.88,644.66 L88.59,644.15 L91.31,643.63 L94.03,643.11 L96.74,642.57 L99.46,642.03 L102.18,641.48 L104.89,640.92 L107.61,640.36 L110.32,639.79 L113.04,639.21 L115.76,638.63 L118.47,638.04 L121.19,637.44 L123.91,636.84 L126.62,636.24 L129.34,635.63 L132.05,635.01 L134.77,634.39 L137.49,633.77 L140.2,633.14 L142.92,632.51 L145.64,631.88 L148.35,631.24 L151.07,630.6 L153.78,629.96 L156.5,629.32 L159.22,628.67 L161.93,628.03 L164.65,627.38 L167.36,626.73 L170.08,626.08 L172.8,625.43 L175.51,624.78 L178.23,624.13 L180.95,623.48 L183.66,622.83 L186.38,622.18 L189.09,621.53 L191.81,620.88 L194.53,620.23 L197.24,619.59 L199.96,618.94 L202.68,618.3 L205.39,617.66 L208.11,617.02 L210.82,616.39 L213.54,615.76 L216.26,615.13" fill="none" stroke="#4a6488" stroke-width="0.7"/><path d="M56,649.59 L58.72,649.2 L61.43,648.79 L64.15,648.38 L66.86,647.95 L69.58,647.51 L72.3,647.06 L75.01,646.6 L77.73,646.13 L80.45,645.65 L83.16,645.16 L85.88,644.66 L88.59,644.15 L91.31,643.63 L94.03,643.11 L96.74,642.57 L99.46,642.03 L102.18,641.48 L104.89,640.92 L107.61,640.36 L110.32,639.79 L113.04,639.21 L115.76,638.63 L118.47,638.04 L121.19,637.44 L123.91,636.84 L126.62,636.24 L129.34,635.63 L132.05,635.01 L134.77,634.39 L137.49,633.77 L140.2,633.14 L142.92,632.51 L145.64,631.88 L148.35,631.24 L151.07,630.6 L153.78,629.96 L156.5,629.32 L159.22,628.67 L161.93,628.03 L164.65,627.38 L167.36,626.73 L170.08,626.08 L172.8,625.43 L175.51,624.78 L178.23,624.13 L180.95,623.48 L183.66,622.83 L186.38,622.18 L189.09,621.53 L191.81,620.88 L194.53,620.23 L197.24,619.59 L199.96,618.94 L202.68,618.3 L205.39,617.66 L208.11,617.02 L210.82,616.39 L213.54,615.76 L216.26,615.13" fill="none" stroke="#1f4e85" stroke-width="0.8999999999999999" stroke-dasharray="2.5 9"/>
<path d="M216.26,615.13 L221.03,614.02 L225.81,612.93 L230.58,611.85 L235.36,610.78 L240.13,609.73 L244.91,608.68 L249.68,607.66 L254.46,606.64 L259.23,605.64 L264.01,604.66 L268.78,603.69 L273.56,602.74 L278.33,601.8 L283.11,600.88 L287.88,599.98 L292.66,599.1 L297.43,598.24 L302.21,597.39 L306.98,596.57 L311.76,595.76 L316.53,594.97 L321.31,594.21 L326.08,593.46 L330.86,592.73 L335.63,592.02 L340.41,591.32 L345.18,590.65 L349.96,590 L354.73,589.36 L359.51,588.74 L364.28,588.14 L369.06,587.56 L373.83,586.99 L378.61,586.44 L383.38,585.91 L388.16,585.39 L392.93,584.89 L397.71,584.4 L402.48,583.92 L407.26,583.46 L412.03,583.01 L416.81,582.57 L421.58,582.14 L426.36,581.72 L431.13,581.31 L435.91,580.91 L440.68,580.51 L445.46,580.12 L450.23,579.73 L455.01,579.35 L459.78,578.97 L464.56,578.59 L469.33,578.21 L474.11,577.82 L478.88,577.44 L483.66,577.05 L488.43,576.65 L493.21,576.25 L497.98,575.83" fill="none" stroke="#1f4e85" stroke-width="0.9"/>
<path d="M56,657.78 L58.43,657.52 L60.86,657.25 L63.29,656.98 L65.72,656.68 L68.15,656.38 L70.58,656.07 L73.01,655.75 L75.44,655.42 L77.87,655.07 L80.3,654.72 L82.73,654.36 L85.16,653.99 L87.59,653.62 L90.02,653.23 L92.45,652.84 L94.88,652.44 L97.31,652.03 L99.74,651.62 L102.17,651.2 L104.6,650.77 L107.03,650.34 L109.46,649.9 L111.89,649.46 L114.32,649.01 L116.75,648.55 L119.18,648.1 L121.61,647.63 L124.04,647.17 L126.47,646.69 L128.9,646.22 L131.33,645.74 L133.76,645.26 L136.19,644.78 L138.62,644.29 L141.05,643.8 L143.48,643.31 L145.92,642.82 L148.35,642.32 L150.78,641.83 L153.21,641.33 L155.64,640.83 L158.07,640.33 L160.5,639.83 L162.93,639.33 L165.36,638.83 L167.79,638.32 L170.22,637.82 L172.65,637.32 L175.08,636.82 L177.51,636.32 L179.94,635.82 L182.37,635.32 L184.8,634.82 L187.23,634.33 L189.66,633.83 L192.09,633.34 L194.52,632.85 L196.95,632.36 L199.38,631.87" fill="none" stroke="#4a6488" stroke-width="0.9"/><path d="M56,657.78 L58.43,657.52 L60.86,657.25 L63.29,656.98 L65.72,656.68 L68.15,656.38 L70.58,656.07 L73.01,655.75 L75.44,655.42 L77.87,655.07 L80.3,654.72 L82.73,654.36 L85.16,653.99 L87.59,653.62 L90.02,653.23 L92.45,652.84 L94.88,652.44 L97.31,652.03 L99.74,651.62 L102.17,651.2 L104.6,650.77 L107.03,650.34 L109.46,649.9 L111.89,649.46 L114.32,649.01 L116.75,648.55 L119.18,648.1 L121.61,647.63 L124.04,647.17 L126.47,646.69 L128.9,646.22 L131.33,645.74 L133.76,645.26 L136.19,644.78 L138.62,644.29 L141.05,643.8 L143.48,643.31 L145.92,642.82 L148.35,642.32 L150.78,641.83 L153.21,641.33 L155.64,640.83 L158.07,640.33 L160.5,639.83 L162.93,639.33 L165.36,638.83 L167.79,638.32 L170.22,637.82 L172.65,637.32 L175.08,636.82 L177.51,636.32 L179.94,635.82 L182.37,635.32 L184.8,634.82 L187.23,634.33 L189.66,633.83 L192.09,633.34 L194.52,632.85 L196.95,632.36 L199.38,631.87" fill="none" stroke="#1f4e85" stroke-width="1.1" stroke-dasharray="2.5 9"/>
<path d="M199.38,631.87 L203.65,631.02 L207.92,630.17 L212.19,629.33 L216.47,628.5 L220.74,627.68 L225.01,626.88 L229.28,626.08 L233.55,625.29 L237.83,624.51 L242.1,623.75 L246.37,622.99 L250.64,622.25 L254.92,621.53 L259.19,620.82 L263.46,620.12 L267.73,619.43 L272,618.76 L276.28,618.1 L280.55,617.46 L284.82,616.83 L289.09,616.22 L293.36,615.62 L297.64,615.04 L301.91,614.47 L306.18,613.92 L310.45,613.38 L314.72,612.86 L319,612.35 L323.27,611.85 L327.54,611.37 L331.81,610.91 L336.08,610.45 L340.36,610.01 L344.63,609.58 L348.9,609.17 L353.17,608.77 L357.44,608.37 L361.72,607.99 L365.99,607.62 L370.26,607.26 L374.53,606.91 L378.8,606.57 L383.08,606.24 L387.35,605.91 L391.62,605.59 L395.89,605.28 L400.17,604.97 L404.44,604.66 L408.71,604.36 L412.98,604.06 L417.25,603.77 L421.53,603.47 L425.8,603.18 L430.07,602.88 L434.34,602.58 L438.61,602.27 L442.89,601.96 L447.16,601.65 L451.43,601.33" fill="none" stroke="#1f4e85" stroke-width="1.7"/>
<path d="M56,661.16 L58.43,660.87 L60.86,660.58 L63.29,660.28 L65.72,659.97 L68.15,659.66 L70.58,659.33 L73.01,659 L75.44,658.66 L77.87,658.32 L80.3,657.96 L82.73,657.6 L85.16,657.24 L87.59,656.87 L90.02,656.49 L92.45,656.1 L94.88,655.71 L97.31,655.32 L99.74,654.92 L102.17,654.51 L104.6,654.1 L107.03,653.68 L109.46,653.26 L111.89,652.84 L114.32,652.41 L116.75,651.98 L119.18,651.54 L121.61,651.1 L124.04,650.66 L126.47,650.21 L128.9,649.76 L131.33,649.31 L133.76,648.86 L136.19,648.4 L138.62,647.94 L141.05,647.48 L143.48,647.02 L145.92,646.56 L148.35,646.09 L150.78,645.63 L153.21,645.16 L155.64,644.69 L158.07,644.23 L160.5,643.76 L162.93,643.29 L165.36,642.82 L167.79,642.35 L170.22,641.88 L172.65,641.42 L175.08,640.95 L177.51,640.48 L179.94,640.02 L182.37,639.55 L184.8,639.09 L187.23,638.63 L189.66,638.16 L192.09,637.71 L194.52,637.25 L196.95,636.79 L199.38,636.34" fill="none" stroke="#4a6488" stroke-width="0.7"/><path d="M56,661.16 L58.43,660.87 L60.86,660.58 L63.29,660.28 L65.72,659.97 L68.15,659.66 L70.58,659.33 L73.01,659 L75.44,658.66 L77.87,658.32 L80.3,657.96 L82.73,657.6 L85.16,657.24 L87.59,656.87 L90.02,656.49 L92.45,656.1 L94.88,655.71 L97.31,655.32 L99.74,654.92 L102.17,654.51 L104.6,654.1 L107.03,653.68 L109.46,653.26 L111.89,652.84 L114.32,652.41 L116.75,651.98 L119.18,651.54 L121.61,651.1 L124.04,650.66 L126.47,650.21 L128.9,649.76 L131.33,649.31 L133.76,648.86 L136.19,648.4 L138.62,647.94 L141.05,647.48 L143.48,647.02 L145.92,646.56 L148.35,646.09 L150.78,645.63 L153.21,645.16 L155.64,644.69 L158.07,644.23 L160.5,643.76 L162.93,643.29 L165.36,642.82 L167.79,642.35 L170.22,641.88 L172.65,641.42 L175.08,640.95 L177.51,640.48 L179.94,640.02 L182.37,639.55 L184.8,639.09 L187.23,638.63 L189.66,638.16 L192.09,637.71 L194.52,637.25 L196.95,636.79 L199.38,636.34" fill="none" stroke="#1f4e85" stroke-width="0.8999999999999999" stroke-dasharray="2.5 9"/>
<path d="M199.38,636.34 L203.65,635.55 L207.92,634.76 L212.19,633.98 L216.47,633.21 L220.74,632.45 L225.01,631.7 L229.28,630.96 L233.55,630.23 L237.83,629.51 L242.1,628.8 L246.37,628.1 L250.64,627.42 L254.92,626.74 L259.19,626.08 L263.46,625.44 L267.73,624.8 L272,624.18 L276.28,623.57 L280.55,622.98 L284.82,622.4 L289.09,621.83 L293.36,621.28 L297.64,620.74 L301.91,620.21 L306.18,619.7 L310.45,619.2 L314.72,618.72 L319,618.24 L323.27,617.79 L327.54,617.34 L331.81,616.91 L336.08,616.49 L340.36,616.08 L344.63,615.68 L348.9,615.3 L353.17,614.93 L357.44,614.56 L361.72,614.21 L365.99,613.87 L370.26,613.54 L374.53,613.21 L378.8,612.9 L383.08,612.59 L387.35,612.29 L391.62,611.99 L395.89,611.7 L400.17,611.41 L404.44,611.13 L408.71,610.85 L412.98,610.58 L417.25,610.3 L421.53,610.03 L425.8,609.75 L430.07,609.48 L434.34,609.2 L438.61,608.92 L442.89,608.63 L447.16,608.34 L451.43,608.05" fill="none" stroke="#1f4e85" stroke-width="0.9"/>
<path d="M56,668.17 L58.14,668 L60.28,667.81 L62.41,667.62 L64.55,667.42 L66.69,667.21 L68.83,667 L70.97,666.78 L73.1,666.55 L75.24,666.31 L77.38,666.07 L79.52,665.83 L81.66,665.57 L83.79,665.31 L85.93,665.05 L88.07,664.78 L90.21,664.51 L92.35,664.23 L94.48,663.94 L96.62,663.65 L98.76,663.36 L100.9,663.06 L103.04,662.76 L105.17,662.46 L107.31,662.15 L109.45,661.84 L111.59,661.53 L113.73,661.21 L115.87,660.89 L118,660.56 L120.14,660.24 L122.28,659.91 L124.42,659.58 L126.56,659.25 L128.69,658.91 L130.83,658.58 L132.97,658.24 L135.11,657.9 L137.25,657.56 L139.38,657.22 L141.52,656.88 L143.66,656.54 L145.8,656.2 L147.94,655.85 L150.07,655.51 L152.21,655.16 L154.35,654.82 L156.49,654.48 L158.63,654.13 L160.76,653.79 L162.9,653.44 L165.04,653.1 L167.18,652.76 L169.32,652.42 L171.45,652.08 L173.59,651.74 L175.73,651.4 L177.87,651.06 L180.01,650.72 L182.14,650.39" fill="none" stroke="#4a6488" stroke-width="0.9"/><path d="M56,668.17 L58.14,668 L60.28,667.81 L62.41,667.62 L64.55,667.42 L66.69,667.21 L68.83,667 L70.97,666.78 L73.1,666.55 L75.24,666.31 L77.38,666.07 L79.52,665.83 L81.66,665.57 L83.79,665.31 L85.93,665.05 L88.07,664.78 L90.21,664.51 L92.35,664.23 L94.48,663.94 L96.62,663.65 L98.76,663.36 L100.9,663.06 L103.04,662.76 L105.17,662.46 L107.31,662.15 L109.45,661.84 L111.59,661.53 L113.73,661.21 L115.87,660.89 L118,660.56 L120.14,660.24 L122.28,659.91 L124.42,659.58 L126.56,659.25 L128.69,658.91 L130.83,658.58 L132.97,658.24 L135.11,657.9 L137.25,657.56 L139.38,657.22 L141.52,656.88 L143.66,656.54 L145.8,656.2 L147.94,655.85 L150.07,655.51 L152.21,655.16 L154.35,654.82 L156.49,654.48 L158.63,654.13 L160.76,653.79 L162.9,653.44 L165.04,653.1 L167.18,652.76 L169.32,652.42 L171.45,652.08 L173.59,651.74 L175.73,651.4 L177.87,651.06 L180.01,650.72 L182.14,650.39" fill="none" stroke="#1f4e85" stroke-width="1.1" stroke-dasharray="2.5 9"/>
<path d="M182.14,650.39 L185.9,649.8 L189.66,649.22 L193.42,648.65 L197.18,648.08 L200.94,647.52 L204.7,646.96 L208.45,646.41 L212.21,645.87 L215.97,645.34 L219.73,644.82 L223.49,644.3 L227.25,643.79 L231.01,643.29 L234.76,642.8 L238.52,642.32 L242.28,641.85 L246.04,641.39 L249.8,640.94 L253.56,640.5 L257.32,640.07 L261.07,639.65 L264.83,639.24 L268.59,638.84 L272.35,638.45 L276.11,638.07 L279.87,637.7 L283.63,637.34 L287.38,636.99 L291.14,636.66 L294.9,636.33 L298.66,636 L302.42,635.69 L306.18,635.39 L309.94,635.1 L313.69,634.81 L317.45,634.54 L321.21,634.27 L324.97,634.01 L328.73,633.75 L332.49,633.5 L336.25,633.26 L340,633.03 L343.76,632.8 L347.52,632.58 L351.28,632.36 L355.04,632.14 L358.8,631.93 L362.56,631.72 L366.31,631.51 L370.07,631.31 L373.83,631.11 L377.59,630.9 L381.35,630.7 L385.11,630.49 L388.87,630.29 L392.62,630.08 L396.38,629.87 L400.14,629.65 L403.9,629.43" fill="none" stroke="#1f4e85" stroke-width="1.7"/>
<path d="M56,670.49 L58.14,670.29 L60.28,670.09 L62.41,669.89 L64.55,669.68 L66.69,669.46 L68.83,669.24 L70.97,669.01 L73.1,668.78 L75.24,668.54 L77.38,668.3 L79.52,668.05 L81.66,667.8 L83.79,667.54 L85.93,667.28 L88.07,667.02 L90.21,666.75 L92.35,666.48 L94.48,666.21 L96.62,665.93 L98.76,665.64 L100.9,665.36 L103.04,665.07 L105.17,664.78 L107.31,664.49 L109.45,664.19 L111.59,663.89 L113.73,663.59 L115.87,663.28 L118,662.98 L120.14,662.67 L122.28,662.36 L124.42,662.05 L126.56,661.73 L128.69,661.42 L130.83,661.1 L132.97,660.79 L135.11,660.47 L137.25,660.15 L139.38,659.83 L141.52,659.51 L143.66,659.19 L145.8,658.87 L147.94,658.55 L150.07,658.23 L152.21,657.91 L154.35,657.58 L156.49,657.26 L158.63,656.94 L160.76,656.62 L162.9,656.3 L165.04,655.98 L167.18,655.66 L169.32,655.34 L171.45,655.03 L173.59,654.71 L175.73,654.4 L177.87,654.08 L180.01,653.77 L182.14,653.46" fill="none" stroke="#4a6488" stroke-width="0.7"/><path d="M56,670.49 L58.14,670.29 L60.28,670.09 L62.41,669.89 L64.55,669.68 L66.69,669.46 L68.83,669.24 L70.97,669.01 L73.1,668.78 L75.24,668.54 L77.38,668.3 L79.52,668.05 L81.66,667.8 L83.79,667.54 L85.93,667.28 L88.07,667.02 L90.21,666.75 L92.35,666.48 L94.48,666.21 L96.62,665.93 L98.76,665.64 L100.9,665.36 L103.04,665.07 L105.17,664.78 L107.31,664.49 L109.45,664.19 L111.59,663.89 L113.73,663.59 L115.87,663.28 L118,662.98 L120.14,662.67 L122.28,662.36 L124.42,662.05 L126.56,661.73 L128.69,661.42 L130.83,661.1 L132.97,660.79 L135.11,660.47 L137.25,660.15 L139.38,659.83 L141.52,659.51 L143.66,659.19 L145.8,658.87 L147.94,658.55 L150.07,658.23 L152.21,657.91 L154.35,657.58 L156.49,657.26 L158.63,656.94 L160.76,656.62 L162.9,656.3 L165.04,655.98 L167.18,655.66 L169.32,655.34 L171.45,655.03 L173.59,654.71 L175.73,654.4 L177.87,654.08 L180.01,653.77 L182.14,653.46" fill="none" stroke="#1f4e85" stroke-width="0.8999999999999999" stroke-dasharray="2.5 9"/>
<path d="M182.14,653.46 L185.9,652.91 L189.66,652.37 L193.42,651.84 L197.18,651.31 L200.94,650.79 L204.7,650.27 L208.45,649.77 L212.21,649.26 L215.97,648.77 L219.73,648.28 L223.49,647.81 L227.25,647.33 L231.01,646.87 L234.76,646.42 L238.52,645.97 L242.28,645.54 L246.04,645.11 L249.8,644.7 L253.56,644.29 L257.32,643.89 L261.07,643.5 L264.83,643.12 L268.59,642.75 L272.35,642.39 L276.11,642.04 L279.87,641.7 L283.63,641.36 L287.38,641.04 L291.14,640.73 L294.9,640.42 L298.66,640.12 L302.42,639.83 L306.18,639.56 L309.94,639.28 L313.69,639.02 L317.45,638.76 L321.21,638.51 L324.97,638.27 L328.73,638.04 L332.49,637.81 L336.25,637.59 L340,637.37 L343.76,637.16 L347.52,636.95 L351.28,636.75 L355.04,636.55 L358.8,636.35 L362.56,636.16 L366.31,635.97 L370.07,635.78 L373.83,635.59 L377.59,635.4 L381.35,635.21 L385.11,635.03 L388.87,634.83 L392.62,634.64 L396.38,634.45 L400.14,634.25 L403.9,634.04" fill="none" stroke="#1f4e85" stroke-width="0.9"/>
<path d="M56,675.94 L57.84,675.83 L59.67,675.71 L61.51,675.58 L63.35,675.45 L65.18,675.31 L67.02,675.17 L68.86,675.03 L70.7,674.88 L72.53,674.72 L74.37,674.56 L76.21,674.4 L78.04,674.23 L79.88,674.06 L81.72,673.89 L83.55,673.71 L85.39,673.53 L87.23,673.35 L89.06,673.16 L90.9,672.97 L92.74,672.78 L94.58,672.58 L96.41,672.39 L98.25,672.18 L100.09,671.98 L101.92,671.78 L103.76,671.57 L105.6,671.36 L107.43,671.15 L109.27,670.94 L111.11,670.72 L112.94,670.51 L114.78,670.29 L116.62,670.07 L118.45,669.85 L120.29,669.63 L122.13,669.41 L123.97,669.19 L125.8,668.96 L127.64,668.74 L129.48,668.51 L131.31,668.29 L133.15,668.06 L134.99,667.84 L136.82,667.61 L138.66,667.38 L140.5,667.16 L142.33,666.93 L144.17,666.7 L146.01,666.48 L147.85,666.25 L149.68,666.03 L151.52,665.8 L153.36,665.58 L155.19,665.35 L157.03,665.13 L158.87,664.91 L160.7,664.68 L162.54,664.46 L164.38,664.24" fill="none" stroke="#4a6488" stroke-width="0.9"/><path d="M56,675.94 L57.84,675.83 L59.67,675.71 L61.51,675.58 L63.35,675.45 L65.18,675.31 L67.02,675.17 L68.86,675.03 L70.7,674.88 L72.53,674.72 L74.37,674.56 L76.21,674.4 L78.04,674.23 L79.88,674.06 L81.72,673.89 L83.55,673.71 L85.39,673.53 L87.23,673.35 L89.06,673.16 L90.9,672.97 L92.74,672.78 L94.58,672.58 L96.41,672.39 L98.25,672.18 L100.09,671.98 L101.92,671.78 L103.76,671.57 L105.6,671.36 L107.43,671.15 L109.27,670.94 L111.11,670.72 L112.94,670.51 L114.78,670.29 L116.62,670.07 L118.45,669.85 L120.29,669.63 L122.13,669.41 L123.97,669.19 L125.8,668.96 L127.64,668.74 L129.48,668.51 L131.31,668.29 L133.15,668.06 L134.99,667.84 L136.82,667.61 L138.66,667.38 L140.5,667.16 L142.33,666.93 L144.17,666.7 L146.01,666.48 L147.85,666.25 L149.68,666.03 L151.52,665.8 L153.36,665.58 L155.19,665.35 L157.03,665.13 L158.87,664.91 L160.7,664.68 L162.54,664.46 L164.38,664.24" fill="none" stroke="#1f4e85" stroke-width="1.1" stroke-dasharray="2.5 9"/>
<path d="M164.38,664.24 L167.61,663.86 L170.84,663.48 L174.07,663.1 L177.29,662.72 L180.52,662.35 L183.75,661.99 L186.98,661.63 L190.21,661.27 L193.44,660.92 L196.67,660.57 L199.9,660.23 L203.13,659.9 L206.36,659.57 L209.59,659.25 L212.82,658.94 L216.04,658.63 L219.27,658.32 L222.5,658.03 L225.73,657.74 L228.96,657.45 L232.19,657.18 L235.42,656.91 L238.65,656.64 L241.88,656.39 L245.11,656.14 L248.34,655.89 L251.57,655.66 L254.79,655.43 L258.02,655.2 L261.25,654.99 L264.48,654.78 L267.71,654.57 L270.94,654.37 L274.17,654.18 L277.4,653.99 L280.63,653.81 L283.86,653.63 L287.09,653.46 L290.32,653.29 L293.55,653.13 L296.77,652.97 L300,652.82 L303.23,652.67 L306.46,652.52 L309.69,652.38 L312.92,652.23 L316.15,652.09 L319.38,651.96 L322.61,651.82 L325.84,651.69 L329.07,651.55 L332.3,651.42 L335.52,651.28 L338.75,651.15 L341.98,651.01 L345.21,650.88 L348.44,650.74 L351.67,650.6 L354.9,650.45" fill="none" stroke="#1f4e85" stroke-width="1.7"/>
<path d="M56,677.47 L57.84,677.34 L59.67,677.21 L61.51,677.07 L63.35,676.93 L65.18,676.79 L67.02,676.64 L68.86,676.5 L70.7,676.34 L72.53,676.19 L74.37,676.03 L76.21,675.86 L78.04,675.7 L79.88,675.53 L81.72,675.36 L83.55,675.19 L85.39,675.01 L87.23,674.83 L89.06,674.65 L90.9,674.47 L92.74,674.28 L94.58,674.09 L96.41,673.9 L98.25,673.71 L100.09,673.52 L101.92,673.32 L103.76,673.13 L105.6,672.93 L107.43,672.73 L109.27,672.53 L111.11,672.32 L112.94,672.12 L114.78,671.91 L116.62,671.71 L118.45,671.5 L120.29,671.29 L122.13,671.08 L123.97,670.88 L125.8,670.67 L127.64,670.46 L129.48,670.24 L131.31,670.03 L133.15,669.82 L134.99,669.61 L136.82,669.4 L138.66,669.19 L140.5,668.98 L142.33,668.76 L144.17,668.55 L146.01,668.34 L147.85,668.13 L149.68,667.92 L151.52,667.71 L153.36,667.5 L155.19,667.29 L157.03,667.09 L158.87,666.88 L160.7,666.67 L162.54,666.47 L164.38,666.26" fill="none" stroke="#4a6488" stroke-width="0.7"/><path d="M56,677.47 L57.84,677.34 L59.67,677.21 L61.51,677.07 L63.35,676.93 L65.18,676.79 L67.02,676.64 L68.86,676.5 L70.7,676.34 L72.53,676.19 L74.37,676.03 L76.21,675.86 L78.04,675.7 L79.88,675.53 L81.72,675.36 L83.55,675.19 L85.39,675.01 L87.23,674.83 L89.06,674.65 L90.9,674.47 L92.74,674.28 L94.58,674.09 L96.41,673.9 L98.25,673.71 L100.09,673.52 L101.92,673.32 L103.76,673.13 L105.6,672.93 L107.43,672.73 L109.27,672.53 L111.11,672.32 L112.94,672.12 L114.78,671.91 L116.62,671.71 L118.45,671.5 L120.29,671.29 L122.13,671.08 L123.97,670.88 L125.8,670.67 L127.64,670.46 L129.48,670.24 L131.31,670.03 L133.15,669.82 L134.99,669.61 L136.82,669.4 L138.66,669.19 L140.5,668.98 L142.33,668.76 L144.17,668.55 L146.01,668.34 L147.85,668.13 L149.68,667.92 L151.52,667.71 L153.36,667.5 L155.19,667.29 L157.03,667.09 L158.87,666.88 L160.7,666.67 L162.54,666.47 L164.38,666.26" fill="none" stroke="#1f4e85" stroke-width="0.8999999999999999" stroke-dasharray="2.5 9"/>
<path d="M164.38,666.26 L167.61,665.9 L170.84,665.55 L174.07,665.2 L177.29,664.85 L180.52,664.51 L183.75,664.17 L186.98,663.83 L190.21,663.5 L193.44,663.18 L196.67,662.86 L199.9,662.54 L203.13,662.23 L206.36,661.93 L209.59,661.63 L212.82,661.34 L216.04,661.05 L219.27,660.77 L222.5,660.5 L225.73,660.23 L228.96,659.96 L232.19,659.71 L235.42,659.46 L238.65,659.22 L241.88,658.98 L245.11,658.75 L248.34,658.52 L251.57,658.3 L254.79,658.09 L258.02,657.88 L261.25,657.68 L264.48,657.49 L267.71,657.3 L270.94,657.11 L274.17,656.93 L277.4,656.76 L280.63,656.59 L283.86,656.43 L287.09,656.27 L290.32,656.11 L293.55,655.96 L296.77,655.82 L300,655.67 L303.23,655.54 L306.46,655.4 L309.69,655.27 L312.92,655.13 L316.15,655.01 L319.38,654.88 L322.61,654.75 L325.84,654.63 L329.07,654.5 L332.3,654.38 L335.52,654.26 L338.75,654.13 L341.98,654.01 L345.21,653.88 L348.44,653.75 L351.67,653.62 L354.9,653.48" fill="none" stroke="#1f4e85" stroke-width="0.9"/>
<path d="M56,681.68 L57.54,681.6 L59.08,681.53 L60.62,681.45 L62.16,681.37 L63.69,681.29 L65.23,681.2 L66.77,681.11 L68.31,681.02 L69.85,680.92 L71.39,680.83 L72.93,680.72 L74.47,680.62 L76,680.52 L77.54,680.41 L79.08,680.3 L80.62,680.19 L82.16,680.08 L83.7,679.96 L85.24,679.84 L86.78,679.72 L88.31,679.6 L89.85,679.48 L91.39,679.36 L92.93,679.23 L94.47,679.11 L96.01,678.98 L97.55,678.85 L99.09,678.72 L100.62,678.59 L102.16,678.46 L103.7,678.32 L105.24,678.19 L106.78,678.06 L108.32,677.92 L109.86,677.78 L111.4,677.65 L112.94,677.51 L114.47,677.37 L116.01,677.23 L117.55,677.09 L119.09,676.96 L120.63,676.82 L122.17,676.68 L123.71,676.54 L125.25,676.4 L126.78,676.26 L128.32,676.12 L129.86,675.98 L131.4,675.84 L132.94,675.7 L134.48,675.56 L136.02,675.42 L137.56,675.28 L139.09,675.15 L140.63,675.01 L142.17,674.87 L143.71,674.73 L145.25,674.6 L146.79,674.46" fill="none" stroke="#4a6488" stroke-width="2.2"/><path d="M56,681.68 L57.54,681.6 L59.08,681.53 L60.62,681.45 L62.16,681.37 L63.69,681.29 L65.23,681.2 L66.77,681.11 L68.31,681.02 L69.85,680.92 L71.39,680.83 L72.93,680.72 L74.47,680.62 L76,680.52 L77.54,680.41 L79.08,680.3 L80.62,680.19 L82.16,680.08 L83.7,679.96 L85.24,679.84 L86.78,679.72 L88.31,679.6 L89.85,679.48 L91.39,679.36 L92.93,679.23 L94.47,679.11 L96.01,678.98 L97.55,678.85 L99.09,678.72 L100.62,678.59 L102.16,678.46 L103.7,678.32 L105.24,678.19 L106.78,678.06 L108.32,677.92 L109.86,677.78 L111.4,677.65 L112.94,677.51 L114.47,677.37 L116.01,677.23 L117.55,677.09 L119.09,676.96 L120.63,676.82 L122.17,676.68 L123.71,676.54 L125.25,676.4 L126.78,676.26 L128.32,676.12 L129.86,675.98 L131.4,675.84 L132.94,675.7 L134.48,675.56 L136.02,675.42 L137.56,675.28 L139.09,675.15 L140.63,675.01 L142.17,674.87 L143.71,674.73 L145.25,674.6 L146.79,674.46" fill="none" stroke="#1f4e85" stroke-width="2.4000000000000004" stroke-dasharray="2.5 9"/>
<path d="M146.79,674.46 L149.49,674.22 L152.2,673.99 L154.9,673.75 L157.61,673.52 L160.31,673.3 L163.02,673.07 L165.72,672.85 L168.43,672.63 L171.13,672.41 L173.84,672.2 L176.54,671.99 L179.25,671.78 L181.95,671.58 L184.66,671.38 L187.37,671.19 L190.07,671 L192.78,670.81 L195.48,670.63 L198.19,670.45 L200.89,670.27 L203.6,670.1 L206.3,669.94 L209.01,669.77 L211.71,669.62 L214.42,669.46 L217.12,669.31 L219.83,669.17 L222.53,669.02 L225.24,668.89 L227.94,668.75 L230.65,668.62 L233.35,668.5 L236.06,668.37 L238.76,668.25 L241.47,668.14 L244.17,668.03 L246.88,667.92 L249.58,667.81 L252.29,667.71 L254.99,667.61 L257.7,667.51 L260.4,667.42 L263.11,667.32 L265.81,667.23 L268.52,667.14 L271.22,667.06 L273.93,666.97 L276.63,666.88 L279.34,666.8 L282.04,666.72 L284.75,666.63 L287.45,666.55 L290.16,666.47 L292.86,666.39 L295.57,666.3 L298.27,666.22 L300.98,666.13 L303.68,666.04 L306.39,665.96" fill="none" stroke="#1f4e85" stroke-width="1.7"/>
<path d="M56,682.62 L57.54,682.54 L59.08,682.46 L60.62,682.37 L62.16,682.29 L63.69,682.2 L65.23,682.11 L66.77,682.02 L68.31,681.92 L69.85,681.83 L71.39,681.73 L72.93,681.63 L74.47,681.53 L76,681.42 L77.54,681.32 L79.08,681.21 L80.62,681.1 L82.16,680.99 L83.7,680.88 L85.24,680.77 L86.78,680.65 L88.31,680.54 L89.85,680.42 L91.39,680.3 L92.93,680.18 L94.47,680.06 L96.01,679.94 L97.55,679.82 L99.09,679.69 L100.62,679.57 L102.16,679.44 L103.7,679.32 L105.24,679.19 L106.78,679.06 L108.32,678.94 L109.86,678.81 L111.4,678.68 L112.94,678.55 L114.47,678.42 L116.01,678.29 L117.55,678.16 L119.09,678.03 L120.63,677.9 L122.17,677.77 L123.71,677.64 L125.25,677.51 L126.78,677.38 L128.32,677.25 L129.86,677.12 L131.4,676.99 L132.94,676.86 L134.48,676.73 L136.02,676.6 L137.56,676.47 L139.09,676.34 L140.63,676.21 L142.17,676.09 L143.71,675.96 L145.25,675.83 L146.79,675.71" fill="none" stroke="#4a6488" stroke-width="2.2"/><path d="M56,682.62 L57.54,682.54 L59.08,682.46 L60.62,682.37 L62.16,682.29 L63.69,682.2 L65.23,682.11 L66.77,682.02 L68.31,681.92 L69.85,681.83 L71.39,681.73 L72.93,681.63 L74.47,681.53 L76,681.42 L77.54,681.32 L79.08,681.21 L80.62,681.1 L82.16,680.99 L83.7,680.88 L85.24,680.77 L86.78,680.65 L88.31,680.54 L89.85,680.42 L91.39,680.3 L92.93,680.18 L94.47,680.06 L96.01,679.94 L97.55,679.82 L99.09,679.69 L100.62,679.57 L102.16,679.44 L103.7,679.32 L105.24,679.19 L106.78,679.06 L108.32,678.94 L109.86,678.81 L111.4,678.68 L112.94,678.55 L114.47,678.42 L116.01,678.29 L117.55,678.16 L119.09,678.03 L120.63,677.9 L122.17,677.77 L123.71,677.64 L125.25,677.51 L126.78,677.38 L128.32,677.25 L129.86,677.12 L131.4,676.99 L132.94,676.86 L134.48,676.73 L136.02,676.6 L137.56,676.47 L139.09,676.34 L140.63,676.21 L142.17,676.09 L143.71,675.96 L145.25,675.83 L146.79,675.71" fill="none" stroke="#1f4e85" stroke-width="2.4000000000000004" stroke-dasharray="2.5 9"/>
<path d="M146.79,675.71 L149.49,675.48 L152.2,675.27 L154.9,675.05 L157.61,674.83 L160.31,674.62 L163.02,674.41 L165.72,674.21 L168.43,674 L171.13,673.8 L173.84,673.61 L176.54,673.41 L179.25,673.22 L181.95,673.03 L184.66,672.85 L187.37,672.67 L190.07,672.49 L192.78,672.32 L195.48,672.15 L198.19,671.98 L200.89,671.82 L203.6,671.66 L206.3,671.51 L209.01,671.36 L211.71,671.21 L214.42,671.07 L217.12,670.93 L219.83,670.8 L222.53,670.67 L225.24,670.54 L227.94,670.41 L230.65,670.29 L233.35,670.18 L236.06,670.06 L238.76,669.95 L241.47,669.85 L244.17,669.74 L246.88,669.64 L249.58,669.54 L252.29,669.45 L254.99,669.36 L257.7,669.27 L260.4,669.18 L263.11,669.09 L265.81,669.01 L268.52,668.92 L271.22,668.84 L273.93,668.76 L276.63,668.69 L279.34,668.61 L282.04,668.53 L284.75,668.45 L287.45,668.38 L290.16,668.3 L292.86,668.23 L295.57,668.15 L298.27,668.07 L300.98,667.99 L303.68,667.91 L306.39,667.83" fill="none" stroke="#1f4e85" stroke-width="0.9"/>
<path d="M56,685.82 L57.24,685.78 L58.48,685.74 L59.71,685.7 L60.95,685.65 L62.19,685.61 L63.43,685.56 L64.66,685.51 L65.9,685.46 L67.14,685.41 L68.38,685.35 L69.61,685.3 L70.85,685.24 L72.09,685.18 L73.33,685.12 L74.56,685.06 L75.8,685 L77.04,684.94 L78.28,684.88 L79.52,684.81 L80.75,684.75 L81.99,684.68 L83.23,684.61 L84.47,684.55 L85.7,684.48 L86.94,684.41 L88.18,684.34 L89.42,684.27 L90.65,684.19 L91.89,684.12 L93.13,684.05 L94.37,683.98 L95.6,683.9 L96.84,683.83 L98.08,683.75 L99.32,683.68 L100.56,683.6 L101.79,683.53 L103.03,683.45 L104.27,683.38 L105.51,683.3 L106.74,683.22 L107.98,683.15 L109.22,683.07 L110.46,682.99 L111.69,682.92 L112.93,682.84 L114.17,682.76 L115.41,682.68 L116.65,682.61 L117.88,682.53 L119.12,682.45 L120.36,682.38 L121.6,682.3 L122.83,682.23 L124.07,682.15 L125.31,682.07 L126.55,682 L127.78,681.92 L129.02,681.85" fill="none" stroke="#4a6488" stroke-width="2.2"/><path d="M56,685.82 L57.24,685.78 L58.48,685.74 L59.71,685.7 L60.95,685.65 L62.19,685.61 L63.43,685.56 L64.66,685.51 L65.9,685.46 L67.14,685.41 L68.38,685.35 L69.61,685.3 L70.85,685.24 L72.09,685.18 L73.33,685.12 L74.56,685.06 L75.8,685 L77.04,684.94 L78.28,684.88 L79.52,684.81 L80.75,684.75 L81.99,684.68 L83.23,684.61 L84.47,684.55 L85.7,684.48 L86.94,684.41 L88.18,684.34 L89.42,684.27 L90.65,684.19 L91.89,684.12 L93.13,684.05 L94.37,683.98 L95.6,683.9 L96.84,683.83 L98.08,683.75 L99.32,683.68 L100.56,683.6 L101.79,683.53 L103.03,683.45 L104.27,683.38 L105.51,683.3 L106.74,683.22 L107.98,683.15 L109.22,683.07 L110.46,682.99 L111.69,682.92 L112.93,682.84 L114.17,682.76 L115.41,682.68 L116.65,682.61 L117.88,682.53 L119.12,682.45 L120.36,682.38 L121.6,682.3 L122.83,682.23 L124.07,682.15 L125.31,682.07 L126.55,682 L127.78,681.92 L129.02,681.85" fill="none" stroke="#1f4e85" stroke-width="2.4000000000000004" stroke-dasharray="2.5 9"/>
<path d="M129.02,681.85 L131.2,681.72 L133.37,681.59 L135.55,681.46 L137.72,681.33 L139.9,681.21 L142.08,681.08 L144.25,680.96 L146.43,680.84 L148.6,680.72 L150.78,680.6 L152.95,680.49 L155.13,680.37 L157.31,680.26 L159.48,680.15 L161.66,680.05 L163.83,679.94 L166.01,679.84 L168.18,679.74 L170.36,679.64 L172.54,679.54 L174.71,679.45 L176.89,679.36 L179.06,679.27 L181.24,679.18 L183.41,679.1 L185.59,679.01 L187.77,678.93 L189.94,678.86 L192.12,678.78 L194.29,678.71 L196.47,678.63 L198.65,678.56 L200.82,678.5 L203,678.43 L205.17,678.37 L207.35,678.31 L209.52,678.25 L211.7,678.19 L213.88,678.13 L216.05,678.08 L218.23,678.02 L220.4,677.97 L222.58,677.92 L224.75,677.87 L226.93,677.82 L229.11,677.77 L231.28,677.72 L233.46,677.68 L235.63,677.63 L237.81,677.58 L239.98,677.54 L242.16,677.49 L244.34,677.45 L246.51,677.4 L248.69,677.36 L250.86,677.31 L253.04,677.26 L255.21,677.21 L257.39,677.17" fill="none" stroke="#1f4e85" stroke-width="1.7"/>
<path d="M56,686.34 L57.24,686.3 L58.48,686.25 L59.71,686.21 L60.95,686.16 L62.19,686.11 L63.43,686.06 L64.66,686.01 L65.9,685.96 L67.14,685.9 L68.38,685.85 L69.61,685.79 L70.85,685.74 L72.09,685.68 L73.33,685.62 L74.56,685.56 L75.8,685.5 L77.04,685.44 L78.28,685.38 L79.52,685.32 L80.75,685.26 L81.99,685.19 L83.23,685.13 L84.47,685.06 L85.7,685 L86.94,684.93 L88.18,684.86 L89.42,684.8 L90.65,684.73 L91.89,684.66 L93.13,684.59 L94.37,684.52 L95.6,684.45 L96.84,684.38 L98.08,684.31 L99.32,684.24 L100.56,684.17 L101.79,684.1 L103.03,684.03 L104.27,683.96 L105.51,683.89 L106.74,683.81 L107.98,683.74 L109.22,683.67 L110.46,683.6 L111.69,683.53 L112.93,683.46 L114.17,683.38 L115.41,683.31 L116.65,683.24 L117.88,683.17 L119.12,683.1 L120.36,683.03 L121.6,682.96 L122.83,682.88 L124.07,682.81 L125.31,682.74 L126.55,682.67 L127.78,682.6 L129.02,682.53" fill="none" stroke="#4a6488" stroke-width="2.2"/><path d="M56,686.34 L57.24,686.3 L58.48,686.25 L59.71,686.21 L60.95,686.16 L62.19,686.11 L63.43,686.06 L64.66,686.01 L65.9,685.96 L67.14,685.9 L68.38,685.85 L69.61,685.79 L70.85,685.74 L72.09,685.68 L73.33,685.62 L74.56,685.56 L75.8,685.5 L77.04,685.44 L78.28,685.38 L79.52,685.32 L80.75,685.26 L81.99,685.19 L83.23,685.13 L84.47,685.06 L85.7,685 L86.94,684.93 L88.18,684.86 L89.42,684.8 L90.65,684.73 L91.89,684.66 L93.13,684.59 L94.37,684.52 L95.6,684.45 L96.84,684.38 L98.08,684.31 L99.32,684.24 L100.56,684.17 L101.79,684.1 L103.03,684.03 L104.27,683.96 L105.51,683.89 L106.74,683.81 L107.98,683.74 L109.22,683.67 L110.46,683.6 L111.69,683.53 L112.93,683.46 L114.17,683.38 L115.41,683.31 L116.65,683.24 L117.88,683.17 L119.12,683.1 L120.36,683.03 L121.6,682.96 L122.83,682.88 L124.07,682.81 L125.31,682.74 L126.55,682.67 L127.78,682.6 L129.02,682.53" fill="none" stroke="#1f4e85" stroke-width="2.4000000000000004" stroke-dasharray="2.5 9"/>
<path d="M129.02,682.53 L131.2,682.41 L133.37,682.29 L135.55,682.17 L137.72,682.05 L139.9,681.94 L142.08,681.82 L144.25,681.71 L146.43,681.6 L148.6,681.49 L150.78,681.38 L152.95,681.27 L155.13,681.17 L157.31,681.06 L159.48,680.96 L161.66,680.86 L163.83,680.76 L166.01,680.67 L168.18,680.58 L170.36,680.48 L172.54,680.4 L174.71,680.31 L176.89,680.22 L179.06,680.14 L181.24,680.06 L183.41,679.98 L185.59,679.91 L187.77,679.83 L189.94,679.76 L192.12,679.69 L194.29,679.62 L196.47,679.55 L198.65,679.49 L200.82,679.43 L203,679.37 L205.17,679.31 L207.35,679.25 L209.52,679.19 L211.7,679.14 L213.88,679.09 L216.05,679.04 L218.23,678.99 L220.4,678.94 L222.58,678.89 L224.75,678.85 L226.93,678.8 L229.11,678.76 L231.28,678.71 L233.46,678.67 L235.63,678.63 L237.81,678.58 L239.98,678.54 L242.16,678.5 L244.34,678.46 L246.51,678.42 L248.69,678.37 L250.86,678.33 L253.04,678.29 L255.21,678.24 L257.39,678.2" fill="none" stroke="#1f4e85" stroke-width="0.9"/>
<path d="M56,689.38 L56.78,689.37 L57.56,689.35 L58.34,689.34 L59.12,689.33 L59.9,689.31 L60.68,689.3 L61.46,689.29 L62.24,689.27 L63.02,689.25 L63.8,689.24 L64.58,689.22 L65.36,689.2 L66.14,689.19 L66.92,689.17 L67.7,689.15 L68.48,689.13 L69.26,689.11 L70.04,689.1 L70.82,689.08 L71.6,689.06 L72.38,689.04 L73.16,689.02 L73.94,689 L74.72,688.98 L75.5,688.95 L76.28,688.93 L77.06,688.91 L77.84,688.89 L78.62,688.87 L79.4,688.85 L80.18,688.83 L80.96,688.8 L81.74,688.78 L82.52,688.76 L83.3,688.74 L84.08,688.71 L84.86,688.69 L85.64,688.67 L86.42,688.65 L87.2,688.62 L87.98,688.6 L88.76,688.58 L89.54,688.55 L90.32,688.53 L91.1,688.51 L91.88,688.49 L92.66,688.46 L93.44,688.44 L94.22,688.42 L95,688.39 L95.78,688.37 L96.56,688.35 L97.34,688.32 L98.12,688.3 L98.9,688.28 L99.68,688.26 L100.46,688.23 L101.24,688.21 L102.02,688.19" fill="none" stroke="#4a6488" stroke-width="2.2"/><path d="M56,689.38 L56.78,689.37 L57.56,689.35 L58.34,689.34 L59.12,689.33 L59.9,689.31 L60.68,689.3 L61.46,689.29 L62.24,689.27 L63.02,689.25 L63.8,689.24 L64.58,689.22 L65.36,689.2 L66.14,689.19 L66.92,689.17 L67.7,689.15 L68.48,689.13 L69.26,689.11 L70.04,689.1 L70.82,689.08 L71.6,689.06 L72.38,689.04 L73.16,689.02 L73.94,689 L74.72,688.98 L75.5,688.95 L76.28,688.93 L77.06,688.91 L77.84,688.89 L78.62,688.87 L79.4,688.85 L80.18,688.83 L80.96,688.8 L81.74,688.78 L82.52,688.76 L83.3,688.74 L84.08,688.71 L84.86,688.69 L85.64,688.67 L86.42,688.65 L87.2,688.62 L87.98,688.6 L88.76,688.58 L89.54,688.55 L90.32,688.53 L91.1,688.51 L91.88,688.49 L92.66,688.46 L93.44,688.44 L94.22,688.42 L95,688.39 L95.78,688.37 L96.56,688.35 L97.34,688.32 L98.12,688.3 L98.9,688.28 L99.68,688.26 L100.46,688.23 L101.24,688.21 L102.02,688.19" fill="none" stroke="#1f4e85" stroke-width="2.4000000000000004" stroke-dasharray="2.5 9"/>
<path d="M102.02,688.19 L103.39,688.15 L104.76,688.11 L106.13,688.07 L107.5,688.03 L108.87,688 L110.24,687.96 L111.61,687.92 L112.98,687.89 L114.36,687.85 L115.73,687.82 L117.1,687.78 L118.47,687.75 L119.84,687.71 L121.21,687.68 L122.58,687.65 L123.95,687.62 L125.32,687.59 L126.7,687.56 L128.07,687.53 L129.44,687.5 L130.81,687.47 L132.18,687.44 L133.55,687.42 L134.92,687.39 L136.29,687.36 L137.66,687.34 L139.04,687.32 L140.41,687.29 L141.78,687.27 L143.15,687.25 L144.52,687.23 L145.89,687.2 L147.26,687.18 L148.63,687.17 L150,687.15 L151.38,687.13 L152.75,687.11 L154.12,687.09 L155.49,687.08 L156.86,687.06 L158.23,687.04 L159.6,687.03 L160.97,687.01 L162.34,687 L163.71,686.98 L165.09,686.97 L166.46,686.95 L167.83,686.94 L169.2,686.93 L170.57,686.91 L171.94,686.9 L173.31,686.88 L174.68,686.87 L176.05,686.86 L177.43,686.84 L178.8,686.83 L180.17,686.82 L181.54,686.8 L182.91,686.79" fill="none" stroke="#1f4e85" stroke-width="1.7"/>
<path d="M56,689.53 L56.78,689.52 L57.56,689.51 L58.34,689.49 L59.12,689.48 L59.9,689.46 L60.68,689.45 L61.46,689.43 L62.24,689.42 L63.02,689.4 L63.8,689.39 L64.58,689.37 L65.36,689.35 L66.14,689.34 L66.92,689.32 L67.7,689.3 L68.48,689.28 L69.26,689.27 L70.04,689.25 L70.82,689.23 L71.6,689.21 L72.38,689.19 L73.16,689.17 L73.94,689.15 L74.72,689.13 L75.5,689.11 L76.28,689.09 L77.06,689.07 L77.84,689.05 L78.62,689.03 L79.4,689.01 L80.18,688.99 L80.96,688.97 L81.74,688.95 L82.52,688.93 L83.3,688.91 L84.08,688.88 L84.86,688.86 L85.64,688.84 L86.42,688.82 L87.2,688.8 L87.98,688.78 L88.76,688.76 L89.54,688.73 L90.32,688.71 L91.1,688.69 L91.88,688.67 L92.66,688.65 L93.44,688.63 L94.22,688.61 L95,688.58 L95.78,688.56 L96.56,688.54 L97.34,688.52 L98.12,688.5 L98.9,688.48 L99.68,688.46 L100.46,688.44 L101.24,688.41 L102.02,688.39" fill="none" stroke="#4a6488" stroke-width="2.2"/><path d="M56,689.53 L56.78,689.52 L57.56,689.51 L58.34,689.49 L59.12,689.48 L59.9,689.46 L60.68,689.45 L61.46,689.43 L62.24,689.42 L63.02,689.4 L63.8,689.39 L64.58,689.37 L65.36,689.35 L66.14,689.34 L66.92,689.32 L67.7,689.3 L68.48,689.28 L69.26,689.27 L70.04,689.25 L70.82,689.23 L71.6,689.21 L72.38,689.19 L73.16,689.17 L73.94,689.15 L74.72,689.13 L75.5,689.11 L76.28,689.09 L77.06,689.07 L77.84,689.05 L78.62,689.03 L79.4,689.01 L80.18,688.99 L80.96,688.97 L81.74,688.95 L82.52,688.93 L83.3,688.91 L84.08,688.88 L84.86,688.86 L85.64,688.84 L86.42,688.82 L87.2,688.8 L87.98,688.78 L88.76,688.76 L89.54,688.73 L90.32,688.71 L91.1,688.69 L91.88,688.67 L92.66,688.65 L93.44,688.63 L94.22,688.61 L95,688.58 L95.78,688.56 L96.56,688.54 L97.34,688.52 L98.12,688.5 L98.9,688.48 L99.68,688.46 L100.46,688.44 L101.24,688.41 L102.02,688.39" fill="none" stroke="#1f4e85" stroke-width="2.4000000000000004" stroke-dasharray="2.5 9"/>
<path d="M102.02,688.39 L103.39,688.36 L104.76,688.32 L106.13,688.29 L107.5,688.25 L108.87,688.22 L110.24,688.18 L111.61,688.15 L112.98,688.11 L114.36,688.08 L115.73,688.05 L117.1,688.02 L118.47,687.98 L119.84,687.95 L121.21,687.92 L122.58,687.89 L123.95,687.86 L125.32,687.84 L126.7,687.81 L128.07,687.78 L129.44,687.75 L130.81,687.73 L132.18,687.7 L133.55,687.68 L134.92,687.65 L136.29,687.63 L137.66,687.61 L139.04,687.58 L140.41,687.56 L141.78,687.54 L143.15,687.52 L144.52,687.5 L145.89,687.48 L147.26,687.46 L148.63,687.45 L150,687.43 L151.38,687.41 L152.75,687.39 L154.12,687.38 L155.49,687.36 L156.86,687.35 L158.23,687.33 L159.6,687.32 L160.97,687.3 L162.34,687.29 L163.71,687.28 L165.09,687.26 L166.46,687.25 L167.83,687.24 L169.2,687.22 L170.57,687.21 L171.94,687.2 L173.31,687.19 L174.68,687.17 L176.05,687.16 L177.43,687.15 L178.8,687.13 L180.17,687.12 L181.54,687.11 L182.91,687.09" fill="none" stroke="#1f4e85" stroke-width="0.9"/>
<path d="M56,690.43 L56.52,690.43 L57.04,690.43 L57.55,690.42 L58.07,690.42 L58.59,690.41 L59.11,690.41 L59.63,690.4 L60.14,690.4 L60.66,690.4 L61.18,690.39 L61.7,690.39 L62.22,690.38 L62.73,690.37 L63.25,690.37 L63.77,690.36 L64.29,690.36 L64.81,690.35 L65.32,690.35 L65.84,690.34 L66.36,690.33 L66.88,690.33 L67.39,690.32 L67.91,690.32 L68.43,690.31 L68.95,690.3 L69.47,690.3 L69.98,690.29 L70.5,690.28 L71.02,690.28 L71.54,690.27 L72.06,690.26 L72.57,690.26 L73.09,690.25 L73.61,690.24 L74.13,690.24 L74.65,690.23 L75.16,690.22 L75.68,690.22 L76.2,690.21 L76.72,690.2 L77.24,690.19 L77.75,690.19 L78.27,690.18 L78.79,690.17 L79.31,690.17 L79.83,690.16 L80.34,690.15 L80.86,690.14 L81.38,690.14 L81.9,690.13 L82.42,690.12 L82.93,690.12 L83.45,690.11 L83.97,690.1 L84.49,690.1 L85.01,690.09 L85.52,690.08 L86.04,690.07 L86.56,690.07" fill="none" stroke="#4a6488" stroke-width="2.2"/><path d="M56,690.43 L56.52,690.43 L57.04,690.43 L57.55,690.42 L58.07,690.42 L58.59,690.41 L59.11,690.41 L59.63,690.4 L60.14,690.4 L60.66,690.4 L61.18,690.39 L61.7,690.39 L62.22,690.38 L62.73,690.37 L63.25,690.37 L63.77,690.36 L64.29,690.36 L64.81,690.35 L65.32,690.35 L65.84,690.34 L66.36,690.33 L66.88,690.33 L67.39,690.32 L67.91,690.32 L68.43,690.31 L68.95,690.3 L69.47,690.3 L69.98,690.29 L70.5,690.28 L71.02,690.28 L71.54,690.27 L72.06,690.26 L72.57,690.26 L73.09,690.25 L73.61,690.24 L74.13,690.24 L74.65,690.23 L75.16,690.22 L75.68,690.22 L76.2,690.21 L76.72,690.2 L77.24,690.19 L77.75,690.19 L78.27,690.18 L78.79,690.17 L79.31,690.17 L79.83,690.16 L80.34,690.15 L80.86,690.14 L81.38,690.14 L81.9,690.13 L82.42,690.12 L82.93,690.12 L83.45,690.11 L83.97,690.1 L84.49,690.1 L85.01,690.09 L85.52,690.08 L86.04,690.07 L86.56,690.07" fill="none" stroke="#1f4e85" stroke-width="2.4000000000000004" stroke-dasharray="2.5 9"/>
<path d="M86.56,690.07 L87.47,690.06 L88.38,690.04 L89.29,690.03 L90.2,690.02 L91.11,690.01 L92.02,690 L92.93,689.99 L93.84,689.98 L94.75,689.96 L95.66,689.95 L96.57,689.94 L97.49,689.93 L98.4,689.92 L99.31,689.91 L100.22,689.9 L101.13,689.89 L102.04,689.88 L102.95,689.87 L103.86,689.87 L104.77,689.86 L105.68,689.85 L106.59,689.84 L107.5,689.83 L108.41,689.82 L109.32,689.82 L110.23,689.81 L111.14,689.8 L112.05,689.79 L112.96,689.79 L113.87,689.78 L114.79,689.77 L115.7,689.77 L116.61,689.76 L117.52,689.75 L118.43,689.75 L119.34,689.74 L120.25,689.74 L121.16,689.73 L122.07,689.73 L122.98,689.72 L123.89,689.72 L124.8,689.71 L125.71,689.71 L126.62,689.7 L127.53,689.7 L128.44,689.69 L129.35,689.69 L130.26,689.68 L131.17,689.68 L132.09,689.68 L133,689.67 L133.91,689.67 L134.82,689.66 L135.73,689.66 L136.64,689.66 L137.55,689.65 L138.46,689.65 L139.37,689.64 L140.28,689.64" fill="none" stroke="#1f4e85" stroke-width="1.7"/>
<path d="M56,690.48 L56.52,690.48 L57.04,690.47 L57.55,690.47 L58.07,690.46 L58.59,690.46 L59.11,690.46 L59.63,690.45 L60.14,690.45 L60.66,690.44 L61.18,690.44 L61.7,690.43 L62.22,690.43 L62.73,690.42 L63.25,690.42 L63.77,690.41 L64.29,690.4 L64.81,690.4 L65.32,690.39 L65.84,690.39 L66.36,690.38 L66.88,690.38 L67.39,690.37 L67.91,690.36 L68.43,690.36 L68.95,690.35 L69.47,690.35 L69.98,690.34 L70.5,690.33 L71.02,690.33 L71.54,690.32 L72.06,690.31 L72.57,690.31 L73.09,690.3 L73.61,690.29 L74.13,690.29 L74.65,690.28 L75.16,690.28 L75.68,690.27 L76.2,690.26 L76.72,690.26 L77.24,690.25 L77.75,690.24 L78.27,690.24 L78.79,690.23 L79.31,690.22 L79.83,690.22 L80.34,690.21 L80.86,690.2 L81.38,690.2 L81.9,690.19 L82.42,690.18 L82.93,690.18 L83.45,690.17 L83.97,690.16 L84.49,690.16 L85.01,690.15 L85.52,690.14 L86.04,690.14 L86.56,690.13" fill="none" stroke="#4a6488" stroke-width="2.2"/><path d="M56,690.48 L56.52,690.48 L57.04,690.47 L57.55,690.47 L58.07,690.46 L58.59,690.46 L59.11,690.46 L59.63,690.45 L60.14,690.45 L60.66,690.44 L61.18,690.44 L61.7,690.43 L62.22,690.43 L62.73,690.42 L63.25,690.42 L63.77,690.41 L64.29,690.4 L64.81,690.4 L65.32,690.39 L65.84,690.39 L66.36,690.38 L66.88,690.38 L67.39,690.37 L67.91,690.36 L68.43,690.36 L68.95,690.35 L69.47,690.35 L69.98,690.34 L70.5,690.33 L71.02,690.33 L71.54,690.32 L72.06,690.31 L72.57,690.31 L73.09,690.3 L73.61,690.29 L74.13,690.29 L74.65,690.28 L75.16,690.28 L75.68,690.27 L76.2,690.26 L76.72,690.26 L77.24,690.25 L77.75,690.24 L78.27,690.24 L78.79,690.23 L79.31,690.22 L79.83,690.22 L80.34,690.21 L80.86,690.2 L81.38,690.2 L81.9,690.19 L82.42,690.18 L82.93,690.18 L83.45,690.17 L83.97,690.16 L84.49,690.16 L85.01,690.15 L85.52,690.14 L86.04,690.14 L86.56,690.13" fill="none" stroke="#1f4e85" stroke-width="2.4000000000000004" stroke-dasharray="2.5 9"/>
<path d="M86.56,690.13 L87.47,690.12 L88.38,690.11 L89.29,690.1 L90.2,690.09 L91.11,690.08 L92.02,690.07 L92.93,690.06 L93.84,690.04 L94.75,690.03 L95.66,690.02 L96.57,690.02 L97.49,690.01 L98.4,690 L99.31,689.99 L100.22,689.98 L101.13,689.97 L102.04,689.96 L102.95,689.95 L103.86,689.94 L104.77,689.93 L105.68,689.93 L106.59,689.92 L107.5,689.91 L108.41,689.9 L109.32,689.9 L110.23,689.89 L111.14,689.88 L112.05,689.88 L112.96,689.87 L113.87,689.86 L114.79,689.86 L115.7,689.85 L116.61,689.85 L117.52,689.84 L118.43,689.83 L119.34,689.83 L120.25,689.82 L121.16,689.82 L122.07,689.81 L122.98,689.81 L123.89,689.81 L124.8,689.8 L125.71,689.8 L126.62,689.79 L127.53,689.79 L128.44,689.78 L129.35,689.78 L130.26,689.78 L131.17,689.77 L132.09,689.77 L133,689.76 L133.91,689.76 L134.82,689.76 L135.73,689.75 L136.64,689.75 L137.55,689.74 L138.46,689.74 L139.37,689.74 L140.28,689.73" fill="none" stroke="#1f4e85" stroke-width="0.9"/>
<path d="M56,675.33 L56.75,675.21 L57.51,675.09 L58.26,674.95 L59.01,674.82 L59.76,674.68 L60.52,674.53 L61.27,674.38 L62.02,674.22 L62.78,674.06 L63.53,673.89 L64.28,673.73 L65.03,673.55 L65.79,673.38 L66.54,673.19 L67.29,673.01 L68.05,672.82 L68.8,672.63 L69.55,672.44 L70.3,672.24 L71.06,672.04 L71.81,671.83 L72.56,671.63 L73.32,671.42 L74.07,671.21 L74.82,671 L75.57,670.78 L76.33,670.56 L77.08,670.34 L77.83,670.12 L78.58,669.9 L79.34,669.67 L80.09,669.45 L80.84,669.22 L81.6,668.99 L82.35,668.76 L83.1,668.53 L83.85,668.3 L84.61,668.07 L85.36,667.83 L86.11,667.6 L86.87,667.36 L87.62,667.13 L88.37,666.89 L89.12,666.66 L89.88,666.42 L90.63,666.19 L91.38,665.95 L92.14,665.72 L92.89,665.48 L93.64,665.24 L94.39,665.01 L95.15,664.78 L95.9,664.54 L96.65,664.31 L97.41,664.08 L98.16,663.84 L98.91,663.61 L99.66,663.38 L100.42,663.15" fill="none" stroke="#ff22ff" stroke-width="0.9"/>
<path d="M100.42,663.15 L101.74,662.75 L103.06,662.35 L104.39,661.96 L105.71,661.57 L107.03,661.19 L108.36,660.81 L109.68,660.43 L111,660.06 L112.33,659.69 L113.65,659.33 L114.97,658.98 L116.3,658.63 L117.62,658.29 L118.95,657.96 L120.27,657.63 L121.59,657.31 L122.92,656.99 L124.24,656.68 L125.56,656.38 L126.89,656.09 L128.21,655.8 L129.53,655.52 L130.86,655.24 L132.18,654.98 L133.5,654.72 L134.83,654.46 L136.15,654.22 L137.47,653.98 L138.8,653.75 L140.12,653.52 L141.44,653.3 L142.77,653.09 L144.09,652.88 L145.41,652.68 L146.74,652.48 L148.06,652.29 L149.38,652.11 L150.71,651.93 L152.03,651.76 L153.35,651.59 L154.68,651.42 L156,651.26 L157.32,651.1 L158.65,650.95 L159.97,650.8 L161.3,650.65 L162.62,650.51 L163.94,650.37 L165.27,650.22 L166.59,650.08 L167.91,649.94 L169.24,649.8 L170.56,649.67 L171.88,649.53 L173.21,649.38 L174.53,649.24 L175.85,649.1 L177.18,648.95 L178.5,648.8" fill="none" stroke="#ff22ff" stroke-width="1.7"/>
<path d="M56,676.92 L56.75,676.79 L57.51,676.65 L58.26,676.51 L59.01,676.36 L59.76,676.21 L60.52,676.06 L61.27,675.91 L62.02,675.75 L62.78,675.58 L63.53,675.42 L64.28,675.25 L65.03,675.08 L65.79,674.9 L66.54,674.72 L67.29,674.54 L68.05,674.36 L68.8,674.17 L69.55,673.99 L70.3,673.79 L71.06,673.6 L71.81,673.41 L72.56,673.21 L73.32,673.01 L74.07,672.81 L74.82,672.6 L75.57,672.4 L76.33,672.19 L77.08,671.98 L77.83,671.77 L78.58,671.56 L79.34,671.35 L80.09,671.14 L80.84,670.92 L81.6,670.71 L82.35,670.49 L83.1,670.27 L83.85,670.06 L84.61,669.84 L85.36,669.62 L86.11,669.4 L86.87,669.18 L87.62,668.96 L88.37,668.74 L89.12,668.52 L89.88,668.3 L90.63,668.08 L91.38,667.86 L92.14,667.64 L92.89,667.42 L93.64,667.2 L94.39,666.98 L95.15,666.76 L95.9,666.55 L96.65,666.33 L97.41,666.11 L98.16,665.9 L98.91,665.68 L99.66,665.47 L100.42,665.25" fill="none" stroke="#ff22ff" stroke-width="0.7"/>
<path d="M100.42,665.25 L101.74,664.88 L103.06,664.51 L104.39,664.15 L105.71,663.78 L107.03,663.43 L108.36,663.07 L109.68,662.73 L111,662.38 L112.33,662.04 L113.65,661.71 L114.97,661.38 L116.3,661.06 L117.62,660.74 L118.95,660.43 L120.27,660.13 L121.59,659.83 L122.92,659.54 L124.24,659.25 L125.56,658.97 L126.89,658.7 L128.21,658.43 L129.53,658.17 L130.86,657.92 L132.18,657.67 L133.5,657.43 L134.83,657.2 L136.15,656.97 L137.47,656.75 L138.8,656.53 L140.12,656.32 L141.44,656.12 L142.77,655.92 L144.09,655.73 L145.41,655.55 L146.74,655.36 L148.06,655.19 L149.38,655.02 L150.71,654.85 L152.03,654.69 L153.35,654.54 L154.68,654.38 L156,654.23 L157.32,654.09 L158.65,653.95 L159.97,653.81 L161.3,653.67 L162.62,653.54 L163.94,653.41 L165.27,653.27 L166.59,653.14 L167.91,653.02 L169.24,652.89 L170.56,652.76 L171.88,652.63 L173.21,652.5 L174.53,652.37 L175.85,652.23 L177.18,652.09 L178.5,651.95" fill="none" stroke="#ff22ff" stroke-width="0.9"/>
<path d="M56,659.76 L57.51,659.52 L59.01,659.27 L60.52,659.01 L62.02,658.73 L63.53,658.45 L65.03,658.16 L66.54,657.85 L68.05,657.54 L69.55,657.22 L71.06,656.89 L72.56,656.55 L74.07,656.2 L75.57,655.85 L77.08,655.49 L78.58,655.12 L80.09,654.74 L81.6,654.36 L83.1,653.97 L84.61,653.58 L86.11,653.18 L87.62,652.77 L89.12,652.36 L90.63,651.94 L92.14,651.52 L93.64,651.09 L95.15,650.66 L96.65,650.22 L98.16,649.79 L99.66,649.34 L101.17,648.9 L102.68,648.45 L104.18,648 L105.69,647.54 L107.19,647.08 L108.7,646.62 L110.2,646.16 L111.71,645.7 L113.22,645.23 L114.72,644.77 L116.23,644.3 L117.73,643.83 L119.24,643.36 L120.74,642.89 L122.25,642.42 L123.75,641.95 L125.26,641.47 L126.77,641 L128.27,640.53 L129.78,640.06 L131.28,639.59 L132.79,639.12 L134.29,638.65 L135.8,638.18 L137.31,637.72 L138.81,637.25 L140.32,636.79 L141.82,636.32 L143.33,635.86 L144.83,635.4" fill="none" stroke="#ff22ff" stroke-width="0.9"/>
<path d="M144.83,635.4 L147.48,634.6 L150.13,633.81 L152.77,633.02 L155.42,632.24 L158.07,631.47 L160.72,630.71 L163.36,629.96 L166.01,629.22 L168.66,628.49 L171.3,627.77 L173.95,627.06 L176.6,626.37 L179.24,625.68 L181.89,625.01 L184.54,624.36 L187.18,623.71 L189.83,623.08 L192.48,622.47 L195.12,621.86 L197.77,621.27 L200.42,620.7 L203.07,620.13 L205.71,619.59 L208.36,619.05 L211.01,618.53 L213.65,618.03 L216.3,617.53 L218.95,617.06 L221.59,616.59 L224.24,616.14 L226.89,615.7 L229.53,615.27 L232.18,614.86 L234.83,614.46 L237.47,614.07 L240.12,613.69 L242.77,613.32 L245.42,612.96 L248.06,612.61 L250.71,612.27 L253.36,611.94 L256,611.62 L258.65,611.31 L261.3,611 L263.94,610.7 L266.59,610.41 L269.24,610.12 L271.88,609.83 L274.53,609.55 L277.18,609.27 L279.82,608.99 L282.47,608.71 L285.12,608.43 L287.77,608.15 L290.41,607.87 L293.06,607.58 L295.71,607.29 L298.35,607 L301,606.69" fill="none" stroke="#ff22ff" stroke-width="1.7"/>
<path d="M56,662.94 L57.51,662.67 L59.01,662.4 L60.52,662.12 L62.02,661.83 L63.53,661.53 L65.03,661.22 L66.54,660.91 L68.05,660.59 L69.55,660.27 L71.06,659.94 L72.56,659.6 L74.07,659.26 L75.57,658.9 L77.08,658.55 L78.58,658.19 L80.09,657.82 L81.6,657.45 L83.1,657.07 L84.61,656.69 L86.11,656.3 L87.62,655.91 L89.12,655.52 L90.63,655.12 L92.14,654.71 L93.64,654.31 L95.15,653.9 L96.65,653.48 L98.16,653.07 L99.66,652.65 L101.17,652.23 L102.68,651.8 L104.18,651.38 L105.69,650.95 L107.19,650.52 L108.7,650.08 L110.2,649.65 L111.71,649.21 L113.22,648.78 L114.72,648.34 L116.23,647.9 L117.73,647.46 L119.24,647.02 L120.74,646.58 L122.25,646.14 L123.75,645.7 L125.26,645.26 L126.77,644.82 L128.27,644.38 L129.78,643.94 L131.28,643.5 L132.79,643.06 L134.29,642.63 L135.8,642.19 L137.31,641.76 L138.81,641.32 L140.32,640.89 L141.82,640.46 L143.33,640.03 L144.83,639.61" fill="none" stroke="#ff22ff" stroke-width="0.7"/>
<path d="M144.83,639.61 L147.48,638.86 L150.13,638.12 L152.77,637.39 L155.42,636.67 L158.07,635.95 L160.72,635.25 L163.36,634.55 L166.01,633.86 L168.66,633.19 L171.3,632.52 L173.95,631.86 L176.6,631.22 L179.24,630.59 L181.89,629.97 L184.54,629.36 L187.18,628.76 L189.83,628.18 L192.48,627.6 L195.12,627.05 L197.77,626.5 L200.42,625.97 L203.07,625.45 L205.71,624.94 L208.36,624.45 L211.01,623.96 L213.65,623.5 L216.3,623.04 L218.95,622.6 L221.59,622.17 L224.24,621.75 L226.89,621.34 L229.53,620.95 L232.18,620.56 L234.83,620.19 L237.47,619.83 L240.12,619.48 L242.77,619.14 L245.42,618.81 L248.06,618.48 L250.71,618.17 L253.36,617.87 L256,617.57 L258.65,617.28 L261.3,616.99 L263.94,616.72 L266.59,616.44 L269.24,616.18 L271.88,615.91 L274.53,615.65 L277.18,615.39 L279.82,615.13 L282.47,614.87 L285.12,614.62 L287.77,614.36 L290.41,614.1 L293.06,613.83 L295.71,613.56 L298.35,613.29 L301,613.01" fill="none" stroke="#ff22ff" stroke-width="0.9"/>
<path d="M56,644.2 L58.26,643.83 L60.52,643.46 L62.78,643.06 L65.03,642.65 L67.29,642.23 L69.55,641.79 L71.81,641.33 L74.07,640.86 L76.33,640.38 L78.58,639.88 L80.84,639.38 L83.1,638.86 L85.36,638.33 L87.62,637.78 L89.88,637.23 L92.14,636.67 L94.39,636.09 L96.65,635.51 L98.91,634.91 L101.17,634.31 L103.43,633.7 L105.69,633.08 L107.95,632.46 L110.2,631.83 L112.46,631.19 L114.72,630.54 L116.98,629.89 L119.24,629.23 L121.5,628.56 L123.75,627.9 L126.01,627.22 L128.27,626.54 L130.53,625.86 L132.79,625.17 L135.05,624.49 L137.31,623.79 L139.56,623.1 L141.82,622.4 L144.08,621.7 L146.34,621 L148.6,620.29 L150.86,619.59 L153.12,618.88 L155.37,618.18 L157.63,617.47 L159.89,616.76 L162.15,616.05 L164.41,615.35 L166.67,614.64 L168.92,613.93 L171.18,613.23 L173.44,612.53 L175.7,611.82 L177.96,611.12 L180.22,610.43 L182.48,609.73 L184.73,609.04 L186.99,608.35 L189.25,607.66" fill="none" stroke="#ff22ff" stroke-width="0.9"/>
<path d="M189.25,607.66 L193.22,606.45 L197.19,605.26 L201.16,604.08 L205.13,602.91 L209.1,601.76 L213.07,600.62 L217.04,599.49 L221.01,598.38 L224.98,597.28 L228.95,596.2 L232.92,595.14 L236.89,594.1 L240.87,593.08 L244.84,592.07 L248.81,591.09 L252.78,590.12 L256.75,589.17 L260.72,588.25 L264.69,587.34 L268.66,586.46 L272.63,585.59 L276.6,584.75 L280.57,583.93 L284.54,583.13 L288.51,582.35 L292.48,581.59 L296.45,580.85 L300.42,580.13 L304.39,579.44 L308.36,578.76 L312.33,578.1 L316.3,577.46 L320.27,576.84 L324.24,576.23 L328.21,575.65 L332.18,575.08 L336.15,574.53 L340.12,573.99 L344.09,573.47 L348.06,572.96 L352.03,572.47 L356,571.98 L359.97,571.51 L363.95,571.05 L367.92,570.6 L371.89,570.16 L375.86,569.72 L379.83,569.3 L383.8,568.87 L387.77,568.45 L391.74,568.03 L395.71,567.61 L399.68,567.2 L403.65,566.78 L407.62,566.35 L411.59,565.92 L415.56,565.49 L419.53,565.04 L423.5,564.59" fill="none" stroke="#ff22ff" stroke-width="1.7"/>
<path d="M56,648.96 L58.26,648.56 L60.52,648.15 L62.78,647.72 L65.03,647.29 L67.29,646.84 L69.55,646.39 L71.81,645.92 L74.07,645.44 L76.33,644.95 L78.58,644.46 L80.84,643.95 L83.1,643.43 L85.36,642.91 L87.62,642.37 L89.88,641.83 L92.14,641.28 L94.39,640.72 L96.65,640.16 L98.91,639.58 L101.17,639 L103.43,638.42 L105.69,637.82 L107.95,637.23 L110.2,636.62 L112.46,636.01 L114.72,635.4 L116.98,634.78 L119.24,634.15 L121.5,633.52 L123.75,632.89 L126.01,632.25 L128.27,631.61 L130.53,630.97 L132.79,630.32 L135.05,629.68 L137.31,629.02 L139.56,628.37 L141.82,627.72 L144.08,627.06 L146.34,626.4 L148.6,625.74 L150.86,625.08 L153.12,624.42 L155.37,623.76 L157.63,623.1 L159.89,622.44 L162.15,621.78 L164.41,621.12 L166.67,620.46 L168.92,619.8 L171.18,619.15 L173.44,618.49 L175.7,617.84 L177.96,617.19 L180.22,616.54 L182.48,615.89 L184.73,615.24 L186.99,614.6 L189.25,613.96" fill="none" stroke="#ff22ff" stroke-width="0.7"/>
<path d="M189.25,613.96 L193.22,612.84 L197.19,611.74 L201.16,610.64 L205.13,609.55 L209.1,608.48 L213.07,607.42 L217.04,606.38 L221.01,605.35 L224.98,604.33 L228.95,603.33 L232.92,602.35 L236.89,601.38 L240.87,600.43 L244.84,599.5 L248.81,598.59 L252.78,597.69 L256.75,596.81 L260.72,595.96 L264.69,595.12 L268.66,594.3 L272.63,593.5 L276.6,592.72 L280.57,591.96 L284.54,591.22 L288.51,590.5 L292.48,589.79 L296.45,589.11 L300.42,588.44 L304.39,587.8 L308.36,587.17 L312.33,586.56 L316.3,585.97 L320.27,585.39 L324.24,584.84 L328.21,584.29 L332.18,583.77 L336.15,583.26 L340.12,582.76 L344.09,582.28 L348.06,581.81 L352.03,581.35 L356,580.9 L359.97,580.47 L363.95,580.04 L367.92,579.63 L371.89,579.22 L375.86,578.81 L379.83,578.42 L383.8,578.02 L387.77,577.63 L391.74,577.25 L395.71,576.86 L399.68,576.47 L403.65,576.09 L407.62,575.69 L411.59,575.3 L415.56,574.89 L419.53,574.48 L423.5,574.06" fill="none" stroke="#ff22ff" stroke-width="0.9"/>
</g>
<path d="M56.5,458.5 H593.5" fill="none" stroke="#707070" stroke-width="1"/>
<path d="M593.5,458.5 V691" fill="none" stroke="#7a7a7a" stroke-width="1"/>
<path d="M56.5,458 V691" fill="none" stroke="#3c3c3c" stroke-width="1"/>
<line x1="51.5" y1="690.5" x2="56.5" y2="690.5" stroke="#8a8a8a" stroke-width="1"/>
<line x1="593.5" y1="690.5" x2="598.5" y2="690.5" stroke="#8a8a8a" stroke-width="1"/>
<line x1="51.5" y1="652.5" x2="56.5" y2="652.5" stroke="#8a8a8a" stroke-width="1"/>
<line x1="593.5" y1="652.5" x2="598.5" y2="652.5" stroke="#8a8a8a" stroke-width="1"/>
<line x1="51.5" y1="613.5" x2="56.5" y2="613.5" stroke="#222" stroke-width="1"/>
<line x1="593.5" y1="613.5" x2="598.5" y2="613.5" stroke="#222" stroke-width="1"/>
<line x1="51.5" y1="574.5" x2="56.5" y2="574.5" stroke="#8a8a8a" stroke-width="1"/>
<line x1="593.5" y1="574.5" x2="598.5" y2="574.5" stroke="#8a8a8a" stroke-width="1"/>
<line x1="51.5" y1="535.5" x2="56.5" y2="535.5" stroke="#8a8a8a" stroke-width="1"/>
<line x1="593.5" y1="535.5" x2="598.5" y2="535.5" stroke="#8a8a8a" stroke-width="1"/>
<line x1="51.5" y1="496.5" x2="56.5" y2="496.5" stroke="#8a8a8a" stroke-width="1"/>
<line x1="593.5" y1="496.5" x2="598.5" y2="496.5" stroke="#8a8a8a" stroke-width="1"/>
<text transform="translate(46.5,441.9) scale(0.98,1)" font-size="12" text-anchor="end" fill="#333">0</text>
<text transform="translate(46.5,414.57) scale(0.98,1)" font-size="12" text-anchor="end" fill="#333">5</text>
<text transform="translate(46.5,387.24) scale(0.98,1)" font-size="12" text-anchor="end" fill="#333">10</text>
<text transform="translate(46.5,359.91) scale(0.98,1)" font-size="12" text-anchor="end" fill="#333">15</text>
<text transform="translate(46.5,332.58) scale(0.98,1)" font-size="12" text-anchor="end" fill="#333">20</text>
<text transform="translate(46.5,305.25) scale(0.98,1)" font-size="12" text-anchor="end" fill="#333">25</text>
<text transform="translate(46.5,277.92) scale(0.98,1)" font-size="12" text-anchor="end" fill="#333">30</text>
<text transform="translate(46.5,250.59) scale(0.98,1)" font-size="12" text-anchor="end" fill="#333">35</text>
<text transform="translate(46.5,223.26) scale(0.98,1)" font-size="12" text-anchor="end" fill="#333">40</text>
<text transform="translate(46.5,195.93) scale(0.98,1)" font-size="12" text-anchor="end" fill="#333">45</text>
<text transform="translate(46.5,168.6) scale(0.98,1)" font-size="12" text-anchor="end" fill="#333">50</text>
<text transform="translate(46.5,141.27) scale(0.98,1)" font-size="12" text-anchor="end" fill="#333">55</text>
<text transform="translate(46.5,113.94) scale(0.98,1)" font-size="12" text-anchor="end" fill="#333">60</text>
<text transform="translate(46.5,86.61) scale(0.98,1)" font-size="12" text-anchor="end" fill="#333">65</text>
<text transform="translate(602,441.9) scale(0.98,1)" font-size="12" fill="#333">0</text>
<text transform="translate(602,414.57) scale(0.98,1)" font-size="12" fill="#333">10</text>
<text transform="translate(602,387.24) scale(0.98,1)" font-size="12" fill="#333">20</text>
<text transform="translate(602,359.91) scale(0.98,1)" font-size="12" fill="#333">30</text>
<text transform="translate(602,332.58) scale(0.98,1)" font-size="12" fill="#333">40</text>
<text transform="translate(602,305.25) scale(0.98,1)" font-size="12" fill="#333">50</text>
<text transform="translate(602,277.92) scale(0.98,1)" font-size="12" fill="#333">60</text>
<text transform="translate(602,250.59) scale(0.98,1)" font-size="12" fill="#333">70</text>
<text transform="translate(602,223.26) scale(0.98,1)" font-size="12" fill="#333">80</text>
<text transform="translate(602,195.93) scale(0.98,1)" font-size="12" fill="#333">90</text>
<text transform="translate(602,168.6) scale(0.98,1)" font-size="12" fill="#333">100</text>
<text transform="translate(55.5,454) scale(0.98,1)" font-size="12" text-anchor="middle" fill="#333">0</text>
<text transform="translate(125.5,454) scale(0.98,1)" font-size="12" text-anchor="middle" fill="#333">20</text>
<text transform="translate(195.5,454) scale(0.98,1)" font-size="12" text-anchor="middle" fill="#333">40</text>
<text transform="translate(265.5,454) scale(0.98,1)" font-size="12" text-anchor="middle" fill="#333">60</text>
<text transform="translate(335.5,454) scale(0.98,1)" font-size="12" text-anchor="middle" fill="#333">80</text>
<text transform="translate(405.5,454) scale(0.98,1)" font-size="12" text-anchor="middle" fill="#333">100</text>
<text transform="translate(475.5,454) scale(0.98,1)" font-size="12" text-anchor="middle" fill="#333">120</text>
<text transform="translate(549,453) scale(0.96,1)" font-size="11" fill="#333">Q [м³/ч]</text>
<text transform="translate(32,9) scale(1.0,1)" font-size="11" text-anchor="middle" fill="#333">H</text>
<text transform="translate(32.3,23) scale(1.0,1)" font-size="11" text-anchor="middle" fill="#333">[м]</text>
<text transform="translate(620.5,9) scale(1.0,1)" font-size="11" text-anchor="middle" fill="#333">eta</text>
<text transform="translate(620.5,23) scale(1.0,1)" font-size="11" text-anchor="middle" fill="#333">[%]</text>
<text transform="translate(443.5,13.9) scale(0.995,1)" font-size="11" fill="#222">HYDRO MPC-E 4 CRE20-3</text>
<text transform="translate(84.5,94.5) scale(0.92,1)" font-size="12" fill="#262626">100 %</text>
<text transform="translate(84.5,158) scale(0.92,1)" font-size="12" fill="#262626">90 %</text>
<text transform="translate(84.5,215.1) scale(0.92,1)" font-size="12" fill="#262626">80 %</text>
<text transform="translate(84.5,265.5) scale(0.92,1)" font-size="12" fill="#262626">70 %</text>
<text transform="translate(84.5,310.3) scale(0.92,1)" font-size="12" fill="#262626">60 %</text>
<text transform="translate(84.5,347.4) scale(0.92,1)" font-size="12" fill="#262626">50 %</text>
<text transform="translate(84.5,378.6) scale(0.92,1)" font-size="12" fill="#262626">40 %</text>
<text transform="translate(84.5,413) scale(0.92,1)" font-size="12" fill="#262626">25 %</text>
<text transform="translate(84.5,424.5) scale(0.92,1)" font-size="12" fill="#262626">16 %</text>
<text transform="translate(46.5,695.5) scale(0.98,1)" font-size="12" text-anchor="end" fill="#333">0</text>
<text transform="translate(602,695.5) scale(0.98,1)" font-size="12" fill="#333">0</text>
<text transform="translate(46.5,656.7) scale(0.98,1)" font-size="12" text-anchor="end" fill="#333">5</text>
<text transform="translate(602,656.7) scale(0.98,1)" font-size="12" fill="#333">5</text>
<text transform="translate(46.5,617.9) scale(0.98,1)" font-size="12" text-anchor="end" fill="#333">10</text>
<text transform="translate(602,617.9) scale(0.98,1)" font-size="12" fill="#333">10</text>
<text transform="translate(46.5,579.1) scale(0.98,1)" font-size="12" text-anchor="end" fill="#333">15</text>
<text transform="translate(602,579.1) scale(0.98,1)" font-size="12" fill="#333">15</text>
<text transform="translate(46.5,540.3) scale(0.98,1)" font-size="12" text-anchor="end" fill="#333">20</text>
<text transform="translate(602,540.3) scale(0.98,1)" font-size="12" fill="#333">20</text>
<text transform="translate(46.5,501.5) scale(0.98,1)" font-size="12" text-anchor="end" fill="#333">25</text>
<text transform="translate(602,501.5) scale(0.98,1)" font-size="12" fill="#333">25</text>
<text transform="translate(27,467) scale(1.0,1)" font-size="11" text-anchor="middle" fill="#333">P</text>
<text transform="translate(27.4,481) scale(1.08,1)" font-size="11" text-anchor="middle" fill="#333">[кВт]</text>
<text transform="translate(625.5,467) scale(1.05,1)" font-size="11" text-anchor="middle" fill="#333">NPSH</text>
<text transform="translate(625.3,481) scale(1.0,1)" font-size="11" text-anchor="middle" fill="#333">[м]</text>
<text transform="translate(378,520.3) scale(0.99,1)" font-size="11.5" fill="#3a6394">P1 (двиг.+преобр-ль частоты)</text>
<text transform="translate(527.5,546) scale(1.0,1)" font-size="11.5" fill="#3a6394">P2</text>
</svg></body></html>
